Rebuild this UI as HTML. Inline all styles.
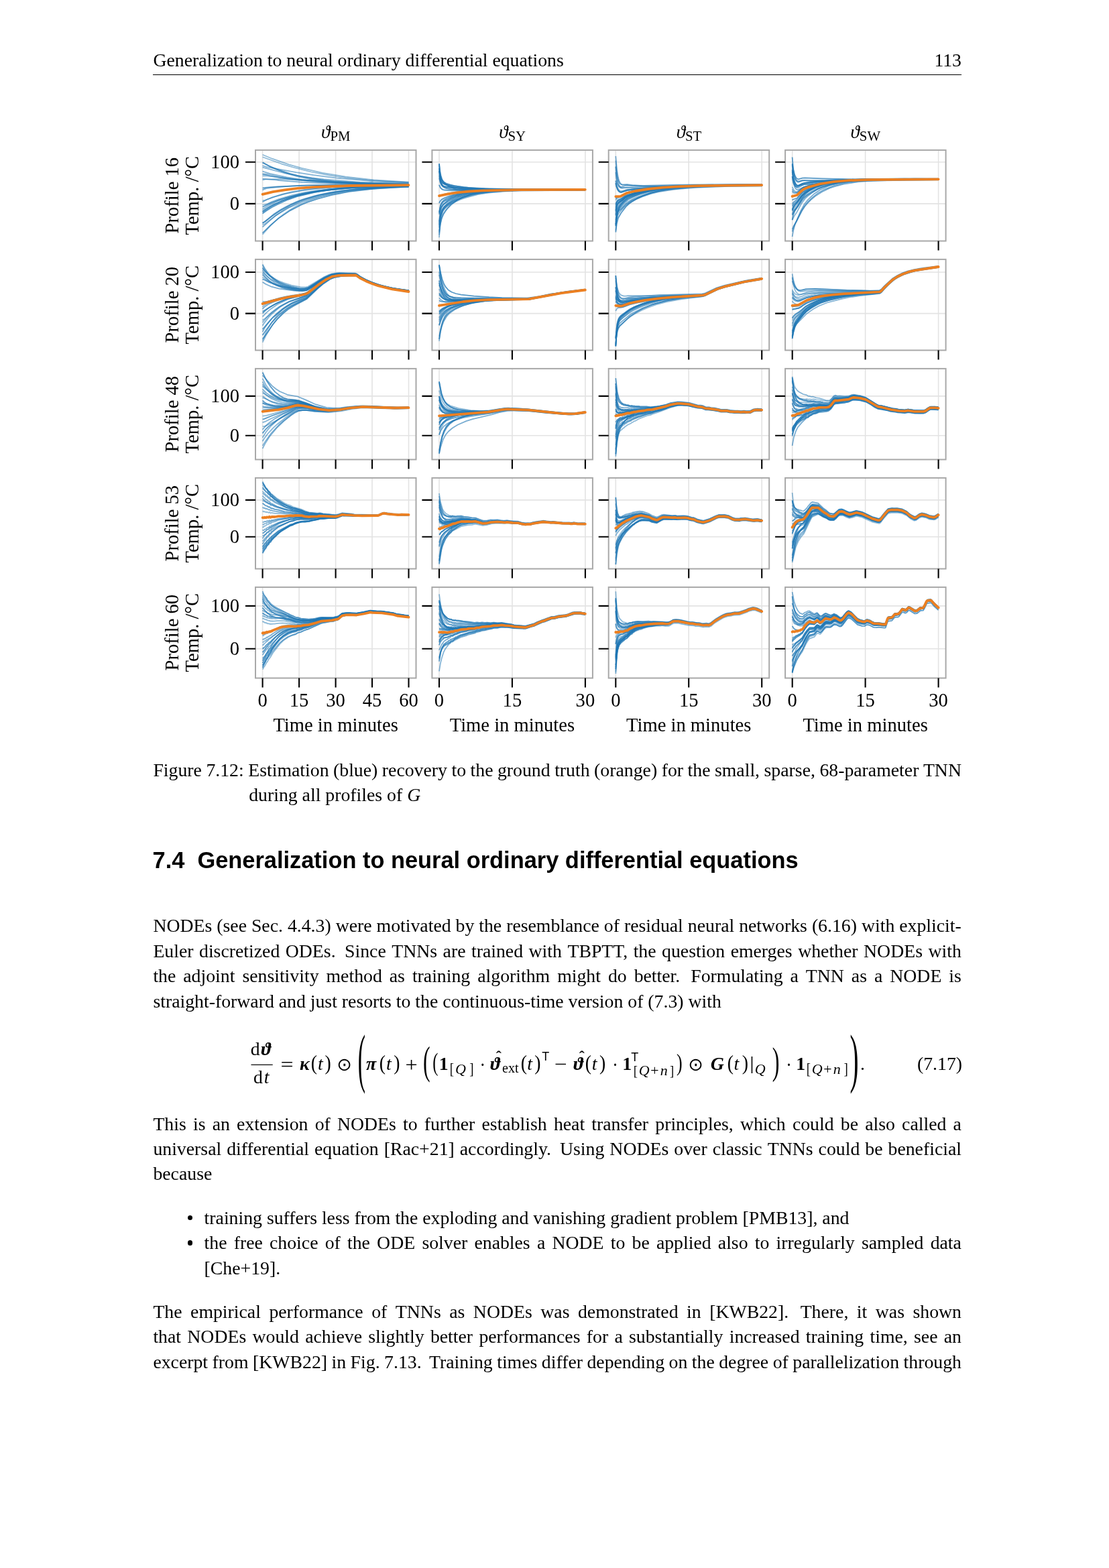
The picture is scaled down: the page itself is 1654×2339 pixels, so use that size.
<!DOCTYPE html>
<html><head><meta charset="utf-8"><title>Generalization to neural ordinary differential equations</title>
<style>
html,body{margin:0;padding:0;background:#fff;}
body{width:1654px;height:2339px;position:relative;overflow:hidden;font-family:"Liberation Serif", "DejaVu Serif", serif;font-size:27.78px;color:#000;}
.ln{position:absolute;white-space:nowrap;line-height:37.4px;height:37.4px;}
.j{display:flex;justify-content:space-between;}
.fig{position:absolute;left:0;top:0;}
.fig text{font-family:"Liberation Serif", "DejaVu Serif", serif;font-size:28.6px;fill:#000;}
.fig .ttl{font-size:28.8px;}
.fig .th{font-style:italic;font-size:27.2px;}
.fig .sub{font-size:20.8px;}
.grid{stroke:#e3e3e3;stroke-width:1.6;fill:none;}
.sp{fill:none;stroke:#a8a8a8;stroke-width:2.0;}
.tk{stroke:#000;stroke-width:2.1;fill:none;}
.bl{fill:none;stroke:#1f77b4;stroke-width:1.75;stroke-linejoin:round;}
.or{fill:none;stroke:#ec8022;stroke-width:3.8;stroke-linejoin:round;stroke-linecap:round;}
.hd{position:absolute;font-family:"Liberation Sans", "DejaVu Sans", sans-serif;font-weight:bold;font-size:34.4px;white-space:pre;line-height:40px;}
.rule{position:absolute;left:228px;width:1206px;top:111px;height:1px;background:#000;}
.m{position:absolute;white-space:nowrap;line-height:1;}
.it{font-style:italic;}
.bf{font-weight:bold;}
.bi{font-weight:bold;font-style:italic;}
.dot{position:absolute;width:7.4px;height:7.4px;border-radius:50%;background:#000;}
</style></head>
<body>
<div class="ln" style="top:70.72px;left:228.4px;">Generalization to neural ordinary differential equations</div>
<div class="ln" style="top:70.72px;left:1300px;width:1134px;left:300px;text-align:right;">113</div>
<div class="rule"></div>
<svg class="fig" width="1654" height="1110" viewBox="0 0 1654 1110">
<text x="500.8" y="205.5" text-anchor="middle" class="ttl"><tspan class="th">ϑ</tspan><tspan class="sub" dy="4.4">PM</tspan></text>
<text x="764.1" y="205.5" text-anchor="middle" class="ttl"><tspan class="th">ϑ</tspan><tspan class="sub" dy="4.4">SY</tspan></text>
<text x="1027.5" y="205.5" text-anchor="middle" class="ttl"><tspan class="th">ϑ</tspan><tspan class="sub" dy="4.4">ST</tspan></text>
<text x="1290.8" y="205.5" text-anchor="middle" class="ttl"><tspan class="th">ϑ</tspan><tspan class="sub" dy="4.4">SW</tspan></text>
<text transform="translate(266.4,291.7) rotate(-90)" text-anchor="middle" class="lab">Profile 16</text>
<text transform="translate(295.5,291.7) rotate(-90)" text-anchor="middle" class="lab">Temp. /°C</text>
<text x="357" y="251.1" text-anchor="end" class="lab">100</text>
<text x="357" y="313.2" text-anchor="end" class="lab">0</text>
<path d="M391.6 223.9V359.5M446.1 223.9V359.5M500.6 223.9V359.5M555.0 223.9V359.5M609.5 223.9V359.5M381.0 241.8H620.5M381.0 303.9H620.5" class="grid"/>
<clipPath id="cp00"><rect x="381.0" y="223.9" width="239.5" height="135.6"/></clipPath>
<g clip-path="url(#cp00)">
<path d="M391.6 230.7l14.3 6 24.8 8.6 19.4 5.5 30.6 7 34.8 5.8 41.9 4.8 52.1 3.2" class="bl" stroke-opacity="0.5"/>
<path d="M391.6 241.9l12.5 7.4 20.4 8.5 19.4 5.7 21.5 4.2 26.6 3.4 35.7 2.4 54.2 1.7 27.6 0.3" class="bl" stroke-opacity="0.55"/>
<path d="M391.6 242.8l9 4.4 12.7 5.4 19.4 6.6 12.3 3.1 14.3 2.9 19.4 3 20.4 2.3 45 3 30.7 0.9 34.7 0.5" class="bl" stroke-opacity="0.75"/>
<path d="M391.6 249.7l32.9 8.5 24.5 4.6 16.4 2.5 17.4 2.1 54.1 4.5 72.6 2.5" class="bl" stroke-opacity="0.55"/>
<path d="M391.6 255.7l11.4 3.4 24.6 5.2 22.5 3.6 26.5 2.7 22.5 1.4 4.1 0.6 36.8 1.5 69.5 1.1" class="bl" stroke-opacity="0.55"/>
<path d="M391.6 260.1l2.1-0.6 3.6 0 18 4 22.5 3.5 18.4 2.1 24.5 2.1 61.3 2.5 67.5 0.9" class="bl" stroke-opacity="0.5"/>
<path d="M391.6 262.4l3.1-0.3 4.6 0.4 30.3 3.9 20.5 2 44.9 3.2 38.9 1.7 75.6 1.5" class="bl" stroke-opacity="0.55"/>
<path d="M391.6 268.4l4.4-0.9 22.4-0.3 38.8 1.6 4.1-0.1 47 2.4 40.9 1.4 4.1-0.3 4.1 0.5 52.1 1.1" class="bl" stroke-opacity="0.55"/>
<path d="M391.6 280.6l2.2-0.5 0.9 0.3 0.9-0.5 18.7-1.6 45-1.8 76.6-0.7 73.6 0" class="bl" stroke-opacity="0.75"/>
<path d="M391.6 283.6l2.1-1.3 4.1-1.3 5.7-0.9 26.1-2.3 21.5-1.1 72.6-1.4 85.8 0" class="bl" stroke-opacity="0.6"/>
<path d="M391.6 299.3l3.8-0.8 14.8-5 15.3-4.3 24.6-4.7 18.4-2.3 25.5-2.3 34.8-1.6 34.7-0.9 46-0.5" class="bl" stroke-opacity="0.5"/>
<path d="M391.6 301.2l6.4-3.5 7.9-3.3 15.6-4.8 13.2-3.2 24.6-4.2 24.5-2.4 29.6-1.8 49.1-1.5 47-0.4" class="bl" stroke-opacity="0.6"/>
<path d="M391.6 305.5l2.9-0.1 4.4-1.4 6.7-3.2 10.7-3.9 19.5-5.9 18.4-4 16.3-2.5 21.5-2.5 40.9-2.8 11.2-0.1 20.4-1 45-0.6" class="bl" stroke-opacity="0.5"/>
<path d="M391.6 312.3l3-2.3 6.9-4.1 11.8-5.5 12.2-4.6 16.4-4.9 13.3-3.1 19.4-3.4 19.4-2.4 26.6-2.3 56.2-2.5 32.7-0.5" class="bl" stroke-opacity="0.55"/>
<path d="M391.6 315.1l4-3.1 7.2-4.2 6.4-3.2 10.2-4.4 16.4-5.7 8.1-2.3 22.5-5 27.6-4.1 32.7-3.1 27.6-1.5 55.2-1.6" class="bl" stroke-opacity="0.75"/>
<path d="M391.6 318.6l4.4-3.4 9.4-5.9 12-6.1 12.2-5.4 13.3-4.6 26.6-6.3 9.2-1.7 23.5-3.1 28.6-2.4 39.9-2 38.8-0.8" class="bl" stroke-opacity="0.75"/>
<path d="M391.6 332.3l3.1-1.3 10.1-7.9 12.6-8.5 17.3-9.5 12.3-5.3 8.2-2.9 22.5-6.2 26.5-4.9 30.7-3.7 30.7-2.2 43.9-1.5" class="bl" stroke-opacity="0.75"/>
<path d="M391.6 335.6l4-2.2 10-7.8 7.7-5.4 17.4-10.2 20.4-9 10.2-3.5 18.4-5.2 28.6-5.3 30.7-3.9 29.6-2.4 40.9-1.8" class="bl" stroke-opacity="0.5"/>
<path d="M391.6 338.7l18.6-16.4 10.2-7.1 8.2-5.1 17.4-8.6 14.3-5.2 11.2-3.5 6.2-1.7 21.4-4.4 10.2-1.7 20.5-2.5 28.6-2.4 51.1-2.3" class="bl" stroke-opacity="0.6"/>
<path d="M391.6 349.7l12.3-13.6 10.4-9.8 9.2-7.1 9.2-6.1 10.2-6 14.3-6.6 15.4-5.6 17.3-4.8 11.3-2.4 25.5-4.1 27.6-2.8 21.5-1.5 33.7-1.3" class="bl" stroke-opacity="0.5"/>
<path d="M391.6 234.2l27.8 10.1 17.4 5.2 27.6 7 27.6 5.1 23.5 3.5 32.7 3.4 29.6 2.1 31.7 1.6" class="bl" stroke-opacity="0.5"/>
<path d="M391.6 247.1l6.4 2 5.5 1.1 38.4 7 25.5 4 34.8 4.4 56.2 4.7 51.1 2.4" class="bl" stroke-opacity="0.55"/>
<path d="M391.6 259.4l11.8 3.1 22.1 3.6 16.4 2.2 25.5 2.5 32.7 2.1 29.7 1.2 48 1.2 31.7 0.2" class="bl" stroke-opacity="0.6"/>
<path d="M391.6 266.7l20.7 1.8 4 0.7 34.8 2.6 46 2 49 1.1 63.4 0.7" class="bl" stroke-opacity="0.6"/>
<path d="M391.6 308.7l13-6.3 12.8-4.5 13.3-4 20.4-4.7 22.5-3.7 17.4-2.1 32.7-2.8 45.9-2.3 39.9-0.9" class="bl" stroke-opacity="0.75"/>
<path d="M391.6 316.5l12.7-8.5 17.2-8.8 14.3-5.6 9.2-2.7 19.4-4.6 24.5-3.7 20.4-2.2 41.9-2.5 58.3-1.3" class="bl" stroke-opacity="0.75"/>
<path d="M391.6 333.2l16.6-13.6 11.2-7.4 9.2-5 13.3-6.2 9.2-3.5 18.4-5.5 23.5-5.2 30.7-4.3 14.3-1.4 34.7-2.2 36.8-1.2" class="bl" stroke-opacity="0.6"/>
<path d="M391.6 347.5l11.4-11.2 12.3-10.4 17.4-11.8 16.3-8.4 8.2-3.5 16.4-5.6 21.4-5.8 25.6-4.8 34.7-4.2 46-2.9 8.2-0.1" class="bl" stroke-opacity="0.75"/>
<path d="M391.6 289.9l15.5-3.7 17.4-2.9 19.4-2.4 22.5-1.7 56.2-2.2 86.9-0.9" class="or"/>
</g>
<rect x="381.0" y="223.9" width="239.5" height="135.6" class="sp"/>
<path d="M391.6 359.5v14M446.1 359.5v14M500.6 359.5v14M555.0 359.5v14M609.5 359.5v14M381.0 241.8h-15M381.0 303.9h-15" class="tk"/>
<path d="M655.0 223.9V359.5M763.9 223.9V359.5M872.9 223.9V359.5M644.4 241.8H883.9M644.4 303.9H883.9" class="grid"/>
<clipPath id="cp01"><rect x="644.4" y="223.9" width="239.5" height="135.6"/></clipPath>
<g clip-path="url(#cp01)">
<path d="M655 244.2l0.9 10.2 1.3 7.9 1.5 5 2.2 4.1 3.5 3.5 5.9 3.6 6.7 2.8 5.2 1.5 18.9 2.2 17.1 0.3 56.9-1 97.7-0.5" class="bl" stroke-opacity="0.75"/>
<path d="M655 354.2l1.3-17.2 1.4-11.1 1.3-6.1 1.7-4.8 1.5-2.7 5.6-5.9 6.2-4.4 8.2-4.3 9.4-3.8 14.2-4.1 7.6-1.5 24.7-3 19.9-1.3 58.9-1.1 55.9-0.1" class="bl" stroke-opacity="0.5"/>
<path d="M655 350.3l1.4-13.6 1.9-9.7 2.4-7 3.7-6.1 7.8-8.5 9.6-6.9 9.8-4.9 10.4-3.7 8.6-2 8.5-1.5 26.6-2.6 41.7-1.2 85.4-0.1" class="bl" stroke-opacity="0.55"/>
<path d="M655 346.9l1.8-13.4 2.1-8.1 2.9-6.5 5.6-7.8 5.9-6 8.9-6.8 8.4-4.3 12.4-4.4 19-3.6 10.4-1.1 23.7-1.3 39.9-0.8 76.8-0.1" class="bl" stroke-opacity="0.6"/>
<path d="M655 344.6l1.3-13.2 1.3-7.9 2.4-8 2.6-4 3.3-3 7.4-4.8 13.6-6.3 9.4-3.1 17.1-4.3 15.2-2.4 24.7-2.3 34.1-1.7 85.4-0.5" class="bl" stroke-opacity="0.55"/>
<path d="M655 339.5l1.3-12.2 1.4-7.8 2.1-5.7 3.2-4.2 2.5-2.4 4.8-3.1 8.2-4.5 12.1-5 12.4-3.5 11.4-2.4 14.2-2.1 37-2.5 46.5-1.1 60.7-0.1" class="bl" stroke-opacity="0.6"/>
<path d="M655 336.7l1.3-10.6 1.4-7.6 2.1-5.9 3.2-4.6 6.2-4.9 8.5-4.3 9.2-3.6 15.1-4.2 15.2-2.8 13.3-1.7 39.9-2.7 43.6-0.8 23.7 0.4 9.5-0.5 3.8 0.3 21.8-0.3" class="bl" stroke-opacity="0.55"/>
<path d="M655 334.8l0.9-9.2 1.3-7.5 1.5-4.4 3-4.8 6.4-5.9 7.8-5 7.4-3.8 14-4.7 14.2-2.9 13.3-1.7 25.6-1.7 41.8-0.8 80.6-0.1" class="bl" stroke-opacity="0.6"/>
<path d="M655 332.3l1.8-9.9 2.6-7.9 2.6-4.4 5-5.2 8.1-5.4 8.2-4.1 10.2-3.6 11.4-2.8 8.5-1.7 13.3-1.5 16.1-1.4 18.1-0.8 54.1-0.8 57.8 0" class="bl" stroke-opacity="0.55"/>
<path d="M655 330.4l2-16.2 1.7-4.9 2.2-3.3 2.1-2 5.5-3.7 9.6-5 5.2-2.1 12.1-3.4 12.3-2.5 9.5-1 9.5-0.9 27.5-1.3 34.2-0.7 84.4-0.3" class="bl" stroke-opacity="0.75"/>
<path d="M655 319.8l2-8.5 2.2-4.3 1.3-1.8 7.6-6.3 4.8-2.8 8.5-3.8 7.3-2.3 10.5-2.3 23.7-2.8 20.9-1 64.5-0.9 64.5 0" class="bl" stroke-opacity="0.75"/>
<path d="M655 317.7l2-11.7 2-4.4 2.7-2.6 4.2-2.7 9.6-4.2 3.7-0.9 2.2-1 11.1-2.6 17.1-2.5 30.4-2.1 37-0.7 95.8 0" class="bl" stroke-opacity="0.75"/>
<path d="M655 316.7l1.3-6.7 1.8-5.1 3-3.6 3.3-2.2 9.6-4.7 7.8-2.8 9.8-2.6 10.4-1.9 16.2-1.9 27.5-1.7 37.9-0.7 89.2-0.1" class="bl" stroke-opacity="0.75"/>
<path d="M655 303.4l1.4-3.2 2.3-2.8 4.6-2.7 5.6-2 7.3-2.2 12.5-2.4 19-2.7 28.5-1.8 41.8-1.1 94.8-0.2" class="bl" stroke-opacity="0.5"/>
<path d="M655 302.6l1.4-2.5 2.6-2.5 9.5-4.3 9.2-2.6 8.2-1.7 11.4-1.9 13.3-1.3 30.3-1.8 35.2-0.6 96.7-0.4" class="bl" stroke-opacity="0.5"/>
<path d="M655 293.1l5.4-2.7 4-1.3 11.8-2.3 14.4-1.8 26.6-1.7 46.5-1.1 109.1-0.1" class="bl" stroke-opacity="0.55"/>
<path d="M655 276l1.6 3.8 2.1 2.3 2.4 0.9 8.1 0.7 36.6-0.2 7.6-0.5 159.4-0.1" class="bl" stroke-opacity="0.55"/>
<path d="M655 275.7l2.4 4.7 3.1 2.6 2.8 0.9 6.7 0.6 18.7 0.2 76-1.6 108.1-0.3" class="bl" stroke-opacity="0.5"/>
<path d="M655 265.7l2.2 8.3 1.1 2.2 2.2 2.5 3.6 1.6 2.9 0.8 13.3 1.7 29.3 0.8 119.6-0.9 3.8 0.4 39.8-0.2" class="bl" stroke-opacity="0.55"/>
<path d="M655 262.9l1.4 8.7 2.1 4.5 1.3 1.2 2.2 1 7.2 0.9 40.4 2 51.3 0.8 3.8 0.4 10.4-0.3 42.7 0.6 55-0.2" class="bl" stroke-opacity="0.5"/>
<path d="M655 260.6l2.2 10.7 3 6.3 2.8 2.3 2.2 0.9 7.4 1.8 20.9 1.5 24.7 0.6 154.6-0.8" class="bl" stroke-opacity="0.6"/>
<path d="M655 255.1l1.8 14.3 0.9 3.2 1.3 2.5 1.7 1.9 2.6 1.1 7.4 1.2 28.5 2 34.2 1.2 139.4 0.4" class="bl" stroke-opacity="0.75"/>
<path d="M655 254.7l1.4 13.2 1.2 4.8 1.4 3.1 3 2.3 4.3 1.2 7.7 1.1 15.7 1.4 33.2 1.1 149.9 0.1" class="bl" stroke-opacity="0.6"/>
<path d="M655 254.6l2 11.7 1.5 3.8 2 2.7 3.6 2.4 6.6 2.6 12.6 2.6 9.2 1.2 27.6 1.5 152.7-0.2" class="bl" stroke-opacity="0.75"/>
<path d="M655 251.2l1.3 8.8 1.3 5.1 1.8 3.9 2.8 2.9 3.3 1.7 5.6 1.8 6.6 1.7 13.9 2.3 21.8 1.8 21.8 0.9 137.6 0.5" class="bl" stroke-opacity="0.75"/>
<path d="M655 251l1.4 13.7 1 4 1.3 3 2.2 2.1 2.4 0.9 8.9 1.8 26 3.2 24.7 1.4 19 0.6 58.8 0.7 72.1 0" class="bl" stroke-opacity="0.55"/>
<path d="M655 245.7l1.8 19.8 0.9 3.8 1.9 3.6 2.4 1.7 2.4 0.7 14.8 3.2 19 2.1 38 1.6 136.6 0.2" class="bl" stroke-opacity="0.6"/>
<path d="M655 244.2l1.3 11.1 1.3 6.6 1.6 5.2 2.6 4.4 2.6 2.5 4.1 2.4 8.9 3.4 6.6 1.4 11.4 1.6 9.5 0.7 21.8 0.5 146.1-0.8" class="bl" stroke-opacity="0.6"/>
<path d="M655 292.1l13.1-2.8 14.8-2.2 17.2-1.6 20-1.2 53.1-1.2 99.6-0.3" class="or"/>
</g>
<rect x="644.4" y="223.9" width="239.5" height="135.6" class="sp"/>
<path d="M655.0 359.5v14M763.9 359.5v14M872.9 359.5v14M644.4 241.8h-15M644.4 303.9h-15" class="tk"/>
<path d="M918.3 223.9V359.5M1027.2 223.9V359.5M1136.2 223.9V359.5M907.7 241.8H1147.2M907.7 303.9H1147.2" class="grid"/>
<clipPath id="cp02"><rect x="907.7" y="223.9" width="239.5" height="135.6"/></clipPath>
<g clip-path="url(#cp02)">
<path d="M918.3 232.9l1.7 19.7 1.8 11.7 1.3 4.9 1.9 4 1.7 1.9 1.4 0.5 7.1 0.2 7.4 1.1 14.2 1 27.6 0.4 96.8-1.3 55-0.3" class="bl" stroke-opacity="0.6"/>
<path d="M918.3 346.4l1.5-12.3 2.2-8.8 4.3-7.6 7.4-9.6 4.4-4.1 4.5-3.3 6.7-4 9.4-4.6 10.5-3.9 10.4-2.9 13.3-2.6 16.1-2.3 15.2-1.3 21.8-1.3 28.5-0.8 61.7-0.5" class="bl" stroke-opacity="0.75"/>
<path d="M918.3 343.7l1.9-22.1 1.3-5.5 1.5-2.9 9.2-9.3 3.7-3 11.5-6.1 15.1-5.7 13.3-3.7 10.5-1.9 19.9-2.8 15.2-1.3 40.8-2 32.2-0.8 41.8-0.1" class="bl" stroke-opacity="0.5"/>
<path d="M918.3 336.9l1.3-12 1.7-9.1 1.8-5.5 3.9-6 3.7-4.1 4.8-3.9 7.8-3.5 14.5-5 20.9-4.9 19.9-2.7 24.7-2.2 38.9-1.5 74-0.8" class="bl" stroke-opacity="0.75"/>
<path d="M918.3 337.4l1.5-10.2 2.2-7.3 2.1-3.4 7-7.9 7.4-5.8 9.8-5.3 9.5-4.1 13.3-4.5 11.4-2.7 20.8-3.4 33.3-3 50.3-1.9 49.3-0.4" class="bl" stroke-opacity="0.6"/>
<path d="M918.3 335.1l1.1-10.9 1.7-6.8 2.2-3.1 2.6-2 7.8-7.8 7.7-5.1 8.8-4.2 20.9-7.3 13.3-3 12.3-2.1 29.4-3 23.7-1.2 41.8-1.2 44.6-0.4" class="bl" stroke-opacity="0.75"/>
<path d="M918.3 334.4l1.5-11.8 2-8.1 2.8-4.9 6.1-7.1 5.9-4.7 9.6-4.9 7.8-2.9 12.3-3.8 19-3.9 17.1-2.1 18-1.5 54.1-2.1 61.7-0.5" class="bl" stroke-opacity="0.75"/>
<path d="M918.3 331.2l1.5-11.5 2-8.3 2.6-5 5.6-6.8 5.2-4.4 3.7-2.1 10.4-4.2 8.5-2.6 12.3-2.8 18.1-2.7 27.5-2.2 43.6-1.5 76.9-0.7" class="bl" stroke-opacity="0.55"/>
<path d="M918.3 328.5l1.7-14.1 1.3-4.2 1.7-2.3 9.9-9.6 6-3.9 8.1-3.6 14.6-4.9 10.4-2.4 12.4-2 30.3-3.1 20.9-0.9 10.4 0 5.7-0.6 84.5-0.8" class="bl" stroke-opacity="0.6"/>
<path d="M918.3 321.8l1.7-8.9 1.8-5.1 2.8-4 6.5-6.6 4.8-3.4 6.3-2.7 19.4-5.7 14.2-2.7 11.4-1.4 37-2.8 63.6-1.6 48.4-0.2" class="bl" stroke-opacity="0.55"/>
<path d="M918.3 320.4l1.3-11.5 1.1-4 1.5-2.6 5.6-3.3 4.8-4.2 6.3-3 12.2-4.2 11.4-2.8 19-3.2 12.4-1.4 31.3-2.3 39.8-1.3 71.2-0.6" class="bl" stroke-opacity="0.75"/>
<path d="M918.3 315.9l2-8.3 1.9-3.5 10.4-9 8.1-3.7 8.6-2.7 23.7-5.1 23.7-2.7 27.5-1.8 58.9-1.6 53.1-0.4" class="bl" stroke-opacity="0.55"/>
<path d="M918.3 314.3l0.9-5.9 1.3-3.6 1.3-1.6 6-4.3 4.8-4.6 8.8-4.7 8.8-3.2 18-4.1 19-2.8 14.2-1.3 33.3-1.6 47.4-0.8 54.1-0.2" class="bl" stroke-opacity="0.75"/>
<path d="M918.3 313.6l1.9-7.4 2.8-5 10.7-8.7 4.4-2 7.4-2.4 22.7-4.9 27.6-3.3 14.2-1.2 28.5-1.2 45.5-1 52.2-0.3" class="bl" stroke-opacity="0.6"/>
<path d="M918.3 310.8l1.3-8.7 1.5-3.3 1.5-1.2 4.4-2.2 7.4-5.5 7-2.6 7.9-2.2 20.8-4 24.7-2.5 33.2-1.8 55.1-1 53.1-0.2" class="bl" stroke-opacity="0.5"/>
<path d="M918.3 307.9l1.3-4.8 1.7-3 5.7-3.2 5.6-4.1 4-1.9 14.5-4.2 22.8-4.3 26.6-3 26.6-1.5 56.9-1.5 52.2-0.2" class="bl" stroke-opacity="0.5"/>
<path d="M918.3 305.5l2.4-4.4 2.4-1.5 1.3-0.2 8.5-5.7 5.6-2.5 19.3-5 12.3-2.4 13.3-1.8 20.9-2 26.6-1.7 47.4-1.4 57.9-0.3" class="bl" stroke-opacity="0.55"/>
<path d="M918.3 304.7l1.3-3.7 1.9-2.3 4.8-1.9 5.9-4.1 3-1.4 15-4.1 23.7-4.3 26.6-2.7 36.1-1.9 44.6-1.1 55-0.4" class="bl" stroke-opacity="0.75"/>
<path d="M918.3 298.8l1.1-1.8 1.7-1.4 5.2-2.7 5.2-3.7 5.5-2.6 7.8-2 14.9-2.9 18-2.3 26.6-2.2 38-1.3 62.6-0.8 27.5 0.4 3.8-0.4" class="bl" stroke-opacity="0.5"/>
<path d="M918.3 296.3l2.2-2.1 4.9-1.3 8.3-4.9 5.5-2 17.6-3.4 20-2.6 27.5-2.2 27.5-1 33.2-0.9 71.2-0.2" class="bl" stroke-opacity="0.75"/>
<path d="M918.3 273.1l0.9 4.8 1.7 5 1.7 2.7 2.8 1.5 2-0.2 7.4-3.2 5.5-0.9 20.3-2.3 25.7-1.9 23.7-1.2 50.3-1.1 75.9-0.3" class="bl" stroke-opacity="0.5"/>
<path d="M918.3 273.3l1.3 5.3 1.9 4.3 2.4 3 2.4 0.7 10.3-2.8 7.8-0.6 1.5-0.5 1.5 0.3 37.9-3.2 27.5-1.2 4.8 0.2 39.8-1.4 78.8-0.7" class="bl" stroke-opacity="0.75"/>
<path d="M918.3 269.4l1.3 8.3 1.9 5.7 2.4 2.9 2.4 0.6 10.7-3.8 1.5 0.2 5.2-1.1 9.3-1 29.5-2.5 21.8-1.1 3.8 0.2 9.5-0.8 35.1-0.8 83.5-0.5" class="bl" stroke-opacity="0.5"/>
<path d="M918.3 269.6l1.5 6.5 2 5.2 1.7 2.4 1.9 1.2 1.3 0.2 8.5-2.4 11.8-1.1 26-1.9 28.4-1.3 63.6-1.3 71.2-0.3" class="bl" stroke-opacity="0.5"/>
<path d="M918.3 256.8l1.1 10.3 1.3 6.2 1.9 3.8 1.5 1.2 2.2 0.6 6.6-1.9 10.4-0.5 17.3 0.3 49.4-1.1 68.3-0.7 57.9 0.1" class="bl" stroke-opacity="0.6"/>
<path d="M918.3 248.9l0.9 14.3 1.5 10.2 1 2.7 1.4 2.5 1.2 1 2 0.8 7.8-0.7 18 0.9 97.7-3.3 86.4-0.8" class="bl" stroke-opacity="0.55"/>
<path d="M918.3 248.1l1.7 13.9 1.8 7.3 2.3 4.1 1.5 1.3 2.2 0.6 7.4-0.4 8.1 1.1 14.5 1 35.1 0.7 78.8-1.1 64.5-0.1" class="bl" stroke-opacity="0.5"/>
<path d="M918.3 239.6l1.7 19.2 2.2 13.1 1.1 3.7 1.5 2.9 1.5 1.6 1.8 0.5 7.8-1.1 76-2.8 51.2-1 3.8 0.3 21.9-0.5 47.4 0" class="bl" stroke-opacity="0.55"/>
<path d="M918.3 293.2l7.1-0.3 9.4-4.9 12.6-3 18.9-3 22.8-2.3 25.6-1.6 30.4-1 91.1-1" class="or"/>
</g>
<rect x="907.7" y="223.9" width="239.5" height="135.6" class="sp"/>
<path d="M918.3 359.5v14M1027.2 359.5v14M1136.2 359.5v14M907.7 241.8h-15M907.7 303.9h-15" class="tk"/>
<path d="M1181.7 223.9V359.5M1290.6 223.9V359.5M1399.6 223.9V359.5M1171.1 241.8H1410.6M1171.1 303.9H1410.6" class="grid"/>
<clipPath id="cp03"><rect x="1171.1" y="223.9" width="239.5" height="135.6"/></clipPath>
<g clip-path="url(#cp03)">
<path d="M1181.6 234.5l1.4 16.4 1.6 10.5 1.1 3.8 1.5 3 1.7 1.7 1.5 0.5 1.8 0 4.1-1.2 3.3-0.2 9.3 0.8 22.7 0.1 8.5-0.7 53.2-1.3 20.8-0.3 3.8 0.3 20.9-0.6 5.7 0.4 55.1-0.4" class="bl" stroke-opacity="0.75"/>
<path d="M1181.6 353.1l1.7-9.7 2.6-8.9 8.2-19.7 5.5-10.1 5.2-6.6 9.7-9.2 8.5-5.7 11.4-5.3 7.6-2.5 12.4-2.9 23.7-3 31.3-1.5 90.2-0.6" class="bl" stroke-opacity="0.6"/>
<path d="M1181.6 345.4l2.5-8.3 11.5-22.9 4-6.5 5.6-6.8 6.5-6.3 7.5-6 10.5-6 13.3-5.4 18-4.5 7.6-1.2 19.9-2.2 41.8-1.7 69.3-0.3" class="bl" stroke-opacity="0.6"/>
<path d="M1181.6 342.1l1.9-4.6 5.4-8.8 7.8-15.3 4-5.9 4.5-5.2 4.4-4.4 6.8-5.6 9.5-6 11.4-5.7 7.6-2.5 13.3-3.4 20.8-3.2 15.2-1.4 57.9-1.9 43.7-0.4 3.8 0.4" class="bl" stroke-opacity="0.6"/>
<path d="M1181.6 328.4l3.2-6.7 3.7-5.3 7.4-13.7 4.8-6.3 3.7-3.6 7.3-5.7 8.5-5.4 8.5-3.7 10.5-3.4 10.4-2.3 11.4-1.8 21.8-2 43.7-1.2 73.1-0.2" class="bl" stroke-opacity="0.55"/>
<path d="M1181.6 328l1.5-7.6 2.3-5.6 3.3-5.4 7.2-13.5 5.2-6.3 6.3-5.3 10.9-6.2 5.7-2.3 9.5-2.8 11.4-2.2 16.1-1.8 24.7-1.4 41.7-0.7 72.2-0.1" class="bl" stroke-opacity="0.75"/>
<path d="M1181.6 320.6l2.5-5 5.9-6.8 6.3-9.8 4.1-4.3 4-3.4 13.9-8.4 7.6-3.2 13.3-4.3 9.5-2.1 12.3-2.1 20.9-2 18-0.9 38.9-1 40.8-0.4 20 0.3" class="bl" stroke-opacity="0.5"/>
<path d="M1181.6 320.8l2.5-6.2 5.6-7.2 7.3-11.4 4.8-4.7 7.4-5.2 11-5.8 16.1-5.3 18.1-3.5 13.2-1.4 22.8-1.5 46.5-1 62.7-0.1" class="bl" stroke-opacity="0.5"/>
<path d="M1181.6 318.8l2.3-5.1 5.8-6.3 8.1-11.5 5.1-4.3 7.1-4.7 9.2-4.8 7.6-3.1 12.4-3.4 11.4-2.4 12.3-1.9 28.5-2.3 48.4-1.3 59.8-0.1" class="bl" stroke-opacity="0.55"/>
<path d="M1181.6 315.2l2.5-4.7 4.3-5 7.5-11.6 6.3-6.3 7-4.5 8.1-4.1 6.7-2.6 12.3-3.5 9.5-1.8 20.9-2.2 28.5-1.5 56-0.6 48.4 0.1" class="bl" stroke-opacity="0.55"/>
<path d="M1181.6 313.7l1.5-3.9 2.1-3.5 5.2-6 5.2-7.7 5.1-4.9 8.2-5 8.4-3.9 12.4-3.8 22.8-3.8 28.4-2.1 53.2-1.3 65.5 0" class="bl" stroke-opacity="0.75"/>
<path d="M1181.6 313.1l1.9-4.4 1.7-2.5 4.8-5.6 5.2-7.8 4.8-5 5.5-3.9 9.9-5 10.5-3.6 9.5-2.3 22.8-3.3 31.3-1.7 51.2-0.8 58.9-0.1" class="bl" stroke-opacity="0.75"/>
<path d="M1181.6 312.1l1.5-4.9 1.2-1.8 5.7-5.8 5.6-7.9 5.1-5 6.3-3.9 8.4-4 11.4-4.1 12.4-2.8 12.3-1.9 17.1-1.7 22.8-1.1 57.9-0.8 7.5 0.3 6.7-0.4 36.1 0.2" class="bl" stroke-opacity="0.5"/>
<path d="M1181.6 307.6l3-4 4.7-3.4 8.1-9.8 5.2-3.8 14.7-6.9 12.4-3.7 8.5-1.9 20-3 9.4-0.9 29.5-1.5 21.8-0.6 80.7-0.4" class="bl" stroke-opacity="0.6"/>
<path d="M1181.6 305.8l2.1-3.5 6-4.3 7.3-8.9 3.7-3 5.2-2.9 12.4-5.1 11.4-3.3 13.3-2.5 18-2.2 20.9-1.4 58.8-1.2 58.9-0.1" class="bl" stroke-opacity="0.5"/>
<path d="M1181.6 304.1l1.9-2.8 5.2-4.3 8-9.8 3.7-3 6.6-3.7 9.4-3.7 11.4-3.3 9.5-2 27.5-3.1 30.4-1.2 55-0.7 49.4 0.2" class="bl" stroke-opacity="0.5"/>
<path d="M1181.6 298.6l1.4-1.1 5.7-2 5.8-6.4 2.9-2.7 8.5-4.6 20-6.4 22.8-3.8 23.7-1.8 48.4-1.6 78.8-0.3" class="bl" stroke-opacity="0.75"/>
<path d="M1181.6 285.3l1 1.6 1.5 1.3 3.9-0.2 1.3-0.4 8.8-7.8 10.4-3.8 13.6-3.2 26.6-3.3 28.4-1.6 18.1-0.1 3.8-0.4 100.6-0.3" class="bl" stroke-opacity="0.6"/>
<path d="M1181.6 282.4l2.3 3.6 2.4 1 1.9 0.1 2.2-1.2 4.8-4.3 3.7-2.4 10-3.1 13.2-2.8 9.5-1.4 26.6-2.5 60.7-1.7 80.7-0.2" class="bl" stroke-opacity="0.6"/>
<path d="M1181.6 278.9l2.7 5 2.4 2 1.5 0.3 2.6-1 5.5-4.6 3.3-1.8 7-2.3 23.1-4.6 19.9-2.5 19.9-1.2 38-1 56.9-0.5 35.2 0.3" class="bl" stroke-opacity="0.5"/>
<path d="M1181.6 262.8l1 6.5 1.3 4.8 2 3.5 2.5 1.3 2-0.6 5.5-3.8 4.1-1.4 8.5-1.4 3.2 0 8.5-1.2 24.7-1.8 26.5-1 43.7-0.6 84.5-0.1" class="bl" stroke-opacity="0.75"/>
<path d="M1181.6 263.5l1.5 8.9 2.3 7 2.2 3.1 2.4 0.9 8.9-4.3 10.3-2.1 30-4.1 14.2-1.2 27.5-1.5 30.4-0.8 88.3-0.9" class="bl" stroke-opacity="0.6"/>
<path d="M1181.6 255.8l1 7.1 1.7 7.3 2.4 4.8 2.2 1.5 2.2-0.1 4.8-2.2 5.6-1.2 7-0.2 6.9-0.9 41.8-3.2 61.7-1.7 80.7 0" class="bl" stroke-opacity="0.75"/>
<path d="M1181.6 254.2l1.7 10.2 2.1 6.9 2.4 4.5 2.6 1.6 9.2-2.2 10.7-0.4 42.2-3.9 4.7 0 15.2-1.1 59.8-1.5 67.4-0.2" class="bl" stroke-opacity="0.75"/>
<path d="M1181.6 252.6l1.2 11.3 1.6 9.3 2.1 5.1 2.4 2.1 1.9-0.3 7-4.4 6.3-1.6 22.7-3.2 25.7-2.1 29.4-1.1 37.9-0.6 79.8-0.1" class="bl" stroke-opacity="0.55"/>
<path d="M1181.6 246.1l1.2 16.3 1.3 8.5 1.1 3.5 1.3 2.1 0.6 0.6 1.8 0.4 1.9-0.4 6.6-3.8 7.4-1.4 15.4-1.5 27.5-1.5 13.3-0.6 59.8-0.7 78.8 0" class="bl" stroke-opacity="0.6"/>
<path d="M1181.6 244.9l1.7 12.7 1.7 6.9 1.1 3.3 1.7 2.7 2.6 1.4 6.3-2.3 10.3-0.5 107.1-1.2 85.5-0.1" class="bl" stroke-opacity="0.6"/>
<path d="M1181.6 243.9l1.5 9.3 2.3 8.2 2.4 4.4 1.5 1.1 1.5 0.4 5.9-1.7 3.7-0.2 25.5 1 48.4 0.9 125.3 0" class="bl" stroke-opacity="0.75"/>
<path d="M1181.6 292.9l7.1-1.9 8.7-8 3.7-2 5.5-2.2 16.4-4.5 20-3.2 22.7-1.9 28.5-1.1 105.4-0.8" class="or"/>
</g>
<rect x="1171.1" y="223.9" width="239.5" height="135.6" class="sp"/>
<path d="M1181.7 359.5v14M1290.6 359.5v14M1399.6 359.5v14M1171.1 241.8h-15M1171.1 303.9h-15" class="tk"/>
<text transform="translate(266.4,454.7) rotate(-90)" text-anchor="middle" class="lab">Profile 20</text>
<text transform="translate(295.5,454.7) rotate(-90)" text-anchor="middle" class="lab">Temp. /°C</text>
<text x="357" y="415.3" text-anchor="end" class="lab">100</text>
<text x="357" y="476.9" text-anchor="end" class="lab">0</text>
<path d="M391.6 386.9V522.5M446.1 386.9V522.5M500.6 386.9V522.5M555.0 386.9V522.5M609.5 386.9V522.5M381.0 406.0H620.5M381.0 467.6H620.5" class="grid"/>
<clipPath id="cp10"><rect x="381.0" y="386.9" width="239.5" height="135.6"/></clipPath>
<g clip-path="url(#cp10)">
<path d="M391.6 394.1l3.4 6.4 5.2 7.2 4.1 4.3 9 7.4 8.2 4.6 6.1 2.7 7.1 2.3 9.2 2.3 8.2 0.9 3.1 0 3-0.9 7.2-3.9 17.4-11.3 9.2-4.2 4.1-1.3 10.2-1.3 22.5 0.2 3 0.8 6.2 4.3 10.2 5.3 10.2 4.2 10.2 3.3 24.5 5.2 16.4 2.1" class="bl" stroke-opacity="0.5"/>
<path d="M391.6 395.7l3 5.5 4.7 6.8 6.8 7.5 5.1 4.3 8.2 5 7.2 3.2 17.3 4.6 6.2 0.7 7.1-0.4 7.2-4 17.4-11.6 12.2-5.9 9.2-1.7 17.4-0.3 10.2 0.5 5.1 3.7 11.3 5.9 9.2 3.8 12.2 3.8 18.4 4.4 22.5 3" class="bl" stroke-opacity="0.55"/>
<path d="M391.6 399.2l3.3 4.9 6.2 6.6 11.2 7.8 5.1 2.7 9.2 3.6 8.1 2.5 11.3 2.5 8.2 0.4 5.1-1 23.5-14.4 12.2-5.3 6.2-1.1 3-0.1 25.6 0.2 3.1 1.5 9.1 6 9.2 4.5 15.4 5.5 18.4 4.3 10.2 1.9 14.3 1.7" class="bl" stroke-opacity="0.75"/>
<path d="M391.6 401.2l5.7 5.8 5.3 4.2 6.6 4.2 7.1 3.8 7.2 2.8 11.2 3.6 13.3 2.6 8.2 0.2 3.1-0.8 23.5-14.2 8.2-3.8 4-1.3 8.2-1.2 25.6 0.4 3 0.8 5.1 3.9 9.2 5 9.2 4 8.2 2.9 13.3 3.8 11.2 2.3 21.5 2.9" class="bl" stroke-opacity="0.5"/>
<path d="M391.6 403.3l3.3 4.7 5.1 5.7 5.2 4.6 5 3.7 6.1 3.3 7.2 2.9 9.2 2.5 10.2 2 11.3 0.3 3-0.4 10.2-6.4 14.4-9.7 11.2-5.6 6.1-1.6 6.2-0.9 10.2 0 15.3 0.4 9.2 6 6.1 3.1 5.1 2.3 11.3 4.1 13.3 3.7 9.2 1.9 24.5 3.6" class="bl" stroke-opacity="0.55"/>
<path d="M391.6 405.9l6 5.7 5.9 4.6 12.8 6.9 11.3 3.8 11.2 2.8 7.2 1.2 8.2 0.3 4-0.8 24.6-15.2 11.2-5.3 10.2-1.5 10.3 0 16.3 0.6 8.2 5.4 12.2 6.1 16.4 5.8 14.3 3.5 14.3 2.6 13.3 1.5" class="bl" stroke-opacity="0.5"/>
<path d="M391.6 407.8l3.6 4.5 5.6 5.6 4.8 3.7 7.7 4.4 7.1 2.9 7.2 1.9 14.3 2.7 8.2 0.4 6.1-0.6 2-0.7 8.2-5.1 16.4-11.2 7.1-3.8 6.2-2.2 9.2-1.6 18.4 0 7.1 0.3 9.2 6 7.2 3.5 9.2 4 10.2 3.3 11.2 2.9 7.2 1.4 24.5 3.7" class="bl" stroke-opacity="0.55"/>
<path d="M391.6 410l4.4 4.6 5 4.3 4.2 3 7.1 3.9 10.2 3.7 19.4 3.7 10.2 0.4 5.1-0.8 7.2-4.3 14.3-10.1 12.3-6.6 5.1-1.9 9.2-1.3 15.3 0.1 7.1-0.4 3.1 0.4 7.2 4.9 9.2 4.9 15.3 5.8 10.2 3 16.4 3.5 20.4 2.9" class="bl" stroke-opacity="0.6"/>
<path d="M391.6 413.6l5.5 4 4.4 2.5 12.8 5.1 8.2 2 13.3 2.5 10.2 1.3 6.1 0.2 6.1-1 10.3-6.2 8.1-5.8 8.2-4.6 10.2-4.4 11.3-1.5 23.5 0.6 2 0.8 6.2 4.3 7.1 3.9 7.2 3.3 13.3 4.6 18.4 4.7 25.5 3.8" class="bl" stroke-opacity="0.5"/>
<path d="M391.6 416.7l2.8 0.8 7.1 3.6 5.6 2.2 9.2 2.9 8.2 2 11.3 1.9 9.2 1.1 5.1 0.2 6.1-0.5 3.1-1.2 23.5-15.2 8.2-4 4-1.5 10.3-1.5 24.5 0.5 2 0.8 5.1 3.7 10.3 5.4 7.1 3.1 12.3 4.3 19.4 4.5 14.3 2.5 9.2 1.1" class="bl" stroke-opacity="0.75"/>
<path d="M391.6 420.8l4.6 3 7.7 3.5 12.4 3.3 22.5 3 12.3 0.6 6.1-1 2.1-0.9 22.5-15.2 7.1-3.9 6.1-2.6 6.2-1.1 5.1-0.3 23.5 0.2 2 0.8 5.1 3.6 10.3 5.4 14.3 5.7 12.2 3.5 12.3 2.6 23.5 3.4" class="bl" stroke-opacity="0.6"/>
<path d="M391.6 449.7l3.2 0.5 1.2-0.5 0.7 0.3 29.9-7 21.4-3 8.2-2 4.1-2.4 13.3-10.6 11.2-7.7 9.2-4.8 12.3-2.3 19.4-0.5 5.1 0.4 6.1 4.1 11.3 5.8 14.3 5.3 12.3 3.4 12.2 2.7 22.5 3.1" class="bl" stroke-opacity="0.5"/>
<path d="M391.6 451.8l35-9.2 23.5-3.5 6.1-1.8 4.1-2.3 16.3-12.9 8.2-5.6 9.2-4.6 9.2-2.2 26.6-0.7 2 0.8 5.1 3.6 8.2 4.4 10.2 4.3 10.3 3.5 22.4 5.2 21.5 2.9" class="bl" stroke-opacity="0.6"/>
<path d="M391.6 453.9l2.7-1.7 5.9-2.5 18.2-5.5 16.3-3.4 11.3-1.5 10.2-2.3 3.1-1.8 14.3-11.3 11.2-7.9 10.2-4.9 10.3-2 25.5-0.3 7.2 4.9 8.1 4.2 9.2 3.8 12.3 4.2 8.2 2.1 14.3 2.8 19.4 2.5" class="bl" stroke-opacity="0.55"/>
<path d="M391.6 457.8l1.7-1.7 5.3-3.2 14.7-5.6 15.3-4.2 18.4-3.2 8.2-1.8 5.1-2.9 13.3-10.7 11.2-8 9.2-4.7 9.2-2 13.3-0.7 13.3 0 3.1 1.3 4 3.1 11.3 5.5 8.2 3.6 9.2 3 20.4 4.8 23.5 3.5" class="bl" stroke-opacity="0.5"/>
<path d="M391.6 460.8l3.4-3.4 4.8-3.1 5.8-2.9 12.8-5 11.2-3.5 17.4-3.1 9.2-2.6 3.1-1.7 17.3-13.9 8.2-5.5 9.2-4.7 9.2-2.1 26.6-0.8 2 0.8 4.1 3.2 11.3 5.7 6.1 2.7 13.3 4.5 16.3 4.1 15.4 2.5 11.2 1.2" class="bl" stroke-opacity="0.6"/>
<path d="M391.6 464.8l18.6-11.2 14.3-6.4 4.1-1.4 27.6-7 3.1-1.8 15.3-12.7 10.2-7.1 9.2-5.1 9.2-2.2 14.3-0.7 13.3 0.2 6.1 4.1 9.2 4.8 7.2 3.1 15.3 5.1 16.4 3.7 24.5 3.7" class="bl" stroke-opacity="0.75"/>
<path d="M391.6 467.4l3.8-3.8 6.1-4.8 11.8-6.9 16.3-6.6 18.4-4.1 9.2-2.8 18.4-14.7 8.2-5.7 11.2-6 7.2-1.5 7.1-0.6 20.5-0.4 2 0.8 5.1 3.7 10.3 5.1 7.1 3.2 12.3 4 21.4 5 21.5 2.9" class="bl" stroke-opacity="0.75"/>
<path d="M391.6 472.4l6-6.2 5.8-5 10.9-7.4 15.3-7.4 19.4-5.2 8.2-2.8 18.4-14.9 8.2-6 9.2-5.1 3.1-1.2 6.1-1.2 12.3-0.9 16.3 0 6.1 4.2 7.2 3.8 11.2 4.9 10.3 3.5 19.4 4.6 24.5 3.6" class="bl" stroke-opacity="0.55"/>
<path d="M391.6 477.8l4-2.9 10.2-9.4 6.5-5 7.1-4.7 12.3-6.3 24.5-8.3 9.2-7 7.2-6.5 12.2-9.2 8.2-4.7 9.2-2.4 7.1-0.9 21.5-0.4 7.2 4.8 9.2 4.7 19.4 7 11.2 2.8 11.3 2.1 20.4 2.8" class="bl" stroke-opacity="0.55"/>
<path d="M391.6 481l5.8-6.9 7.8-7.6 12.2-9.1 14.3-7.6 24.5-8.5 19.4-16.3 10.2-7.5 8.2-4.5 8.2-2.1 3.1-0.5 15.3-0.7 10.2 0.2 6.1 4.2 5.1 2.6 10.3 4.7 6.1 2.3 16.4 4.8 15.3 3 19.4 2.5" class="bl" stroke-opacity="0.5"/>
<path d="M391.6 485.8l2.2-3.7 7-8.9 5-5.2 10.5-8.9 6.2-4.1 10.2-5.4 15.3-5.5 9.2-3.8 17.4-14.9 8.2-6.4 8.2-4.9 6.1-2.6 7.1-1.5 25.6-1.1 2 0.8 4.1 3 8.2 4.4 18.4 7.4 22.5 5.4 24.5 3.5" class="bl" stroke-opacity="0.55"/>
<path d="M391.6 491.3l9-10.8 6.5-7 14.4-12.1 13.2-7.9 21.5-9.1 4.1-3.1 14.3-13.3 10.2-8.1 9.2-5.2 7.2-2.3 14.3-1.7 15.3 0 7.2 4.4 10.2 5 15.3 5.5 10.2 2.8 10.3 2.1 12.2 2.1 13.3 1.6" class="bl" stroke-opacity="0.75"/>
<path d="M391.6 494.9l3.8-6.8 9.6-12.6 8.3-8.3 7.1-5.9 7.2-4.9 6.1-3.4 22.5-9.8 4.1-3.2 18.4-16.6 8.2-5.8 9.2-4.9 11.2-2.2 23.5-0.8 6.1 4 10.3 5.3 21.4 7.7 24.5 4.8 16.4 2" class="bl" stroke-opacity="0.6"/>
<path d="M391.6 499.9l5.3-7.7 9.2-11.9 9.2-9.8 8.2-7 5.1-3.8 6.1-3.6 22.5-10.9 16.4-15.2 9.2-7.6 10.2-6.6 7.1-2.5 8.2-1.2 11.3-0.8 11.2-0.1 5.1 3.4 11.3 5.7 18.4 6.5 9.2 2.4 14.3 2.8 20.4 2.7" class="bl" stroke-opacity="0.75"/>
<path d="M391.6 505.4l1.9-1.9 13.6-19.7 7.2-8.5 8.2-8 7.1-5.7 8.2-5.1 19.4-10.2 15.4-14.7 10.2-8.7 9.2-6.2 5.1-2.2 11.2-2.3 17.4-1.1 5.1 0.2 2.1 1 4 3 7.2 3.6 6.1 2.7 11.3 4 12.2 3.4 14.3 2.9 21.5 2.9" class="bl" stroke-opacity="0.75"/>
<path d="M391.6 508l5.5-12.9 7.2-12.8 9-12.1 9.2-9.4 6.1-4.9 7.2-4.4 21.4-10.1 24.6-21.4 7.1-4.7 7.2-3.7 12.2-2.1 21.5-0.6 2 0.6 5.1 3.8 8.2 4.3 15.3 5.9 11.3 3.4 13.3 2.8 24.5 3.6" class="bl" stroke-opacity="0.5"/>
<path d="M391.6 510.7l5.3-10.6 8.9-14.5 6.5-8.5 9.2-9.9 7.1-6.2 8.2-5.4 19.4-10 3.1-2.3 20.4-19.5 8.2-5.7 8.2-4.5 10.2-2.3 23.5-1.2 2 0.7 5.1 3.5 10.3 5 15.3 5.8 15.3 4.1 17.4 3.1 14.3 1.7" class="bl" stroke-opacity="0.5"/>
<path d="M391.6 453.1l16.6-4.8 14.3-3.5 9.2-1.9 16.3-2.4 8.2-2 3.1-1.6 15.3-12 11.2-7.7 9.2-4.5 10.3-1.9 25.5-0.3 6.1 4.2 9.2 4.7 9.2 3.9 9.2 3.1 20.5 5 24.5 3.6" class="or"/>
</g>
<rect x="381.0" y="386.9" width="239.5" height="135.6" class="sp"/>
<path d="M391.6 522.5v14M446.1 522.5v14M500.6 522.5v14M555.0 522.5v14M609.5 522.5v14M381.0 406.0h-15M381.0 467.6h-15" class="tk"/>
<path d="M655.0 386.9V522.5M763.9 386.9V522.5M872.9 386.9V522.5M644.4 406.0H883.9M644.4 467.6H883.9" class="grid"/>
<clipPath id="cp11"><rect x="644.4" y="386.9" width="239.5" height="135.6"/></clipPath>
<g clip-path="url(#cp11)">
<path d="M655 394.9l1.8 10.7 2.6 10.6 2.8 7.5 2.6 4.5 3.7 4.2 5.2 3.4 6.2 2.2 7.9 1.6 19 2 22.8 1.6 18.9 0.9 38 0.5 18-2.5 19-4 3.8-0.2 19.9-3.4 25.6-3" class="bl" stroke-opacity="0.75"/>
<path d="M655 508.9l1.6-12.8 2.1-10.7 2.2-7.9 2.8-6.4 3.7-5.1 3.3-3 4.8-2.9 7.4-3.1 7.7-2.6 10.5-2.3 23.7-3.3 16.1-0.9 48.4-1.4 46.5-9 37-4.9" class="bl" stroke-opacity="0.5"/>
<path d="M655 506.2l1.6-12.2 1.9-9 2-6.4 2.8-5.5 3-3.7 5.5-4.6 8.5-4.8 8.4-3.4 13.3-3.9 21.9-3.6 24.6-1.5 41.8-1.2 27.5-5.7 19.9-3.5 35.1-4.7" class="bl" stroke-opacity="0.5"/>
<path d="M655 505.8l2-11.2 1.9-7.3 2.9-8 4.5-7.4 4-4.4 8.2-5.9 7.4-3.7 7.6-3.1 17.1-4.3 21.8-2.7 21.8-1.2 33.2-0.6 6.7-1 43.6-8.4 20-2.9 15.1-1.6" class="bl" stroke-opacity="0.55"/>
<path d="M655 501.7l2.2-10.6 2.8-9.4 4.1-8.4 2.9-4 4.4-4.3 4.8-3.2 6.3-3 9.1-3.4 13.3-3.4 19.9-3 22.8-1.5 40.8-1.2 46.5-9.1 37.9-5" class="bl" stroke-opacity="0.5"/>
<path d="M655 485.4l2.6-7.6 2.4-5.2 3-4.4 4.4-4.6 5.9-4 3.7-1.6 14.6-5 13.3-2.6 21.8-2.3 63.6-1.8 46.5-9.1 36-4.6" class="bl" stroke-opacity="0.75"/>
<path d="M655 485.1l1.6-6.7 2.4-6.5 2.1-3.7 3.7-4.2 7.8-4.5 19.9-5.9 22.8-3.6 11.4-1 19-1.1 43.6-1.2 50.3-9.7 33.2-4.3" class="bl" stroke-opacity="0.55"/>
<path d="M655 479.7l4.2-9.6 4.1-5.1 3-2.6 3.7-2.5 10.7-4.5 12.8-3.4 10.4-1.9 14.3-1.8 22.7-1.4 38-0.7 14.2-1 42.7-8.2 12.4-2 24.6-3" class="bl" stroke-opacity="0.55"/>
<path d="M655 477l3.9-8.2 3.1-4 3.2-2.6 7-3.6 7-2.8 15.2-3.7 20.9-2.8 11.4-0.8 62.6-1.7 45.6-8.7 37.9-5.2" class="bl" stroke-opacity="0.6"/>
<path d="M655 474.1l2.6-6 2-3.1 3-3.4 2.9-2.3 8.9-4 20-4.7 27.6-2.8 28.4-1 37-0.5 43.7-8.2 41.7-5.8" class="bl" stroke-opacity="0.6"/>
<path d="M655 468.8l2.7-3.9 2.8-2.9 8-5 6.3-2.3 19.6-4.4 10.5-1.5 23.7-1.6 61.7-1.2 50.3-9.5 32.2-4.1" class="bl" stroke-opacity="0.75"/>
<path d="M655 466.7l2.6-3.4 3.3-3 5.7-3.4 13.7-4.2 14.1-2.9 14.3-1.7 18-1.1 53.2-0.7 9.4-0.5 48.4-9 35.1-4.6" class="bl" stroke-opacity="0.55"/>
<path d="M655 465.2l2.7-2.9 3.2-2.2 8.3-3.7 14.1-3.5 10.2-1.9 19-2.4 13.3-0.8 28.4-0.9 33.2-0.5 47.5-8.9 14.2-2.3 23.7-2.7" class="bl" stroke-opacity="0.75"/>
<path d="M655 464.4l2-2.3 3.5-2.6 8.4-3.5 11-2.9 14.5-2.6 20-2.1 24.6-1.3 47.5-0.6 17.1-2.7 30.3-6 20-3 18.9-2.2" class="bl" stroke-opacity="0.5"/>
<path d="M655 454.8l9.1-1 23.7-3.9 23.7-2.3 23.7-0.9 49.4-0.5 6.6-0.6 43.7-8.3 16.1-2.5 21.8-2.5" class="bl" stroke-opacity="0.6"/>
<path d="M655 448.2l2.2 1.3 2 0.5 4.9 0.4 32.2-3.3 16.2-1.1 74-0.7 14.2-2 20.9-4.3 17.1-3 34.1-4.1" class="bl" stroke-opacity="0.75"/>
<path d="M655 444.3l2.6 2.9 3.7 2.4 4.2 1 4.5 0.4 23.5-2.5 21.8-1.5 72.1-1 53.2-9.8 32.2-3.9" class="bl" stroke-opacity="0.55"/>
<path d="M655 439.4l2.4 3.1 3.3 2.7 5.2 1.8 5.5 0.4 48.7-2 62.6 0.1 11.4-1.1 29.4-5.7 26.6-4.2 22.7-2.6" class="bl" stroke-opacity="0.75"/>
<path d="M655 437.2l4.2 6.4 4.9 3.7 6.2 1.7 9.6 0.3 18.3-1.6 15.2-0.5 3.8-0.5 60.8-0.4 12.3-0.5 13.3-2.3 28.4-5.8 40.8-5.4" class="bl" stroke-opacity="0.75"/>
<path d="M655 431.1l3.7 9.5 3.9 4.7 4 2.3 5.2 1.1 6.3 0.5 40.1-1.8 60.7-0.3 10.4-0.5 50.3-9.5 33.2-4.3" class="bl" stroke-opacity="0.55"/>
<path d="M655 425.1l3.1 9.6 2.4 4.6 2.5 3.1 3.6 2.9 2.6 1.3 4.5 1.1 5.9 0.7 44.3-1.6 63.5-0.5 17.1-2.8 11.4-2.5 19-3.5 37.9-5" class="bl" stroke-opacity="0.6"/>
<path d="M655 422.6l2.9 8.9 1.9 4 3.2 4.8 4 3.5 3 1.5 3.7 1.3 5.5 0.7 7.7 0.2 32.2-1.1 68.3-0.1 54.1-9.8 31.3-3.9" class="bl" stroke-opacity="0.55"/>
<path d="M655 422l4 11.7 2.7 4.5 2 2.5 4.1 3.1 3.3 1.4 8.8 1.6 41.1-0.9 61.7 0.2 7.6-0.5 16.1-2.8 12.4-2.8 24.6-4.2 29.4-3.5" class="bl" stroke-opacity="0.55"/>
<path d="M655 418.4l1.4 9 1.9 7.4 1.3 3.6 2.2 4 3.4 3.4 2.6 1.2 7.7 1 20.8-1.2 20.9-0.6 62.7 0 9.4-0.6 14.3-2.3 17.1-3.6 16.1-2.8 36-4.7" class="bl" stroke-opacity="0.75"/>
<path d="M655 409.7l3.7 17.3 2.2 6.4 2.1 4.3 3.3 4.6 2.9 2.4 5.2 2.6 4.1 0.7 9.3 0.3 38.9-1.3 58.8-0.4 20.9-3.3 34.2-6.6 32.2-4.1" class="bl" stroke-opacity="0.6"/>
<path d="M655 405.4l2.7 17 2.3 8 2 4.5 2.1 2.9 2.9 2.7 3 1.5 5.9 1.3 11.9 0.7 33.2 0.4 30.4 1 36 0.1 17.1-2.7 8.6-2 23.7-4.2 36-4.5" class="bl" stroke-opacity="0.6"/>
<path d="M655 396.3l3.9 21.9 2.2 7.9 3 7.2 2.9 4.8 3 3.1 5.5 3.1 4.8 1.5 7.5 0.7 19.9 0.3 78.8-0.8 13.3-1.9 37-7.2 36-4.6" class="bl" stroke-opacity="0.5"/>
<path d="M655 395.3l3.1 23.4 2.1 8.5 2 5.6 3 5 2.6 2.6 2.9 1.9 8.9 2.2 27.2 0.9 75.9 0.4 7.6-0.6 14.2-2.3 30.4-6 37.9-4.8" class="bl" stroke-opacity="0.75"/>
<path d="M655 455.9l35.6-5.9 19-1.8 19-1 59.8-1 49.3-9.1 35.1-4.6" class="or"/>
</g>
<rect x="644.4" y="386.9" width="239.5" height="135.6" class="sp"/>
<path d="M655.0 522.5v14M763.9 522.5v14M872.9 522.5v14M644.4 406.0h-15M644.4 467.6h-15" class="tk"/>
<path d="M918.3 386.9V522.5M1027.2 386.9V522.5M1136.2 386.9V522.5M907.7 406.0H1147.2M907.7 467.6H1147.2" class="grid"/>
<clipPath id="cp12"><rect x="907.7" y="386.9" width="239.5" height="135.6"/></clipPath>
<g clip-path="url(#cp12)">
<path d="M918.3 411l1.5 20 2 11.6 1.5 3.6 1.5 1.9 1.5 1.2 3 0.7 3.3-0.1 5.5-1.1 32-2.3 4.8-0.7 73-4 4.8-1.4 18-8.7 9.5-3 29.4-7.3 26.6-4.6" class="bl" stroke-opacity="0.75"/>
<path d="M918.3 516.4l1.7-26.3 1.1-8.4 1.7-6.2 1.3-2.4 1.8-2 8.5-6 6.3-3.7 11.4-5 8.5-2.9 9.5-2.7 17.1-3.6 19.9-3 41.8-3.5 20.9-9.9 13.3-4.3 26.5-6.5 26.6-4.7" class="bl" stroke-opacity="0.55"/>
<path d="M918.3 516.9l1.7-26.3 1.1-7.7 1.5-5.2 1.3-2.3 2-2.1 13.3-9.8 7.4-3.8 9.3-4 8.5-2.9 11.4-3.1 12.4-2.7 10.4-1.7 18-1.9 32.3-2.7 3.8-1.2 17.1-8.3 15.2-4.9 29.4-6.8 21.8-3.7" class="bl" stroke-opacity="0.6"/>
<path d="M918.3 516.2l0.9-11.9 1.3-9 1.5-5.1 2.1-3.5 15.5-14.8 9.7-6.4 9.4-5.2 12.4-5.1 8.5-2.9 15.2-4 22.8-3.8 32.2-3.5 21.9-10.6 4.7-1.7 29.4-7.7 30.4-5.5" class="bl" stroke-opacity="0.75"/>
<path d="M918.3 515.5l2-24.7 1.5-8.7 1.7-5.2 2.4-3.8 3.4-3.4 7.7-6.3 7.4-4.5 12.4-5.2 8.6-2.8 21.8-5.1 12.3-1.8 20-1.9 29.4-2.1 3.8-1.3 7.6-4 11.4-5 13.3-3.9 19.9-4.9 31.3-5.6" class="bl" stroke-opacity="0.75"/>
<path d="M918.3 514.4l0.9-10.9 1.3-8.9 1.3-4.8 1.9-3.4 12.2-10.8 5.2-3.9 5.1-3.2 10.6-5.6 8.6-3.6 15.2-5.5 13.3-3.5 18.9-3.5 18.1-2.5 14.2-1.4 4.7-1 20-10 10.4-3.7 28.5-7.4 27.5-5.1" class="bl" stroke-opacity="0.5"/>
<path d="M918.3 512.5l1.1-15.4 1.1-8.7 1.7-6.8 2.1-3.9 15.7-13.3 3.7-2.3 9.3-4.4 16.2-6.2 19-4.5 27.5-3.5 33.2-2.6 2.8-0.8 8.6-4.6 10.4-4.7 11.4-3.6 28.5-6.9 25.6-4.3" class="bl" stroke-opacity="0.5"/>
<path d="M918.3 505.7l2.4-18 2.4-8 2.8-4.6 7.4-7.4 6.3-5.1 8.7-4.8 10.4-4.5 15.2-4.5 19-3.8 12.3-1.7 42.7-3.1 5.7-1.7 6.7-3.7 7.6-3.5 11.4-4 28.4-7.1 28.5-4.9" class="bl" stroke-opacity="0.6"/>
<path d="M918.3 504.8l2.2-14.2 1.5-4.5 2.6-4.1 15-12.5 4.4-2.8 14.7-7.2 14.3-5.3 23.7-6 21.8-3.4 23.8-2.2 6.6-1 3.8-1.3 17.1-8.9 7.6-2.5 13.2-3.7 19-4.6 26.6-5" class="bl" stroke-opacity="0.6"/>
<path d="M918.3 504.6l1.1-13.6 1.3-9.3 1.3-5 1.9-3.7 2.4-2.5 11.1-8 4-2.5 6.9-3.1 10.4-3.9 12.4-3.4 22.8-4.4 25.6-2.6 28.4-1.8 5.7-1.9 15.2-7.5 7.6-2.7 16.1-4.3 18.1-4.2 25.6-4.4" class="bl" stroke-opacity="0.55"/>
<path d="M918.3 504.3l1.9-20 1.3-5.7 1.5-3.6 2.9-3.2 13.7-10.5 6.6-3.6 7.8-3.2 14.2-4.4 21.9-4.1 19.9-2.2 38.9-2.8 3.8-1.2 15.2-7.5 14.2-4.8 33.2-7.8 20.9-3.4" class="bl" stroke-opacity="0.6"/>
<path d="M918.3 502.8l2.4-15.7 1.5-4.7 1.9-3.5 4.4-4.3 9.3-7.4 6.6-3.9 8.6-4.2 8.6-3.3 11.4-3.7 9.5-2.7 9.5-1.8 25.6-3.9 27.5-2.4 4.7-0.9 19-9.1 12.4-4.2 32.2-8 22.8-3.9" class="bl" stroke-opacity="0.55"/>
<path d="M918.3 463.9l1.3-2.8 1.9-1.7 6.6-1 10.8-4.2 18.9-4.6 19-3.2 15.2-1.8 57.8-4 19-8.9 9.5-3.4 24.7-6.3 14.2-3 19-3" class="bl" stroke-opacity="0.55"/>
<path d="M918.3 457.2l7.1 1.2 3.1-0.3 2.6-0.6 8.1-3.1 10.1-2.4 32.2-5.3 17.1-1.8 51.2-3.5 20.9-9.8 10.5-3.3 29.4-7.2 25.6-4.5" class="bl" stroke-opacity="0.6"/>
<path d="M918.3 455l5.8 0.4 4.4-0.4 10-3.8 6.6-1.6 33.6-5.3 16.1-1.6 54.1-3 2.8-0.7 18.1-8.9 11.4-3.4 26.5-6.5 10.5-2.1 18-2.9" class="bl" stroke-opacity="0.6"/>
<path d="M918.3 454.9l3.7 0.9 5 0.2 6.3-1.6 2.6-1.4 7-2 22.5-4.1 11.4-1.5 26.5-2.6 46.5-2.7 20-9.2 10.4-3.5 30.4-7.4 25.6-4.2" class="bl" stroke-opacity="0.5"/>
<path d="M918.3 449.6l1.7 2.6 1.8 1.3 4.5 0.7 4.8-1.1 9.6-3.2 9.5-1.9 19.9-2.9 31.3-2.9 33.3-1.7 4.7 0.2 10.4-1.1 2.9-0.9 16.1-7.9 9.5-3.2 34.2-8.3 23.7-3.8" class="bl" stroke-opacity="0.75"/>
<path d="M918.3 444.8l1.1 4.2 1.9 2.9 1.5 1.2 2.8 0.9 2.2 0.1 2.9-0.3 6.3-2 15.1-2.6 31.3-4 16.1-1.3 49.4-2.7 2.8-0.9 16.2-7.9 11.4-4 33.2-8 23.7-4.2" class="bl" stroke-opacity="0.75"/>
<path d="M918.3 442.7l1.5 3.5 3 3.4 2.6 1.3 3.1 0.5 16.3-3.6 34.8-3.7 21.8-1.6 39-1.4 8.5-0.8 5.7-2 14.2-6.9 10.5-3.3 30.3-7.6 26.6-4.5" class="bl" stroke-opacity="0.75"/>
<path d="M918.3 442l1.5 6.4 1.7 3.2 3.1 2.5 3.2 0.2 2.6-0.3 7.7-2.4 5.6-1.3 15-2.5 20-2.5 22.7-2 46.5-2.7 4.8-1.2 17.1-8.3 10.4-3.2 29.4-7.3 26.6-4.7" class="bl" stroke-opacity="0.55"/>
<path d="M918.3 439.8l1.5 5.7 1.3 2.3 2.6 1.9 3.7 0.7 3-0.2 11.4-2.8 27.4-2.9 27.5-2 37-1.4 15.2-1 2.8-0.8 18.1-8.6 4.7-1.6 18-4.9 19-4.2 24.7-4.3" class="bl" stroke-opacity="0.55"/>
<path d="M918.3 433.6l1.9 8.8 2.2 5 2.2 2.5 2.4 1 2.3 0.2 10.3-2.6 41-4.7 68.3-3.4 3.8-1.3 16.1-7.7 10.5-3.5 32.2-7.8 24.7-4.1" class="bl" stroke-opacity="0.75"/>
<path d="M918.3 432.9l1.7 8.1 2.2 5.1 1.1 1.7 2.1 1.3 4.2 0.6 11.5-2.7 29-3.5 33.2-2.4 40.8-1.6 4.8-0.5 2.8-0.8 17.1-8.1 10.5-3.4 28.4-6.9 28.5-4.9" class="bl" stroke-opacity="0.5"/>
<path d="M918.3 429l1.5 10.9 2 7.5 1.7 3 2.1 1.8 3.7 0.7 14.7-3.5 32.8-4.2 15.2-1.4 56.9-3 2.8-0.8 16.2-7.8 15.2-5 25.6-6.2 27.5-4.7" class="bl" stroke-opacity="0.55"/>
<path d="M918.3 427.9l1.3 9.6 1.1 4.4 1.3 2.9 1 1.3 1.8 1.4 3.3 0.5 3 0 7-1.8 15.9-1.8 36.1-2.4 50.3-1.7 9.4-0.8 3.8-1.3 16.2-7.6 15.2-4.7 26.5-6.2 24.7-4" class="bl" stroke-opacity="0.75"/>
<path d="M918.3 418.2l1.7 14.4 2 7.6 1.9 3.2 1.7 1.5 4 1.1 10.4-1.4 8.3-0.1 57.9-3.4 41.7-1.4 5.7-1.8 13.3-6.7 14.3-4.8 13.2-2.9 10.5-2.9 31.3-5.5" class="bl" stroke-opacity="0.6"/>
<path d="M918.3 414.4l2.2 14.9 2.6 7.4 2.5 3 1.8 1 3 0.9 3.3 0.1 2.6-0.6 33.8 0.2 16.2-0.6 40.8-0.5 21.8-1.1 3.8-1 17.1-8.1 5.7-1.9 28.4-7 32.3-5.8" class="bl" stroke-opacity="0.55"/>
<path d="M918.3 411.1l1.7 16 2.2 10.6 1.5 3.7 1.7 2.2 1.6 1.2 2.3 0.4 2.9-0.1 5.9-1.5 7.4-1 37-2.5 64.5-1.7 4.7-1.1 17.1-7.9 13.3-4.1 33.2-7.5 20.9-3.2" class="bl" stroke-opacity="0.6"/>
<path d="M918.3 455.9l6.1 0.6 3.4-0.2 11.4-3.9 9.1-2 13.3-2.5 19-2.6 20.8-1.9 47.5-3 3.8-1.2 17.1-8.2 10.4-3.3 29.4-7.2 26.6-4.6" class="or"/>
</g>
<rect x="907.7" y="386.9" width="239.5" height="135.6" class="sp"/>
<path d="M918.3 522.5v14M1027.2 522.5v14M1136.2 522.5v14M907.7 406.0h-15M907.7 467.6h-15" class="tk"/>
<path d="M1181.7 386.9V522.5M1290.6 386.9V522.5M1399.6 386.9V522.5M1171.1 406.0H1410.6M1171.1 467.6H1410.6" class="grid"/>
<clipPath id="cp13"><rect x="1171.1" y="386.9" width="239.5" height="135.6"/></clipPath>
<g clip-path="url(#cp13)">
<path d="M1181.6 408.5l1.5 8.7 2.3 8.3 3.3 6.4 1.7 1.7 2.9 1.2 3.4-0.1 5.9-1 19.5-0.5 42.7 1.5 45.5 0.1 1.9-0.4 1.9-1.2 5.7-6 13.3-11.9 9.5-5.3 12.3-4.7 6.7-1.6 15.2-2.6 22.8-3.1" class="bl" stroke-opacity="0.55"/>
<path d="M1181.6 505.3l1.5-8.9 2.1-7.4 2-4.4 3.6-5.1 7.7-10.4 5.2-5.6 8.9-7 8.5-5.2 12.4-4.8 21.8-5.3 25.6-3.5 25.7-1.6 5.6-0.7 2.9-2.1 3.8-4.4 13.3-12.5 5.7-3.8 11.4-5.4 11.3-3.4 8.6-1.8 30.4-4.5" class="bl" stroke-opacity="0.55"/>
<path d="M1181.6 504.8l1.9-9.9 2.2-7.7 2.5-5.1 4-5.9 5.9-7.1 4.5-4.5 7.4-5.3 9.2-5.4 5.7-2.5 13.3-4.2 8.6-2.2 12.3-2.4 19.9-2.9 33.2-2.9 1.9-1.4 6.7-7.4 11.4-10.7 7.6-4.8 6.6-3.3 6.7-2.5 11.3-3.2 35.2-5.5" class="bl" stroke-opacity="0.75"/>
<path d="M1181.6 503.5l2.8-15.1 2.3-6.2 2.6-4.5 8.8-12.4 5.2-5.6 7.4-5.8 9.5-5.4 10.4-3.6 8.6-2.1 10.4-1.8 25.6-2.7 16.2-1.1 6.6 0 14.2-1.2 1.9-1.1 4.8-5.5 14.2-12.9 10.5-6 10.4-4.1 11.4-2.9 34.2-5.1" class="bl" stroke-opacity="0.75"/>
<path d="M1181.6 502.2l1.4-7.5 1.6-5.7 1-2.2 2.8-4 14.5-14.7 9.7-6.8 8.5-4.8 12.4-5 21.8-5.7 11.4-2.3 16.1-2.4 29.4-3.2 2.9-2.2 3.8-4.5 8.5-8.5 6.7-5.7 6.6-4.2 6.7-3.2 16.1-5.2 21.8-3.9 14.3-2" class="bl" stroke-opacity="0.55"/>
<path d="M1181.6 501.7l2.5-13.1 1.6-4.6 2.1-3.4 14-15 7.1-5.3 10.3-6.1 4.8-2.2 12.3-4.1 22.8-4.9 19-2.7 26.6-1.9 7.5-1 1.9-1.2 10.5-11.2 8.5-7.6 4.8-3 9.5-4.8 17-5.3 35.2-5.3" class="bl" stroke-opacity="0.55"/>
<path d="M1181.6 500.7l1.7-9.3 1.7-6.3 2.2-5.2 2.1-3.2 11.4-12.5 10-6.4 6.6-3.4 9.5-3.8 5.7-1.7 25.7-5.7 28.4-3.8 9.5-0.6 16.1-1.7 2.9-2.1 3.8-4.6 12.3-11.9 4.8-3.5 10.4-5.6 12.3-4.4 6.7-1.6 10.4-2 23.8-3.4" class="bl" stroke-opacity="0.5"/>
<path d="M1181.6 496.7l2.8-13.7 2.5-5.3 3.5-4.3 9.6-10.1 3.3-2.9 10.3-6.7 8.5-4.2 11.4-3.7 20.9-4.4 25.6-3.2 30.3-1.8 1.9-0.4 2.9-2.3 3.8-4.4 12.3-11.7 8.6-5.5 4.7-2.4 12.3-4.4 10.5-2.6 32.3-4.8" class="bl" stroke-opacity="0.75"/>
<path d="M1181.6 494.3l1.7-6.4 2.8-6 11.7-13.8 4.8-5 4-3.3 7.9-5.2 6.6-3.5 10.5-3.9 9.5-2.6 19.9-3.7 21.8-2.6 25.6-1.5 3.8-0.6 2.9-2.2 4.7-5.4 12.4-11.6 4.7-3.1 9.5-4.7 10.4-3.8 4.8-1.2 20.9-3.6 17.1-2.3" class="bl" stroke-opacity="0.75"/>
<path d="M1181.6 486.4l2.5-8.9 3.5-5 5-3.6 9.2-8.4 15.5-8.6 7.6-2.9 11.4-3.1 18.1-3.5 26.5-3.7 31.3-2.5 1.9-1.2 5.7-6.6 12.4-11.6 6.6-4.4 6.7-3.2 10.4-3.8 9.5-2.6 34.2-5.3" class="bl" stroke-opacity="0.5"/>
<path d="M1181.6 482.6l1.7-3.8 2.4-3.9 16.5-15.8 6.7-4.5 7.5-4 6.6-2.8 18.1-4.9 22.7-3.3 9.5-1.2 30.4-1.7 8.5-0.9 1.9-1.2 4.8-5.4 13.3-12.3 5.7-3.7 8.5-4.3 7.6-2.9 10.4-2.5 20-3.4 15.2-2.1" class="bl" stroke-opacity="0.5"/>
<path d="M1181.6 478l4.3-5.8 4.9-4.1 10.7-10.4 5.9-3.9 7.1-3.7 9.5-3.9 14.2-3.5 27.5-4.1 20-1.7 19.9-0.8 6.6-0.7 2.9-2.2 5.7-6.3 10.4-9.9 6.7-4.3 8.5-4.2 7.6-2.9 10.4-2.7 26.6-4.2 8.6-0.9" class="bl" stroke-opacity="0.5"/>
<path d="M1181.6 475l2.3-3.7 2.4-2.3 5.9-3.7 8.9-7.7 8.5-4.9 11.5-5 17.1-4.4 18.1-2.8 26.5-2.9 28.5-1.7 2.8-1.5 4.8-5.3 12.3-11.8 6.7-4.5 9.5-4.7 7.5-2.7 10.5-2.6 34.2-5.3" class="bl" stroke-opacity="0.6"/>
<path d="M1181.6 474.1l2.7-3.5 2.4-2.2 4.4-2.8 11.1-9.1 5.2-2.8 10.9-4.7 11.4-3.3 27.5-4.7 25.6-2.7 28.5-1.7 2.8-1.6 4.8-5.3 11.4-11 6.6-4.8 6.7-3.6 9.5-3.7 13.2-3.5 33.3-5" class="bl" stroke-opacity="0.5"/>
<path d="M1181.6 462.4l2.1-1.1 7.1-1.9 5.5-3.2 5.2-3.8 5.5-2.5 5.6-2.1 12.3-3.5 7.6-1.3 20.9-2.7 18-1.6 40.8-2.3 1.9-1.2 4.8-5.6 12.3-11.6 5.7-3.8 8.6-4.5 11.3-4 12.4-2.9 30.4-4.4" class="bl" stroke-opacity="0.6"/>
<path d="M1181.6 461l5.3-0.3 4.2-0.8 4.1-2.2 1.5-1.4 6.6-4.1 10.3-4.1 8.5-2.6 6.6-1.3 10.5-1.7 24.6-2.7 21.9-1.7 16.1-0.5 10.4-1.1 1.9-1.2 12.4-12.8 5.7-4.9 6.6-4.2 8.6-4.2 4.7-1.8 12.3-3.3 35.2-5.2" class="bl" stroke-opacity="0.75"/>
<path d="M1181.6 457.3l10.3-2.6 9.6-6 5.5-2.3 16-4.8 28.5-3.4 26.6-1.8 23.7-0.4 10.4-0.9 1.9-1.2 5.7-6.3 12.4-11.4 4.7-3.2 8.6-4.4 14.2-4.7 8.5-1.8 31.4-4.4" class="bl" stroke-opacity="0.6"/>
<path d="M1181.6 457.4l1 0.3 0.7-0.6 3.4 0.2 3.7-0.6 2.9-1 10-6.1 4.4-1.8 13.4-4.1 9.5-1.6 35.1-3.5 39-1.8 7.5-0.8 1.9-1.1 4.8-5.4 12.3-11.6 5.7-3.9 7.6-4 7.6-3 15.2-3.9 32.3-4.8" class="bl" stroke-opacity="0.55"/>
<path d="M1181.6 449.1l1.5 2.2 2.1 1.6 2.2 0.9 3 0.4 3.7-1.2 6.3-3.5 4-1.6 18.6-4.8 32.3-3.4 56-3 2.8-1.5 10.5-10.8 8.5-7.5 4.8-3.1 8.5-4 7.6-3 8.5-2.2 19-3.4 18.1-2.4" class="bl" stroke-opacity="0.5"/>
<path d="M1181.6 444.4l2.7 3.4 2 1.2 3 0.8 3.3-0.4 10-4.9 13.8-3.4 8.5-1.3 13.3-1.4 43.7-1.9 17.1-0.1 13.2-0.8 1.9-1.1 4.8-5.4 12.3-11.3 4.8-3.5 9.5-4.8 7.6-2.9 13.2-3.3 33.3-4.9" class="bl" stroke-opacity="0.55"/>
<path d="M1181.6 443.1l2.3 2.6 3.2 1.9 2.6 0.7 4.4-0.6 9.2-3.9 10.3-2.2 11.3-1.7 38.9-2.3 5.7 0.1 17.1-1.1 16.2-0.1 9.4-0.8 1.9-1.3 13.3-13.4 5.7-4.8 6.7-4.1 8.5-3.9 7.6-2.6 10.4-2.5 33.3-4.9" class="bl" stroke-opacity="0.6"/>
<path d="M1181.6 438.3l1.9 5.5 1.9 2.6 1.5 1.2 4.2 1 12.6-4.9 18.4-3.5 39.8-2.4 49.4-1.6 2.8-1.4 4.8-5.3 13.3-12.4 10.4-6.2 15.2-5.6 10.4-2.3 21.9-3.3 9.5-1" class="bl" stroke-opacity="0.55"/>
<path d="M1181.6 436.7l2.1 4 2.4 3 2.3 1.5 2.7 0.7 2.6-0.2 8.9-3.8 12.8-3 9.5-1.1 22.8-1.2 64.5-1.7 1.9-1.1 4.8-5.4 12.3-11.5 6.7-4.3 9.5-4.5 9.4-3.3 8.6-1.9 34.2-4.9" class="bl" stroke-opacity="0.5"/>
<path d="M1181.6 434.3l1.2 3.5 2.4 3.8 1.5 1.2 4.1 0.8 4.8-1.4 5.9-2.7 6.6-1.6 14-2 22.8-0.8 59.8-0.5 7.5-0.4 1.9-1.1 4.8-5.3 11.4-10.6 5.7-3.9 8.5-4.5 9.5-3.4 8.5-2.3 14.3-2.3 22.8-3" class="bl" stroke-opacity="0.5"/>
<path d="M1181.6 432l0.8 1.9 2.6 3.7 1.9 1.5 3.5 1 2.6-0.3 9.6-3.6 2.6-0.5 16.9-2.1 46.5 0.3 3.8-0.4 30.4 0.5 9.4-0.6 2.9-2 3.8-4.3 13.3-11.9 8.5-5.2 6.7-3 15.1-4.5 19-2.9 18.1-2.3" class="bl" stroke-opacity="0.5"/>
<path d="M1181.6 419.3l2.5 6.6 2.6 4 3.3 2.6 3 0.7 9.2-1.9 13.2-0.4 54.1 2.1 28.5 0.5 14.2-0.5 2.9-2.1 3.8-4.2 12.3-11.3 6.7-4.2 8.5-4.2 6.7-2.3 10.4-2.7 10.4-1.8 25.7-3.4" class="bl" stroke-opacity="0.6"/>
<path d="M1181.6 414.6l1.4 8.5 2.2 8.4 2.2 4.3 3.7 3.2 4.1 0.1 7.4-1.4 22.3-0.9 20.9 0.2 61.7-1.3 5.7-1 6.6-6.9 12.4-11.3 10.4-6.2 10.5-4.3 9.4-2.4 11.4-2.1 25.7-3.6" class="bl" stroke-opacity="0.5"/>
<path d="M1181.6 413.2l1.9 8.3 2.4 6 3 3.9 3.3 1.6 3.7-0.2 5.2-1.4 3.3-0.4 12-0.4 47.4 2.3 20.9 0.2 12.4 0.7 14.2-0.2 2.8-1.3 8.6-8.7 9.5-8.4 6.6-3.9 7.6-3.5 7.6-2.8 12.3-3 33.3-4.4" class="bl" stroke-opacity="0.5"/>
<path d="M1181.6 455.9l9.2-1.1 12.5-6.9 12.1-4 10.5-2.3 14.2-1.7 20-1.7 52.1-2.8 1.9-1.2 4.8-5.3 12.3-11.5 6.7-4.4 7.6-3.8 9.4-3.5 9.5-2.4 35.2-5.3" class="or"/>
</g>
<rect x="1171.1" y="386.9" width="239.5" height="135.6" class="sp"/>
<path d="M1181.7 522.5v14M1290.6 522.5v14M1399.6 522.5v14M1171.1 406.0h-15M1171.1 467.6h-15" class="tk"/>
<text transform="translate(266.4,617.7) rotate(-90)" text-anchor="middle" class="lab">Profile 48</text>
<text transform="translate(295.5,617.7) rotate(-90)" text-anchor="middle" class="lab">Temp. /°C</text>
<text x="357" y="600.2" text-anchor="end" class="lab">100</text>
<text x="357" y="659.1" text-anchor="end" class="lab">0</text>
<path d="M391.6 549.9V685.5M446.1 549.9V685.5M500.6 549.9V685.5M555.0 549.9V685.5M609.5 549.9V685.5M381.0 590.9H620.5M381.0 649.8H620.5" class="grid"/>
<clipPath id="cp20"><rect x="381.0" y="549.9" width="239.5" height="135.6"/></clipPath>
<g clip-path="url(#cp20)">
<path d="M391.6 555.5l5.8 11.9 6 9.2 6.8 8 7.2 5.6 5.1 3 6.1 2.2 11.3 1.3 5.1 1.1 28.6 10.3 14.3 2.8 8.2 0.3 13.2-0.8 12.3-2.1 18.4-1.7 51.1 2 18.4-0.4" class="bl" stroke-opacity="0.75"/>
<path d="M391.6 559.8l14 15.5 5.6 4.7 6.2 4 11.2 4.8 15.3 2.7 12.3 5.1 13.3 6.2 17.4 5 10.2 0.7 11.2-0.2 10.2-1.5 22.5-1.4 35.8 2 22.5 0.6 10.2-0.3" class="bl" stroke-opacity="0.6"/>
<path d="M391.6 564.7l5.1 9.7 5.9 8.3 6.6 6.6 8.2 5.5 6.1 2.5 5.1 1.3 13.3 0.5 3.1 0.6 14.3 4.5 8.1 3.3 9.2 2.2 10.3 1.9 5.1 0.3 15.3-0.8 14.3-2.4 18.4-1.6 9.2 0 39.9 2 20.4-0.6" class="bl" stroke-opacity="0.55"/>
<path d="M391.6 569.3l4.7 8.5 5.4 6.5 3.5 3.5 5 3.8 5.1 3 12.3 4 12.3 0.6 6.1 0.8 13.3 4.3 9.2 3.6 18.4 4 8.1 0.5 7.2-0.4 19.4-2.7 18.4-1.7 10.2 0 14.3 1 26.6 0.9 18.4-0.4" class="bl" stroke-opacity="0.55"/>
<path d="M391.6 573.4l2.7 3.5 4.4 4.4 5.9 4.9 7.7 4.8 6.1 2.6 10.2 2.4 12.3 0.5 4.1 0.6 11.2 3.7 13.3 5.2 16.3 4 10.3 0.7 14.3-0.8 15.3-2.3 14.3-1 42.9 2 26.6-0.3" class="bl" stroke-opacity="0.55"/>
<path d="M391.6 576.1l12.9 11.3 6.7 4.4 6.2 2.9 10.2 2.7 13.3 0.1 4.1 0.5 15.3 4.8 7.1 2.9 7.2 1.9 12.3 2.4 6.1 0.4 12.3-0.5 16.3-2.4 18.4-1.7 44 1.9 25.5-0.2" class="bl" stroke-opacity="0.6"/>
<path d="M391.6 580.7l4.9 4.9 5.9 4.3 6.8 3.5 6.1 2.2 13.3 2.3 9.2-0.5 8.2 1 15.3 5 8.2 3.2 16.3 3.7 13.3 0.6 10.2-0.8 21.5-2.7 11.2-0.7 37.9 1.9 12.2 0.3 17.4-0.5" class="bl" stroke-opacity="0.6"/>
<path d="M391.6 583.9l3.3 3.4 6.8 5.4 4.2 2.5 7.4 3.1 7.1 1.7 7.2 0.9 14.3-0.7 5.1 0.5 13.3 4 7.1 2.7 17.4 3.7 9.2 0.5 14.3-0.8 18.4-2.9 15.3-1.1 44 1.9 23.5-0.4" class="bl" stroke-opacity="0.5"/>
<path d="M391.6 586.6l2.6 0.8 7.1 4 7.9 3.7 7.1 2 11.3 1.6 5.1 0 7.2-0.8 5.1 0.2 11.2 3.1 13.3 4.8 18.4 3.6 7.1 0.3 12.3-0.6 16.4-2.4 14.3-1.2 12.2-0.1 42.9 2.1 16.4-0.4" class="bl" stroke-opacity="0.5"/>
<path d="M391.6 590.8l5.1 3.9 6.3 3.8 2.9 1.4 8.4 2.7 8.2 0.9 6.1 0.1 12.3-1.7 6.1 0.3 11.2 2.7 12.3 3.7 15.3 2.7 12.3 0.2 8.2-0.7 20.4-3.1 14.3-1 15.4 0.2 27.6 1.5 25.5-0.4" class="bl" stroke-opacity="0.5"/>
<path d="M391.6 593.2l3.8 1.2 5.6 2.8 6.1 2.4 7.2 1.7 6.1 0.6 7.2 0.1 14.3-1.8 3.1 0.1 7.1 1.6 18.4 5.4 17.4 3.2 15.3-0.5 25.6-3.4 10.2-0.8 12.2 0.1 43 2 15.3-0.4" class="bl" stroke-opacity="0.55"/>
<path d="M391.6 597.5l3.1 2.8 3.7 2.1 5.9 2.2 5.9 1.2 11.3 0.5 8.1-0.4 11.3-2.1 6.1 0 12.3 3 9.2 2.8 18.4 3.2 7.1 0.3 10.2-0.7 16.4-2.8 20.4-1.9 47 1.8 21.5-0.4" class="bl" stroke-opacity="0.75"/>
<path d="M391.6 600.5l3.4 2.6 3.6 1.4 4.9 1.1 8.8 1 12.2-0.4 8.2-1.1 6.1-1.6 8.2-0.1 12.3 2.9 13.3 3.8 12.2 2 6.2 0.5 11.2-0.4 10.2-1.2 8.2-1.6 16.3-1.7 16.4 0 34.7 1.7 21.5-0.4" class="bl" stroke-opacity="0.6"/>
<path d="M391.6 602.1l5.7 0.3 9.8 1.9 9.2 0.5 13.3-0.9 11.3-2.4 5.1 0.1 11.2 2.3 14.3 4.2 10.3 2 10.2 0.9 15.3-0.9 21.5-3.1 11.2-0.9 13.3 0.1 5.1 0.6 25.6 1.2 12.2 0.2 13.3-0.7" class="bl" stroke-opacity="0.6"/>
<path d="M391.6 605.8l2.1 0.7 6.5 0.9 13.1 0.4 14.3-1.5 12.3-3 3-0.3 7.2 0.7 21.4 5.7 12.3 1.9 9.2 0.7 11.2-0.7 17.4-2.7 19.4-1.6 8.2-0.1 38.8 1.8 21.5-0.4" class="bl" stroke-opacity="0.6"/>
<path d="M391.6 608.3l2.6-0.4 14 0.7 8.1-0.5 12.3-1.7 8.2-2.2 7.1-1 5.1 0.3 9.2 1.8 13.3 3.8 16.4 2.4 10.2-0.1 11.2-1 17.4-2.8 16.4-1.2 41.9 1.8 24.5-0.2" class="bl" stroke-opacity="0.55"/>
<path d="M391.6 611.7l3.5-0.9 17.2-1.2 8.1-1.2 9.2-1.8 8.2-2.6 7.2-0.8 13.2 2.2 17.4 4.3 16.4 1.8 15.3-1.1 12.3-2.1 20.4-2.1 10.2 0 17.4 1.3 20.4 0.7 21.5-0.5" class="bl" stroke-opacity="0.6"/>
<path d="M391.6 614.8l2.7-1.8 4.3-1.3 19.8-2.8 24.5-6.3 10.2 1.2 20.5 4.9 8.2 1.4 10.2 0.7 17.3-1.3 21.5-3.1 12.3-0.6 48 1.9 18.4-0.5" class="bl" stroke-opacity="0.6"/>
<path d="M391.6 620.7l5.7-0.8 10.9-3 16.3-4.8 15.4-5.4 4-0.6 3.1-0.1 8.2 1 19.4 4.1 11.2 1.4 7.2 0.2 16.3-1.5 21.5-3.3 12.3-0.9 47 1.9 19.4-0.4" class="bl" stroke-opacity="0.5"/>
<path d="M391.6 625.4l1.9-0.3 11.9-4.8 24.2-8.6 8.2-3.4 7.2-1.7 12.2 1.1 12.3 2.9 7.1 1 14.4 1.2 14.3-1 23.5-3.6 14.3-0.9 50 1.7 16.4-0.4" class="bl" stroke-opacity="0.75"/>
<path d="M391.6 630.2l3.3-1 8.8-4.5 16.7-7.5 8.2-3 12.3-5.5 3-0.7 7.2 0.1 5.1 0.6 15.3 2.9 18.4 1.7 17.4-1.4 20.4-3.4 13.3-1 14.3 0 31.7 1.7 22.5-0.5" class="bl" stroke-opacity="0.55"/>
<path d="M391.6 636l2.2 0.1 3.8-1.3 41.2-21.4 5.1-1.6 6.2-0.3 7.1 0.3 12.3 2.1 20.4 1.3 18.4-1.9 16.4-3.2 15.3-1.7 53.1 1.5 16.4-0.6" class="bl" stroke-opacity="0.5"/>
<path d="M391.6 640.8l5.3-6.1 5.5-4.8 7.8-5.5 11.3-6.5 16.3-8.4 6.1-2 7.2-0.2 12.3 1.6 9.2 2 4 0.2 7.2 1.1 8.2 0.3 16.3-1.5 10.2-2 21.5-2.3 6.1-0.1 38.9 1.8 24.5-0.4" class="bl" stroke-opacity="0.6"/>
<path d="M391.6 646.4l4.7-6.1 4.1-3.9 12.9-9.4 6.1-4.1 18.4-10.7 3.1-1.4 4.1-1.2 3-0.4 10.2 0.3 10.3 1.8 18.4 1.5 10.2-0.4 12.2-1.5 14.4-2.9 17.3-1.6 16.4 0.2 29.6 1.4 15.3 0.1 7.2-0.5" class="bl" stroke-opacity="0.75"/>
<path d="M391.6 652.7l5.3-8.5 4.1-5.1 3.6-4.1 9.7-8.7 10.2-7.2 10.2-6.2 7.2-3.6 2-0.5 6.2-0.4 5.1 0.1 6.1 0.7 7.2 1.5 13.3 1.7 6.1 0.2 12.2-0.5 9.2-1 16.4-3 16.3-1.4 18.4 0.4 25.6 1.3 23.5-0.2" class="bl" stroke-opacity="0.55"/>
<path d="M391.6 658.3l2.4-4.1 5.7-7.6 8.5-9 6.1-5.4 10.2-8.1 12.3-8.3 5.1-2.7 3.1-1 3-0.6 8.2-0.4 14.3 1.7 12.3 0.8 12.2-0.1 14.3-2 14.4-2.8 17.3-1.8 12.3 0 34.7 1.5 21.5-0.4" class="bl" stroke-opacity="0.55"/>
<path d="M391.6 664.9l4.4-7 7.9-11 11.4-12.4 7.2-6.5 10.2-7.8 7.2-4.9 5.1-2.1 6.1-1 5.1-0.1 5.1 0.2 8.2 1.3 9.2 0.4 9.2 0.3 8.2-0.3 15.3-2.2 11.2-2.3 17.4-2 14.3 0.1 37.8 1.4 17.4-0.3" class="bl" stroke-opacity="0.55"/>
<path d="M391.6 669.1l3.6-7 6.7-10.6 11.4-13.7 10.2-9.8 11.2-9 4.1-2.8 6.2-3 6.1-1 6.1-0.1 25.6 1.8 11.2-0.2 36.8-5.8 11.2-0.9 47.1 1.6 20.4-0.5" class="bl" stroke-opacity="0.55"/>
<path d="M391.6 613.9l23.7-2.7 13.3-2.8 11.3-3.3 4-0.6 8.2 0.8 23.5 5.1 15.4 1.7 16.3-1.1 14.3-2.3 19.4-1.9 47 1.7 21.5-0.3" class="or"/>
</g>
<rect x="381.0" y="549.9" width="239.5" height="135.6" class="sp"/>
<path d="M391.6 685.5v14M446.1 685.5v14M500.6 685.5v14M555.0 685.5v14M609.5 685.5v14M381.0 590.9h-15M381.0 649.8h-15" class="tk"/>
<path d="M655.0 549.9V685.5M763.9 549.9V685.5M872.9 549.9V685.5M644.4 590.9H883.9M644.4 649.8H883.9" class="grid"/>
<clipPath id="cp21"><rect x="644.4" y="549.9" width="239.5" height="135.6"/></clipPath>
<g clip-path="url(#cp21)">
<path d="M655 569.6l3.7 17.7 2.4 6.9 3 5.5 2.9 3.6 4.8 3.6 7 2.9 5.2 1.2 11.4 1.8 24.7 1.2 10.4-0.2 15.2-2.4 9.5-0.9 12.3 0.3 29.4 2.2 34.2 3.8 20.9 1.3 8.5-0.5 12.3-2" class="bl" stroke-opacity="0.6"/>
<path d="M655 677.1l2.2-10.4 3.5-10.8 4.1-7.5 4.1-4.9 5.9-5 7.7-4.7 12.9-5.7 9.5-3 28.5-6.6 11.3-3.4 12.4-2.2 9.5-0.3 21.8 0.5 49.3 4.5 11.4 0.5 8.6-0.1 15.1-2.4" class="bl" stroke-opacity="0.6"/>
<path d="M655 676.1l2.4-16.1 2-9.1 2.4-7.4 3.7-7.1 4.8-5.3 5.2-3.5 9.5-4.1 8.5-2.5 12.3-2.5 23.8-2.9 18-3.8 8.5-1 13.3 0.2 19.9 1.1 35.2 3.7 25.6 1.9 5.7-0.1 17-2.3" class="bl" stroke-opacity="0.75"/>
<path d="M655 674l2-13 2.4-10.2 3.2-8.2 3.3-5.5 5.2-5.4 6.6-4.3 8.2-3.8 8.5-2.7 7.6-1.6 21.9-3.2 20.8-4.1 10.5-1.4 14.2 0.1 20.9 1.2 52.2 5.3 14.2 0.1 16.1-2.3" class="bl" stroke-opacity="0.5"/>
<path d="M655 671.9l2.6-12.4 2.4-8.4 3-7.2 4-7 3.7-4.4 5.5-4.6 5.6-3.1 11.7-4.2 11.4-2.5 23.7-3 17.1-3.5 8.5-1.1 12.4-0.1 24.6 1.5 27.6 3 30.3 2.5 9.5-0.3 14.2-2" class="bl" stroke-opacity="0.55"/>
<path d="M655 648.8l2-7.2 2-5.2 1.9-3.6 4.3-5.2 4.4-3.1 6.3-2.8 5.9-1.7 9.8-1.8 33.2-3.5 25.6-4.5 6.7-0.5 31.3 1.2 20.9 2.6 39.8 3.4 10.5-0.4 13.2-1.9" class="bl" stroke-opacity="0.5"/>
<path d="M655 648.6l2.7-6.8 3.8-5.4 5.9-4.7 7.7-3.8 15.5-4.7 9.5-1.9 31.4-4.6 19.9-4.1 4.7-0.5 10.5 0 23.7 1.1 24.7 2.7 37 2.7 9.5-0.7 11.3-1.8" class="bl" stroke-opacity="0.6"/>
<path d="M655 641.4l2.6-6.4 3.7-5.4 3.9-3.5 2.2-1.4 7.4-3.1 9.2-2.2 11.4-1.6 35.1-3.3 22.8-4 7.6-0.2 25.6 1.2 48.4 5.1 12.3 0.7 10.5 0 15.1-2.1" class="bl" stroke-opacity="0.75"/>
<path d="M655 638.6l2.7-4.9 4-3.8 3.8-2.4 10-3.7 12.3-2.8 16.1-2.6 26.6-3 20.9-4.1 9.5-0.5 27.5 1.2 35.1 3.7 25.6 1.9 10.5-0.3 13.2-2" class="bl" stroke-opacity="0.75"/>
<path d="M655 633.7l2-4.7 2.6-3.2 3-1.9 8.5-2.6 7.7-1.5 16.6-2.1 36.1-3.1 11.3-2.5 10.5-1.5 15.2 0 21.8 1.2 34.2 3.8 23.7 1.9 8.5-0.1 16.1-2.3" class="bl" stroke-opacity="0.75"/>
<path d="M655 631.1l2.2-4.1 4.5-4.5 3.5-1.7 3.7-1.2 6.6-1.4 8.5-1.1 46.5-4 12.3-2.5 10.5-1.5 15.2 0.1 18.9 1.1 51.3 5.6 10.4 0.5 9.5-0.3 14.2-2.1" class="bl" stroke-opacity="0.75"/>
<path d="M655 629.9l3.3-4 3.7-2.2 9.4-2.6 24-3.2 30.4-2.7 29.4-4.9 13.3 0.1 18 1.1 38 4.1 18 1.4 14.2 0.3 16.1-2.2" class="bl" stroke-opacity="0.75"/>
<path d="M655 626l2.2-1.9 2-1.1 12.2-2.6 27.8-3.2 26.6-2 7.6-1.1 14.2-3 7.6-0.8 10.4 0.1 22.8 1.2 41.7 4.5 19 1.3 11.4-0.5 12.3-2" class="bl" stroke-opacity="0.55"/>
<path d="M655 623.7l5.9-1.8 11.7-1.7 57-5.1 18-3.6 9.5-1 33.2 1.6 25.6 2.8 28.5 2.5 10.4 0.1 18-2.3" class="bl" stroke-opacity="0.6"/>
<path d="M655 621.4l6.3-2.2 4.2-0.8 22.3-2.1 29.4-1.5 13.3-1.2 19-3.5 6.6-0.6 33.2 1.5 45.6 5.1 13.3 0.8 11.4-0.3 13.2-2.1" class="bl" stroke-opacity="0.5"/>
<path d="M655 608.6l2 3.7 2.6 2.4 4.8 1.4 5.9 0.4 27.9-0.5 28.5-1.7 7.6-1.1 10.4-2.1 13.3-1.4 28.5 1.3 33.2 3.8 22.8 2 12.3 0.2 18-2.2" class="bl" stroke-opacity="0.5"/>
<path d="M655 607.4l2.6 4.8 2.4 2.3 3.3 1.5 8.1 1.2 29.7-0.3 23.7-1.2 9.5-1.3 15.2-2.8 7.6-0.5 19 0.4 15.1 1.1 42.7 4.5 17.1 1 9.5-0.6 12.3-1.9" class="bl" stroke-opacity="0.75"/>
<path d="M655 606.7l4 5 4.3 2.4 7.4 1.6 8.9 0.4 26.2-0.6 19-0.9 10.4-1.1 7.6-1.8 9.5-1.3 7.6-0.3 25.6 1.2 20 2.4 42.7 3.8 9.5-0.2 15.1-2.3" class="bl" stroke-opacity="0.5"/>
<path d="M655 603.6l2.4 6.8 3 4.3 3.7 2.3 3.7 1.1 4.4 0.5 15.6 0.1 34.2-1.7 9.5-1 18-3.4 8.5-0.8 34.2 1.5 19 2.3 37.9 3 9.5-0.4 14.2-2.1" class="bl" stroke-opacity="0.55"/>
<path d="M655 597l1.6 4.9 2.3 4.5 3.7 4 3.3 2 3 1 9.9 1.6 22.3 0.6 24.7-0.6 7.6-0.7 14.2-2.7 9.5-0.7 30.3 1.5 29.5 3.2 29.4 2.5 9.5 0.1 17-2.4" class="bl" stroke-opacity="0.6"/>
<path d="M655 596.1l1.8 4.8 2.6 5 4.3 4.5 4.4 2.7 3 1 11.1 1.6 15.1 0.2 28.5-1.4 11.3-1.5 10.5-2.2 11.4-0.7 28.4 1.2 57.9 5.9 9.5 0.2 18-2.6" class="bl" stroke-opacity="0.75"/>
<path d="M655 594l1.3 6.1 1.8 5.8 3.6 5.6 4.2 2.7 9.2 2 18.4 0.7 26.6-0.9 9.5-0.9 20.8-3.6 10.5-0.6 27.5 1.3 29.4 3.3 25.6 2.2 14.3 0.1 15.1-2.3" class="bl" stroke-opacity="0.55"/>
<path d="M655 591.3l3.1 9.3 2.3 3.8 3.3 3.4 3.7 2.2 5.2 1.8 10.7 1.7 17.8 1 21.8-0.5 11.4-1 17.1-2.9 6.6-0.2 31.3 1.5 26.6 3.1 31.3 2.7 8.6 0.1 17-2.4" class="bl" stroke-opacity="0.6"/>
<path d="M655 591.3l1.8 7.4 1.5 3.9 3.2 5.4 2.6 2.4 2.5 1.4 7.8 1.9 8.9 0.7 16.8 0.3 4.8-0.4 17.1-0.1 16.1-1.7 5.7-1.3 10.4-1.4 33.2 1.4 42.7 4.8 16.2 1.3 13.3-0.3 13.2-2" class="bl" stroke-opacity="0.6"/>
<path d="M655 591l2.4 9.7 1.8 4.2 2.6 3.5 2.6 1.9 4.5 1.9 5.1 0.9 16.6 1 25.7 0.1 13.3-0.8 17-3 5.7-0.7 6.7-0.1 28.4 1.5 47.5 5 15.2 1 9.5-0.5 13.2-1.9" class="bl" stroke-opacity="0.75"/>
<path d="M655 582.5l3.5 12.7 2.2 4.8 3 4.3 5.2 4.2 4 1.8 5.6 1.4 7.4 1 12.3 0.8 18.1 0.2 14.2-0.6 21.8-3.4 11.4 0 23.7 1.6 49.4 5.2 15.2 0.8 8.5-0.5 12.3-1.9" class="bl" stroke-opacity="0.5"/>
<path d="M655 571.2l2 12.1 1.5 5.6 2.4 6.3 2.4 3.9 3.7 3.5 4.8 2.7 12.2 3.9 18 2.8 20 1.3 8.5-0.1 23.7-3 22.8 0.9 14.2 1.3 27.6 3.2 27.5 2.4 12.3-0.3 14.2-2" class="bl" stroke-opacity="0.5"/>
<path d="M655 569.1l3.1 17.3 2.8 8.5 2.8 5.2 2.9 3.5 5.2 3.7 4.4 1.8 7.1 1.9 14.9 1.7 17.1 0.4 14.3-0.7 23.7-3.6 4.7-0.1 27.5 1.4 42.7 4.7 19 1.5 10.5 0 15.1-2.1" class="bl" stroke-opacity="0.75"/>
<path d="M655 620.3l72.7-5.6 20.8-3.6 7.6-0.7 32.3 1.3 44.6 4.6 14.2 1 10.5-0.1 15.1-2.2" class="or"/>
</g>
<rect x="644.4" y="549.9" width="239.5" height="135.6" class="sp"/>
<path d="M655.0 685.5v14M763.9 685.5v14M872.9 685.5v14M644.4 590.9h-15M644.4 649.8h-15" class="tk"/>
<path d="M918.3 549.9V685.5M1027.2 549.9V685.5M1136.2 549.9V685.5M907.7 590.9H1147.2M907.7 649.8H1147.2" class="grid"/>
<clipPath id="cp22"><rect x="907.7" y="549.9" width="239.5" height="135.6"/></clipPath>
<g clip-path="url(#cp22)">
<path d="M918.3 564.1l2.4 21.4 2.4 9.3 2.3 4.1 2.4 2.9 0.7-0.2 1.5 1.3 1.8 0.1 2.3 1 2.5 0.1 1.9 0.8 2.6 0.4 1.5-0.4 1.4 0.8 1.5-0.4 1.9 0.5 5.6 0.1 1.9 0.6 10.5 0 4.7 0.6 13.3-1.3 10.5-1.8 2.8-1.1 13.3-2 4.7 0.1 13.3 1.9 12.4 3.4 7.5 1 4.8 2.1 4.7 0.2 12.4 1.9 5.7 1.6 8.5-0.1 4.8 1.4 2.8-0.3 4.7 0.8 3.8-0.4 4.8 0.7 4.7-0.5 2.9 0.5 5.7-0.2 7.6-2.9 10.4-0.2" class="bl" stroke-opacity="0.75"/>
<path d="M918.3 680.9l2.2-29.2 2.1-9.5 2.4-4.7 2.8-1.8 1.1-1.3 1.5-0.4 1.8-1.8 1.9-0.8 2.5-1.9 4.5-1.6 1.1-1.1 9.9-4.4 2.8-0.6 10.5-3.9 4.7-0.7 7.6-2.8 9.5-2.6 9.5-3.8 13.3-3.4 6.6-0.4 11.4 1 12.4 3 5.6 0.3 6.7 2.4 13.3 1.1 5.7 0.9 3.8 1.3 8.5-0.3 4.8 1.2 12.3 0.2 3.8 0.5 4.7-0.4 2.9 0.5 6.6-0.4 4.8-2.4 2.8-0.6 2.9-0.4 6.6 0.3" class="bl" stroke-opacity="0.55"/>
<path d="M918.3 676.8l1.7-15.2 1.8-11 3-10.5 3.7-7.4 3.3-4.7 4.8-5.2 1.9-1 3.7-3.2 1.5-0.4 1.8-1.8 8.5-3.6 11.4-3.2 4.7-0.5 6.7-1.9 3.8-0.5 13.3-3.4 5.6-2.1 11.4-1.9 5.7 0.2 11.4 1.3 12.4 3.5 4.7 0.2 2.8 0.6 4.8 2.2 4.7 0.1 2.9 0.7 5.7 0.6 9.5 2.2 8.5-0.1 4.8 1.1 7.5 0.8 3.8-0.2 4.8 0.6 4.7-0.4 3.8 0.4 5.7-0.2 4.8-2.5 1.9-0.4 3.8-0.3 6.6 0.5" class="bl" stroke-opacity="0.75"/>
<path d="M918.3 678l1.5-18.2 1.7-9.7 1.1-3.6 2.2-3.9 3-2.1 1.1-1.5 1.5-0.6 1.4-1.6 4.8-3.3 4.5-2 1.1-1.2 1.5-0.4 1.8-1.4 1.9-0.6 5.6-3.1 12.4-4.8 4.7-0.9 3.8-1.8 7.6-2.3 18-6.9 10.5-2.9 6.6-0.5 11.4 0.7 4.8 1.5 8.5 1.6 6.6 0.5 4.8 2.1 8.5 0.3 9.5 1.3 4.8 1.4 8.5-0.4 4.8 1.2 2.8-0.1 4.7 0.7 3.8-0.5 4.8 0.8 4.7-0.6 2.9 0.6 6.6-0.4 4.8-2.5 1.9-0.5 3.8-0.4 6.6 0.3" class="bl" stroke-opacity="0.5"/>
<path d="M918.3 673.3l1.1-18 1.1-9.2 2.1-8 2.4-3.4 2-1.3 0.8 0.1 0.7-1.1 1.9-0.6 6.2-4.2 1.9-0.2 3.7-2.2 1.5-0.3 2.9-1.6 15.9-5.4 10.5-2.3 3.8-1.7 3.8-0.8 13.3-4.5 5.6-2.4 10.5-2.4 6.6-0.4 7.6 0.4 4.8 0.7 3.8 1.3 7.6 1.4 7.5 0.8 4.8 2 4.7-0.1 13.3 1.8 4.8 1.4 8.5-0.2 4.8 1.3 4.7 0 2.8 0.5 3.8-0.5 4.8 0.8 4.7-0.7 1.9 0.5 7.6-0.2 4.8-2.5 1.9-0.5 3.8-0.3 6.6 0.3" class="bl" stroke-opacity="0.5"/>
<path d="M918.3 670.7l2-18.1 2.3-10.7 2.4-6.4 2.8-3.2 0.7-1.6 1.5-0.9 1.8-2 4.8-3.3 1.9-0.5 3.7-2.3 2.2-0.8 1.1-1 1.9-0.4 4.7-2.2 2.8-0.4 10.5-3.4 4.7-0.5 7.6-2.7 2.9-0.4 11.4-3.4 6.6-2.4 11.4-2.4 6.6-0.3 2.9 0.6 4.7 0 3.8 0.6 12.4 3.2 5.6 0.4 6.7 2.5 4.7-0.1 14.3 2.3 3.8 1.4 8.5-0.2 4.8 1.1 7.5 0.6 3.8-0.3 4.8 0.7 12.3-0.4 1 0.3 0.9-0.1 4.8-2.7 2.8-0.5 9.5 0.3" class="bl" stroke-opacity="0.75"/>
<path d="M918.3 664.1l1.1-12.1 2.1-10.6 1.1-3.2 2.2-3.4 3-1.4 0.7-1.1 1.9-0.5 5.1-3.4 4.8-1.4 1.9-1.5 1.5-0.3 1.8-1.3 1.9-0.1 4.7-2.2 2.8-0.5 10.5-3.5 3.8-0.5 6.6-2.4 5.7-1.4 12.4-4 3.7-1.9 5.7-1.5 6.7-1.5 3.8-0.4 11.4 0.5 7.6 1.8 5.7 0.7 1.9 0.8 5.6 0.2 6.7 2.3 4.7 0.2 9.5 1.5 3.8 0.2 4.8 1.5 8.5-0.3 4.8 1.1 7.5 0.5 3.8-0.3 4.8 0.7 4.7-0.4 8.6 0.2 7.6-3.1 3.8-0.4 6.6 0.4" class="bl" stroke-opacity="0.5"/>
<path d="M918.3 654.5l1.9-11.4 2.4-7.8 2.2-3.4 3-1.6 0.7-1.1 1.5-0.2 3.7-2.6 2.9-1.2 1.9-0.2 3.7-2 1.5-0.1 1.8-1.1 1.9-0.2 4.7-1.9 13.3-3.5 4.7-0.6 7.6-2.5 1.9-0.1 6.7-2.4 5.7-1.3 7.5-2.9 10.5-2.4 15.2 0.3 15.2 3.7 7.5 0.7 4.8 2 4.7 0 13.3 1.9 4.8 1.4 8.5-0.3 4.8 1.2 6.6 0.5 4.7-0.3 4.8 0.6 4.7-0.4 2.9 0.4 6.6-0.4 4.8-2.3 2.8-0.6 2.9-0.4 6.6 0.5" class="bl" stroke-opacity="0.55"/>
<path d="M918.3 652.1l1.7-14.2 1.5-5.3 1.1-2.3 2.4-3.1 2.8-1.3 0.7-1.2 1.9-0.6 6.2-4.3 1.9-0.1 7-3.5 7.5-2.2 8.6-1.8 3.8-1.4 6.6-0.6 3.8-1.3 4.8-0.7 3.8-1.4 7.6-1.7 6.6-2.3 11.4-2.4 6.6 0 8.6 0.8 15.2 3.8 5.6 0.5 6.7 2.4 4.7 0.3 13.3 2 4.8 1.3 4.7-0.2 15.2 2 4.7-0.4 4.8 0.7 13.3 0 5.7-2.6 1.9-0.4 3.8-0.3 6.6 0.2" class="bl" stroke-opacity="0.6"/>
<path d="M918.3 648.7l2-11.1 2.3-5.9 2.2-3.1 3-1.5 0.7-1 1.9-0.6 2.9-2.1 3.3-1.7 1.9 0 1.5-1.1 1.1-0.1 1.1-1 1.5 0 1.8-1.3 1.9-0.2 4.7-1.9 2.8-0.2 10.5-3.1 4.7-0.5 21.9-6.2 4.7-2 13.3-3.1 6.6-0.2 10.5 1 5.7 1.7 10.4 2.2 4.7 0.2 4.8 2.2 4.7 0 2.9 0.8 11.4 1.3 3.8 1.3 8.5-0.2 4.8 1.2 7.5 0.6 3.8-0.3 4.8 0.7 4.7-0.6 2.9 0.6 4.7-0.4 1 0.4 5.7-2.7 1.9-0.3 3.8-0.4 6.6 0.2" class="bl" stroke-opacity="0.55"/>
<path d="M918.3 640l1.1-7.5 2.1-6 3.3-3.4 3-0.6 0.7-1 1.9-0.2 1.8-1.4 1.9-0.4 2.5-1.3 1.9 0.2 7-2.9 1.9 0 6.6-2 6.6-0.8 4.8-1.4 7.6-0.6 4.7-1.5 3.8-0.5 10.5-2.8 7.5-2.5 6.7-1.3 10.4-0.8 11.4 1.3 4.8 1.6 10.4 2.1 2.8 0.1 6.7 2.6 6.6 0.3 8.6 1.6 3.8 0.2 3.8 1.4 8.5-0.4 4.8 1.3 3.7 0.4 7.6-0.2 4.8 1 4.7-0.6 2.9 0.5 4.7-0.5 1.9 0.2 6.7-2.9 10.4-0.1" class="bl" stroke-opacity="0.55"/>
<path d="M918.3 639.1l1.7-7.5 2.6-4.5 0.5 0 2.1-1.8 2.6-0.6 0.7-0.9 1.9-0.3 6.2-3.1 1.9 0.1 8.1-3.3 18.8-3.9 5.7-0.4 4.7-1.6 4.8-0.6 9.5-2.5 8.5-2.9 11.4-2.3 6.6-0.1 12.4 1.3 3.8 1.4 4.7 0.7 2.9 1.1 4.7 0.1 2.8 0.7 4.8 1.9 10.4 0.9 3.8 1 4.8 0.4 3.8 1.3 8.5-0.3 4.8 1.2 3.7 0.3 8.6 0 3.8 0.6 4.7-0.6 2.9 0.6 5.7-0.1 5.7-2.6 1.9-0.4 3.8-0.5 6.6 0.3" class="bl" stroke-opacity="0.75"/>
<path d="M918.3 636.4l1.1-4.2 1.7-3.5 1.5-1.6 0.5 0 1.9-1.6 2.8-0.2 1.1-0.9 1.5 0.2 1.4-1 4.8-1.5 1.9 0.1 3.7-1.7 2.2-0.2 1.1-0.8 1.9 0.1 5.6-1.8 7.6-1.1 4.8-1.5 1.9 0.2 5.7-1 0.9-0.6 18.1-4.6 4.7-2 14.2-3 5.7-0.1 10.5 0.8 13.3 3.3 5.6 0.4 6.7 2.4 6.6 0.3 11.4 1.6 4.8 1.3 8.5-0.2 1 0.6 3.8 0.6 7.5 0.5 3.8-0.4 4.8 0.8 4.7-0.5 2.9 0.6 4.7-0.5 1 0.3 5.7-2.8 1.9-0.4 3.8-0.3 6.6 0.3" class="bl" stroke-opacity="0.75"/>
<path d="M918.3 630.2l2-3.7 4.5-2.9 3 0.1 1.1-0.8 1.5 0 6.2-2.1 1.9 0.1 2.6-0.5 1.1-0.8 1.5 0.1 1.8-0.9 1.9 0 4.7-1.4 3.8-0.2 9.5-2.2 7.6-0.8 0.9-0.6 6.7-1.2 11.4-3 5.6-2.3 12.4-2.6 6.6 0 10.5 0.8 13.3 3.4 4.7 0.2 2.8 0.6 4.8 2 4.7 0 5.7 0.7 7.6 1.2 4.8 1.3 8.5-0.3 4.8 1.3 2.8-0.1 3.8 0.6 3.8-0.3 5.7 0.6 4.7-0.4 1.9 0.4 5.7-0.5 1 0.3 0.9-0.1 4.8-2.5 1.9-0.4 3.8-0.3 6.6 0.2" class="bl" stroke-opacity="0.75"/>
<path d="M918.3 617.8l1.3 0.9 2.8 0.4 2.4-0.8 3 0.4 0.7-0.7 1.5 0.2 6.6-2.2 1.9 0.4 0.7-0.5 1.9 0 1.8-0.8 0.8 0.2 2.9-1 18.8-2.7 6.6-0.4 3.8-1.2 3.8-0.4 7.6-1.8 12.3-3.8 11.4-1.9 5.7 0 11.4 1.2 4.8 1.6 15.1 2.8 4.8 1.9 4.7 0.1 11.4 1.6 6.7 1.8 8.5-0.2 4.8 1.3 11.3 0.2 4.8 0.5 4.7-0.2 2.9 0.5 6.6-0.5 4.8-2.5 1.9-0.4 3.8-0.4 6.6 0.4" class="bl" stroke-opacity="0.6"/>
<path d="M918.3 617l1.3 1.3 3-0.4 0.5 0.4 1.7-1 3 0.3 0.7-0.6 1.9 0 1.4-0.8 2.3-0.2 2.5-1 1.9 0.4 1.8-0.3 1.9-0.9 1.5 0.1 1.8-0.9 1.9 0.3 4.7-1.3 3.8 0 9.5-1.6 4.7-0.1 3.8-1.1 7.6-1.2 7.6-2.2 2.9-0.3 7.5-2.6 10.5-2 6.6 0.1 11.4 1.3 12.4 3.3 4.7 0.2 2.8 0.7 4.8 2.1 10.4 0.7 8.6 1.6 3.8 1.2 8.5-0.2 4.8 1.2 7.5 0.6 3.8-0.2 4.8 0.5 4.7-0.4 4.8 0.4 4.7-0.2 4.8-2.5 1.9-0.5 10.4 0.2" class="bl" stroke-opacity="0.5"/>
<path d="M918.3 612.9l1.3 2.2 1.7 0.8 1.3-0.1 0.5 0.5 1.7-0.8 0.6 0.5 2.4 0.1 0.7-0.8 1.5 0.1 6.6-1.7 0.8 0.4 3.7-0.3 1.1-0.8 2.2 0 1.8-0.8 1.2 0.3 6.6-1.1 6.6-0.4 4.8-0.9 7.6-0.4 20.9-4.5 3.7-1.7 13.3-2.4 17.1 1.5 4.8 1.7 4.7 0.8 2.9 1 8.5 1.1 3.8 1.7 8.5 0.8 6.7 1.3 2.8 0 4.8 1.6 4.7-0.4 3.8 0.2 4.8 1.2 2.8-0.2 13.3 1 4.7-0.2 2.9 0.4 4.7-0.6 1.9 0.3 4.8-2.5 1.9-0.4 3.8-0.3 6.6 0.3" class="bl" stroke-opacity="0.75"/>
<path d="M918.3 611.1l2.4 4 2.4 1.2 1.7-0.4 3 0.8 0.7-0.7 1.5 0.4 1.8-0.8 4.8-0.9 3.7 0.2 1.9-1 1.5 0.3 1.8-0.7 7.5-1.1 2.9 0.1 9.5-1.6 3.8 0 3.8-0.6 19-4.1 7.5-2.6 10.5-2 6.6 0.1 10.5 1.1 5.7 1.7 4.7 0.7 2.9 1.1 4.7 0.2 2.8 0.6 4.8 2.1 10.4 0.9 8.6 1.3 3.8 1.4 8.5-0.2 4.8 1.2 7.5 0.4 3.8-0.3 4.8 0.8 4.7-0.5 2.9 0.5 4.7-0.4 1 0.2 7.6-3 10.4-0.1" class="bl" stroke-opacity="0.75"/>
<path d="M918.3 609.8l1.3 3.8 1.1 1.4 2.4 0.8 1.7-0.7 3 0.7 0.7-0.8 1.9 0.3 1.4-0.8 4.8-0.8 4.5 0.1 1.1-0.9 1.5 0.2 2.5-0.8 26.8-2.6 4.7-1.3 1.9 0.2 11.4-2.6 8.5-2.7 10.5-1.8 3.8-0.1 12.3 1.2 14.3 3.8 7.5 0.9 4.8 1.9 4.7 0.2 10.5 1.8 2.8 0 4.8 1.6 8.5-0.2 4.8 1.3 16.1 0.9 4.7-0.4 3.8 0.4 3.8-0.4 1.9 0.2 3.8-2.1 3.8-0.9 9.5 0.1" class="bl" stroke-opacity="0.75"/>
<path d="M918.3 603.1l1.3 5.4 1.3 3 2.2 2.5 1.7-0.1 3 1.2 0.7-0.7 1.5 0.5 5.5-1.2 5.6-0.1 1.1-0.8 1.5 0.3 1.8-0.6 8.5-0.9 6.6-0.2 12.4-1.4 0.9-0.5 18.1-3.6 7.5-2.5 14.3-2.1 13.3 1.4 13.3 3.4 5.6 0.5 6.7 2.4 19 2.3 3.8 1.4 8.5-0.2 4.8 1.2 16.1 0.8 4.7-0.3 2.9 0.5 6.6-0.3 4.8-2.6 1.9-0.4 10.4 0.1" class="bl" stroke-opacity="0.5"/>
<path d="M918.3 599.8l1.3 6.6 1.7 3.7 1.8 1.9 1.7 0 3 1.4 0.7-0.5 1.9 0.5 6.2-0.6 3.7 0.5 1.9-0.7 1.5 0.2 1.8-0.6 1.9 0.4 6.6-0.8 1.9 0.5 9.5-1.3 7.6-0.1 4.7-1.3 2.9-0.1 11.4-2.4 5.6-2 9.5-1.7 6.7-0.6 5.7 0.8 7.6 0.3 13.3 3.6 7.5 0.9 4.8 2.2 4.7-0.1 10.5 2.1 3.8 0.2 3.8 1.2 4.7-0.3 15.2 1.8 4.7-0.2 4.8 0.5 4.7-0.3 2.9 0.4 6.6-0.3 5.7-2.8 4.8-0.6 6.6 0.4" class="bl" stroke-opacity="0.5"/>
<path d="M918.3 595.7l1.3 8.3 1.3 3.8 2.2 2.5 1.7 0.3 3 1.6 0.7-0.5 1.5 0.6 6.6-0.4 3.7 0.8 1.9-0.7 1.5 0.4 10.3-0.8 1.9 0.4 9.5-1.1 7.6-0.2 20.9-4.4 4.7-1.9 15.2-2.2 14.2 1.5 4.8 1.7 2.8 0.2 4.8 1.4 7.5 1 4.8 1.9 4.7 0.2 14.3 2 3.8 1.4 8.5-0.2 1 0.5 7.5 0.9 7.6 0 4.8 0.6 4.7-0.5 2.9 0.6 6.6-0.3 4.8-2.5 1.9-0.4 3.8-0.4 6.6 0.3" class="bl" stroke-opacity="0.75"/>
<path d="M918.3 587.9l1.3 13.2 1.3 5.5 2.2 3.5 1.7 0 3 1.3 0.7-0.6 1.9 0.5 6.2-0.7 3.7 0.6 1.9-0.8 1.5 0.4 1.8-0.6 9.4 0 10.5-1.1 7.6-0.1 15.2-2.8 5.7-1.4 3.7-1.4 12.4-2.2 3.8 0 14.2 1.6 4.8 1.6 7.6 1.9 4.7 0.2 2.8 0.7 4.8 1.9 8.5 0.9 6.7 1.4 2.8-0.1 4.8 1.5 8.5-0.2 4.8 1.3 7.5 0.5 3.8-0.3 4.8 0.6 4.7-0.4 2.9 0.5 6.6-0.2 3.8-2.1 2.9-0.8 3.8-0.4 6.6 0.4" class="bl" stroke-opacity="0.55"/>
<path d="M918.3 585.9l1.3 11.6 1.7 7.3 1.8 3.9 2.3 1.8 2.4 1.1 0.7-0.4 1.9 0.6 1.8-0.6 1.9 0.3 2.5-0.5 1.9 0.5 0.7-0.4 1.9 0.3 1.1-0.6 1.5 0.4 1.8-0.7 1.9 0.4 4.7-0.7 12.3-0.5 1-0.4 7.6-0.1 0.9-0.5 6.7-0.9 3.8-1.1 7.6-1.3 7.5-2.5 10.5-1.8 3.8-0.1 14.2 1.6 12.4 3.3 5.6 0.4 6.7 2.6 4.7 0.2 14.3 2.1 3.8 1.4 8.5-0.2 4.8 1.1 11.3 0.3 4.8 0.6 4.7-0.3 6.7 0.2 2.8-0.1 3.8-2 3.8-1 5.7-0.2 3.8 0.4" class="bl" stroke-opacity="0.6"/>
<path d="M918.3 578.3l1.3 17.8 1.7 9 1.8 3.8 4.7 2.3 0.7-0.5 1.9 1 1.8-0.5 4.4 0.1 3.7 0.7 1.9-0.7 1.5 0.5 1.8-0.7 1.9 0.3 6.6-0.7 6.6 0 4.8-1 4.7 0.2 17.1-3.4 12.3-3.4 10.5-2 3.8-0.2 13.3 1.5 13.3 3.5 5.6 0.4 6.7 2.5 10.4 0.9 4.8 1.1 2.8 0.1 4.8 1.5 8.5-0.1 4.8 1.2 4.7-0.1 2.8 0.6 3.8-0.4 4.8 0.6 4.7-0.3 2.9 0.5 6.6-0.4 4.8-2.4 2.8-0.6 9.5 0.2" class="bl" stroke-opacity="0.5"/>
<path d="M918.3 576.1l2.4 15.5 2.4 6.9 4.7 4.9 0.7-0.2 1.9 1.4 6.2 0.8 1.9 0.8 16.4 1.3 10.5 0 4.7 0.4 12.4-1.2 11.4-2.2 5.6-1.7 10.5-1.7 3.8 0 13.3 1.6 13.3 3.7 5.6 0.6 6.7 2.3 17.1 2.2 5.7 1.5 4.7-0.3 16.1 1.9 3.8-0.2 4.8 0.6 4.7-0.4 2.9 0.4 6.6-0.2 4.8-2.6 4.7-0.8 5.7 0.6 1.9-0.2" class="bl" stroke-opacity="0.6"/>
<path d="M918.3 571.9l1.1 18.6 1.5 10.5 2.2 5.2 4.7 2.2 0.7-0.6 1.5 0.5 6.6-0.3 1.9 0.9 1.5-0.4 1.1 0.3 1.1-0.6 1.5 0.5 1.8-0.5 1.9 0.5 6.6-0.4 0.9 0.4 6.7-0.2 3.8-0.6 6.6 0.2 20-3.4 11.3-2.8 10.5-1.2 12.3 1.3 14.3 3.8 7.5 0.9 4.8 2.3 4.7-0.1 6.7 1.4 5.7 0.6 5.7 1.6 8.5-0.1 4.8 1.1 7.5 0.6 3.8-0.3 4.8 0.7 4.7-0.4 2.9 0.5 4.7-0.4 1 0.3 7.6-3.1 3.8-0.4 6.6 0.3" class="bl" stroke-opacity="0.6"/>
<path d="M918.3 571.8l1.9 18.7 1.1 4.9 1.8 4.3 4.7 3.6 0.7-0.4 1.5 1.1 1.8-0.1 9.3 2.5 1.1-0.6 1.5 0.7 10.3 0.6 0.9 0.4 18.1 0.4 19-2.8 6.6-2 3.8-0.3 7.6-1.5 4.7 0.1 12.4 1.4 13.3 3.8 5.6 0.4 6.7 2.5 8.5 0.6 6.7 1.5 3.8 0.2 3.8 1.3 8.5-0.2 4.8 1.2 7.5 0.6 3.8-0.3 4.8 0.7 4.7-0.5 2.9 0.4 5.7 0 1.9-0.5 3.8-2.2 1.9-0.4 3.8-0.4 6.6 0.4" class="bl" stroke-opacity="0.55"/>
<path d="M918.3 620.3l2.4-0.3 1.9-0.8 0.5 0.4 1.7-1 3 0.2 0.7-0.7 1.9 0.1 1.4-0.8 4.8-1.3 1.9 0.3 2.6-0.5 1.1-0.8 1.5 0.2 1.8-0.9 1.9 0.1 4.7-1.2 8.5-0.8 4.8-1.1 7.6-0.6 19-4.4 7.5-2.5 10.5-2 3.8-0.1 14.2 1.4 12.4 3.3 7.5 0.9 4.8 2 4.7 0.1 13.3 1.9 4.8 1.5 8.5-0.2 4.8 1.2 7.5 0.5 3.8-0.2 4.8 0.6 4.7-0.4 2.9 0.4 6.6-0.2 4.8-2.5 2.8-0.6 9.5 0.1" class="or"/>
</g>
<rect x="907.7" y="549.9" width="239.5" height="135.6" class="sp"/>
<path d="M918.3 685.5v14M1027.2 685.5v14M1136.2 685.5v14M907.7 590.9h-15M907.7 649.8h-15" class="tk"/>
<path d="M1181.7 549.9V685.5M1290.6 549.9V685.5M1399.6 549.9V685.5M1171.1 590.9H1410.6M1171.1 649.8H1410.6" class="grid"/>
<clipPath id="cp23"><rect x="1171.1" y="549.9" width="239.5" height="135.6"/></clipPath>
<g clip-path="url(#cp23)">
<path d="M1181.6 563.6l2.8 22.7 1.9 6.8 2.2 3.9 4.8 4.5 4.5 2 4 0.8 1.1-0.2 2.3 1.3 4-0.2 0.8 0.4 2.6-0.5 4.7 1.1 4.8-0.1 5.7 1.1 5.7 0.4 2.8-0.3 1-0.2 1.9-1.7 4.7-5.7 1.9-1 2.9 0.4 14.2-1 2.8-0.4 4.8-1.9 2.8-0.6 12.4 1.6 5.7 1.7 18 10.6 5.7 0.7 16.1 3.6 9.5 1.5 8.6 0.6 4.7-1.1 10.4 1.4 13.3 0.1 2.9-1.1 5.7-3.9 1.9-0.6 1.9-0.3 9.5 0.8" class="bl" stroke-opacity="0.6"/>
<path d="M1181.6 664.9l2.3-12.7 3.2-9.4 2.9-5.6 6.3-7.3 6.6-6.2 2.3-0.8 0.7-1 6.7-5 4.7-1.5 4.8-2.3 11.4-1.9 3.8-1.7 1.9-1.9 4.7-6.5 1.9-1.2 2.9 0 17-2.8 4.8-2.3 2.8-0.7 9.5 0.8 9.5 2.6 17.1 10.1 5.7 0.8 13.3 3.2 12.3 1.8 8.6 0.7 4.7-1 9.5 1.4 3.8-0.3 4.7 0.5 5.7-0.2 2.9-1.1 5.7-4 1.9-0.6 11.4 0.6" class="bl" stroke-opacity="0.6"/>
<path d="M1181.6 650.4l2.3-8.6 4.3-9.5 7-8.8 7.7-7.1 2.3-0.6 0.7-1 3.3-2.3 5.3-2.9 2.8-0.5 4.8-2 11.4-1.1 3.8-1.5 1.9-1.8 4.7-6.4 1.9-1.2 8.6-0.3 11.3-1.5 4.8-2.3 2.8-0.5 6.7 1 2.8-0.1 9.5 2.9 15.2 9.4 2.8 1.3 4.8 0.3 16.1 4.2 4.8 0.2 4.7 1.2 5.7 0.5 2.9 0.2 5.6-0.9 9.5 1.4 13.3 0.3 2.9-1.2 5.7-3.9 1.9-0.5 5.7-0.1 5.7 0.7" class="bl" stroke-opacity="0.75"/>
<path d="M1181.6 647.9l1.9-6.5 4.9-9.8 6.4-7.1 5.6-3.6 2.5-2.4 2.3-0.5 1.8-1.7 7.5-3.7 2.8-0.3 5.7-2 10.5-0.9 2.8-0.9 2.9-2.3 4.7-6.5 1.9-1 8.6-0.5 11.3-1.7 4.8-2.4 2.8-0.5 9.5 0.9 8.6 2.2 7.6 4.3 7.6 5 2.8 1.2 5.7 0.9 0.9 0.6 4.8 0.5 9.5 2.5 5.7 0.6 4.7 1 2.9-0.2 5.7 0.7 4.7-1.1 10.4 1.6 13.3-0.1 2.9-0.9 5.7-3.9 1.9-0.7 6.6 0.1 4.8 0.6" class="bl" stroke-opacity="0.75"/>
<path d="M1181.6 643.9l2.3-6.5 4.3-8.3 7.4-8.6 7.3-5.8 2.3-0.6 0.7-0.8 7.7-4.4 3.7-0.6 4.8-1.9 11.4-0.7 2.8-0.9 2.9-2.3 4.7-6.3 1.9-1.2 2.9 0.2 17-2.1 4.8-2.1 2.8-0.6 9.5 1 8.6 2.5 18 10.7 5.7 0.8 16.1 4 9.5 1.6 2.9-0.1 5.7 0.8 4.7-1.2 10.4 1.6 13.3 0.1 2.9-1 2.8-2.2 4.8-2.4 6.6 0.1 4.8 0.8" class="bl" stroke-opacity="0.6"/>
<path d="M1181.6 642.9l1.9-3.4 0.9-0.6 3.8-5.4 0.3 0.1 6.7-5.9 5.9-3.5 1.8-1.7 2.3-0.5 7.4-4.7 4.7-1.1 4.8-2.2 11.4-1.5 3.8-1.7 6.6-8.5 1.9-1.3 2.9 0 17-3.3 7.6-3.2 4.8 0.7 4.7 0 8.6 2.1 7.6 3.9 7.6 5 3.7 1.5 4.8 0.3 0.9 0.6 15.2 3.1 10.5 1.5 7.6 0.4 4.7-1.1 9.5 1.4 14.2 0.2 2.9-1.1 5.7-4.2 1.9-0.5 2.8-0.2 8.6 0.9" class="bl" stroke-opacity="0.55"/>
<path d="M1181.6 641.3l1.9-5.4 4.7-7.6 5.9-5.4 7.7-4.9 3.4-1 3.7-2.5 1.1-0.1 3.6-2 3.7-0.7 4.8-1.5 11.4-0.6 2.8-1 2.9-2.3 4.7-6.3 1.9-1.1 2.9 0.2 17-2.2 4.8-2.6 2.8-0.5 6.7 1 2.8-0.1 8.6 2.4 18 10.5 5.7 0.7 0.9 0.6 4.8 0.7 7.6 2 8.5 1.1 3.8 1 3.8-0.1 4.8 0.7 4.7-1 10.4 1.3 13.3-0.1 2.9-1.1 5.7-3.9 1.9-0.6 6.6 0.1 4.8 0.6" class="bl" stroke-opacity="0.75"/>
<path d="M1181.6 641.6l2.1-5.1 2.6-2.9 1.7-2.7 0.9-0.2 5.9-3.9 5.9-2.8 2.2-1.7 2.3-0.2 0.7-0.8 3.3-1.9 0.8 0.1 2.6-1.9 4.7-0.8 4.8-2 5.7-0.3 5.7-0.9 2.8-1 2.9-2.4 4.7-6.6 1.9-1.2 13.3-1.4 6.6-1.5 4.8-2.3 2.8-0.9 9.5 0.7 8.6 2.1 7.6 4 4.7 3.2 6.6 3.3 4.8 0.2 0.9 0.6 12.4 2.5 12.3 1.8 2.9-0.1 5.7 0.8 5.6-1.2 9.5 1.5 13.3-0.2 2.9-0.9 2.8-2.3 4.8-2.5 6.6 0 4.8 0.6" class="bl" stroke-opacity="0.75"/>
<path d="M1181.6 639.2l1.9-3.9 2.8-2.9 1.9-2.7 7.4-5.2 5.1-2.5 2.2-1.7 2.3-0.3 4-2.7 4.4-2 3.7-0.6 4.8-1.9 9.5-1 4.7-1.3 2.9-2.4 4.7-6.6 1.9-1.1 2.9 0 10.4-1.5 6.6-1.4 4.8-2.4 2.8-0.8 6.7 0.8 2.8-0.1 8.6 2.2 7.6 4.1 7.6 4.8 3.7 1.7 4.8 0.2 13.3 3.2 12.3 2 3.8-0.1 4.8 0.6 4.7-1.1 10.4 1.5 13.3-0.2 2.9-1 2.8-2.3 4.8-2.3 6.6 0 4.8 0.6" class="bl" stroke-opacity="0.75"/>
<path d="M1181.6 626.4l1.7-2.3 0.8-0.5 0.3 0.2 1-1.2 0.5 0.1 2.3-2.7 4.4-1.8 2.2-1.6 5.9-2.1 2.2-1.5 2.3-0.1 0.7-0.8 4.1-1.2 2.6-1.5 4.7-0.4 4.8-1.6 11.4-0.4 2.8-0.8 2.9-2.4 4.7-6.2 1.9-0.9 14.3-1 5.6-1 4.8-2.2 2.8-0.6 9.5 0.8 8.6 2.4 7.6 4.3 4.7 3.4 5.7 2.8 5.7 0.9 13.3 3.4 7.6 0.8 4.7 1.2 8.6 0.5 4.7-1.1 9.5 1.7 3.8-0.4 3.8 0.6 6.6-0.2 2.9-1 5.7-4 1.9-0.6 6.6 0.1 4.8 0.6" class="bl" stroke-opacity="0.55"/>
<path d="M1181.6 624.4l1.9-1.8 0.9 0.1 1-1 0.9-0.1 1.7-1.9 0.7 0.1 6.9-3.3 4.8-1.6 2.9-1.8 1.9 0.2 1.8-1.2 6.6-2.7 3.7 0.1 4.8-1.4 11.4-0.5 2.8-0.7 2.9-2.3 4.7-6.3 1.9-1 2.9 0.1 17-1.9 4.8-2.2 2.8-0.6 9.5 1 8.6 2.2 7.6 4.1 7.6 5.1 3.7 1.7 4.8 0.5 0.9 0.6 7.6 1.2 7.6 2.1 4.8 0.4 4.7 1.1 4.8 0 3.8 0.6 5.6-1.1 9.5 1.5 2.9-0.3 4.7 0.7 5.7-0.4 2.9-1 5.7-4 1.9-0.6 11.4 0.7" class="bl" stroke-opacity="0.6"/>
<path d="M1181.6 618.4l2.3 1.2 0.5 0.8 1-0.3 0.9 0.8 1.9-1 0.3 0.4 3.4-0.2 2.2-0.9 3.3-0.5 5.9-2.3 1.9 0.3 0.7-0.6 3.3-1.3 0.8 0.2 3.6-1.6 3.7 0 4.8-1.2 11.4-0.3 3.8-1.4 1.9-1.7 4.7-6.4 1.9-1 2.9 0.2 11.4-1.2 5.6-1.1 4.8-2.3 2.8-0.5 9.5 1 8.6 2.1 7.6 4.2 4.7 3.3 5.7 2.8 14.2 2.6 4.8 1.5 7.6 0.7 2.8 0.7 10.5 0.8 4.7-0.9 3.8 0.1 6.6 1.2 13.3-0.1 2.9-1 5.7-4 1.9-0.7 11.4 0.6" class="bl" stroke-opacity="0.75"/>
<path d="M1181.6 615.2l2.1-0.2 0.7 0.6 1-0.7 0.5 0.4 2.1-1.6 1.3 0 4.8-2 7-1.7 1.8-1.2 2.3 0.2 4-1.8 0.8 0.3 2.6-1.5 4.7 0.1 5.7-1.1 10.5 0.2 2.8-0.5 2.9-2.2 3.8-5.4 1.9-1.5 18-1.3 2.8-0.6 4.8-2.1 2.8-0.5 9.5 1.1 8.6 2.3 17 10.5 1.9 0.6 1-0.1 17.1 3.9 12.3 2.1 8.6 0.5 4.7-0.8 9.5 1.6 3.8-0.4 4.7 0.7 5.7-0.2 2.9-1 5.7-4.2 1.9-0.5 11.4 0.6" class="bl" stroke-opacity="0.5"/>
<path d="M1181.6 612l0.6 0.5 1.7 0.3 0.5 0.8 1-0.5 0.7 0.6 2.1-1.6 0.3 0.3 3.4-0.9 2.6-1 6.2-1.5 2.2-1.1 2.3 0.2 2.9-1.2 1.9-0.1 2.6-1.4 4.7 0.2 4.8-1.2 5.7 0.6 8.5-0.7 2.9-2.1 4.7-6.2 1.9-1 4.8 0.3 15.1-1.4 4.8-2.1 2.8-0.6 4.8 0.9 4.7 0.1 8.6 2.6 7.6 4.3 7.6 5.2 2.8 1.3 5.7 0.9 16.1 4 4.8 0.3 4.7 1.2 2.9-0.3 5.7 0.7 4.7-0.9 10.4 1.4 13.3 0.2 2.9-0.9 5.7-4.2 1.9-0.6 11.4 0.8" class="bl" stroke-opacity="0.75"/>
<path d="M1181.6 609.1l2.8 4.4 1 0.2 0.9 1.1 1.7-0.5 0.7 0.5 3.2 0.2 8.5-1.5 2.9-1.2 1.9 0.4 0.7-0.6 1.8-0.2 5.9-2 3.7 0 5.7-1.1 4.8 0.4 5.7-0.1 3.8-1.2 1.9-1.8 4.7-6.2 1.9-1 2.9 0.4 17-1.9 4.8-2.3 3.8-0.6 8.5 1.1 8.6 2.4 7.6 3.9 7.6 5.2 3.7 1.6 4.8 0.4 0.9 0.7 4.8 0.6 7.6 2 12.3 1.9 8.6 0.7 5.6-1.2 9.5 1.6 2.9-0.4 4.7 0.6 5.7-0.4 2.9-1.1 5.7-4 1.9-0.7 11.4 0.8" class="bl" stroke-opacity="0.75"/>
<path d="M1181.6 602.7l2.8 5.3 1.5 1.3 2.1 0.1 0.7 0.7 3.2 0.6 8.8-0.4 2.2-0.8 2.3 0.4 4-1.1 0.8 0.3 2.6-1.2 4.7 0.3 4.8-1 11.4 0.7 3.8-1.3 1.9-1.6 4.7-6.1 1.9-0.9 2.9 0.2 10.4-0.8 6.6-1 4.8-2.2 3.8-0.7 8.5 1 8.6 2.5 18 10.4 11.4 2.1 7.6 2 12.3 2 2.9-0.1 5.7 0.7 5.6-1.1 8.6 1.4 14.2 0.1 2.9-1 5.7-4.1 1.9-0.6 11.4 0.6" class="bl" stroke-opacity="0.5"/>
<path d="M1181.6 600.8l2.8 7.7 1.7 2.1 1.9 0.5 0.5 0.7 4.8 0.8 2.3-0.4 2.2 0.3 5.5-1.2 1.9 0.2 8.4-2.2 3.7 0.1 5.7-1 3.8 0.4 6.7-0.1 1.9-0.4 1.9-0.7 6.6-7.8 1.9-1.1 2.9 0.4 9.5-1.3 0.9 0.2 6.6-1.1 4.8-2.1 2.8-0.5 6.7 0.8 2.8-0.1 8.6 2.4 18 10.5 31.3 6.1 2.9-0.2 5.7 0.7 4.7-1.1 9.5 1.4 14.2 0.1 2.9-1.1 5.7-4 1.9-0.6 6.6 0 4.8 0.6" class="bl" stroke-opacity="0.75"/>
<path d="M1181.6 596.7l2.8 6.3 1.5 1.9 6 2.1 2.2-0.3 3.7 0.4 1.1-0.5 1.8 0.1 2.2-0.9 2.3 0.8 0.7-0.6 7.7-1.2 3.7 0.3 5.7-0.7 8.6 1 4.7-0.5 2.9-2.1 4.7-5.8 1.9-0.9 4.8 0.3 8.5-0.4 6.6-0.8 4.8-2 2.8-0.5 9.5 1.1 8.6 2.5 7.6 4.2 7.6 5.1 3.7 1.7 10.5 1.8 9.5 2.6 10.4 1.4 8.6 0.8 4.7-1.1 10.4 1.6 2.9-0.3 4.7 0.6 5.7-0.3 2.9-1.1 5.7-4 1.9-0.7 6.6 0.1 4.8 0.6" class="bl" stroke-opacity="0.6"/>
<path d="M1181.6 595l2.8 6.9 1.7 2.2 5.8 1.6 8.8-0.1 2.2-0.7 2.3 0.6 8.4-1.8 3.7 0.7 4.8-0.7 3.8 0.7 7.6 0.3 3.8-0.8 1.9-1.5 4.7-5.9 1.9-1 13.3 0 6.6-0.9 4.8-2 3.8-0.7 5.7 1.2 2.8 0.1 8.6 2.4 18 10.9 5.7 0.7 16.1 3.9 9.5 1.7 3.8-0.2 4.8 0.7 5.6-0.9 9.5 1.4 2.9-0.2 10.4 0.4 2.9-1.2 5.7-3.9 1.9-0.6 6.6-0.1 4.8 0.7" class="bl" stroke-opacity="0.75"/>
<path d="M1181.6 587.5l2.8 10.8 1.5 2.6 3.4 2.3 2.6 0.8 9.2 0.2 1.8-0.8 2.3 0.7 1.8-0.7 3-0.1 0.7-0.5 2.9-0.4 3.7 0.5 4.8-0.7 5.7 0.9 3.8 0 4.7-0.5 2.9-2.1 4.7-5.8 1.9-0.9 8.6 0.2 5.7-0.5 5.6-0.8 4.8-1.9 2.8-0.6 9.5 1.1 8.6 2.6 7.6 4.3 7.6 5.1 3.7 1.7 1-0.2 3.8 0.7 16.1 4 9.5 1.5 8.6 0.7 4.7-1.1 9.5 1.5 14.2 0.2 2.9-1.2 2.8-2.2 4.8-2.3 11.4 0.7" class="bl" stroke-opacity="0.6"/>
<path d="M1181.6 586.3l2.8 8.4 1.5 2.5 2.1 1 0.5 0.7 3.4 1.4 2.2-0.3 7 0.5 2.2-0.7 1.9 0.7 8.4-1.2 3.7 0.7 4.8-0.5 5.7 1.2 7.6 0.3 1.9-0.5 6.6-7.2 1.9-0.8 2.9 0.4 10.4 0.1 6.6-0.7 4.8-1.8 2.8-0.4 6.7 1.3 2.8 0 8.6 2.7 7.6 4.5 7.6 5.3 2.8 1.3 11.4 2.3 7.6 2.3 7.6 0.9 4.7 1.3 2.9-0.2 5.7 0.9 5.6-1.3 9.5 1.7 13.3 0.2 2.9-1 2.8-2.3 4.8-2.4 11.4 0.8" class="bl" stroke-opacity="0.5"/>
<path d="M1181.6 586.3l2.8 11.1 1.9 3.7 2.2 2.2 3.4 2.2 4.8 0.7 4 0.3 2.6-0.8 1.9 0.7 0.7-0.4 4.1-0.3 3.6-0.9 3.7 0.4 5.7-0.7 4.8 0.9 7.6-0.2 1.9-0.6 1.9-1.5 4.7-6.1 1.9-0.9 2.9 0.4 9.5-1 1.9 0.3 5.6-0.9 4.8-2 3.8-0.7 3.8 0.9 7.6 0.9 5.7 1.7 7.6 4.4 7.6 5.1 2.8 1.3 5.7 0.8 0.9 0.6 4.8 0.7 7.6 2.1 7.6 0.9 4.7 1.1 8.6 0.5 4.7-1.1 9.5 1.7 14.2 0 2.9-1 2.8-2.3 4.8-2.5 11.4 0.7" class="bl" stroke-opacity="0.55"/>
<path d="M1181.6 581.1l2.8 12 1.9 4.2 5.6 4.6 5.9 1.1 5.5-0.4 1.9 0.8 1.8-0.6 2.2-0.2 0.8 0.3 3.6-0.9 3.7 0.9 4.8-0.3 11.4 1.6 3.8-0.8 1.9-1.5 4.7-5.7 1.9-1 8.6 0.4 11.3-0.6 4.8-2 2.8-0.4 9.5 1.1 8.6 2.6 15.2 9.6 3.7 1.7 4.8 0.4 13.3 3.5 7.6 1 4.7 1.1 2.9-0.1 5.7 0.8 4.7-1.2 9.5 1.6 1.9-0.3 6.6 0.5 5.7-0.2 2.9-1 5.7-4 1.9-0.5 11.4 0.4" class="bl" stroke-opacity="0.6"/>
<path d="M1181.6 576.9l1.4 6.3 2.6 7.2 1.8 1.7 4.1 2.3 9.2 1.1 2.6-0.4 1.9 1 0.7-0.4 3.3-0.1 0.8 0.3 3.6-0.5 3.7 1 5.7 0.1 4.8 1.4 7.6 0.7 1.9-0.3 6.6-6.9 1.9-0.8 2.9 0.6 7.6 0.4 9.4-0.3 4.8-1.9 3.8-0.4 5.7 1.4 2.8 0.1 8.6 2.9 18 11.3 5.7 0.9 0.9 0.6 14.3 3.6 10.4 1.8 8.6 0.8 4.7-1 8.5 1.4 15.2 0.5 2.9-1.1 2.8-2.3 4.8-2.4 11.4 0.7" class="bl" stroke-opacity="0.5"/>
<path d="M1181.6 568.5l2.8 14.4 1.5 4.3 2.6 3.7 4.1 3.5 5.2 2.1 3.7 0.6 1.4-0.2 2.3 1.3 4-0.3 1.1 0.5 3.3-0.4 3.7 1.2 5.7 0 4.8 1.4 5.7 0.7 2.8-0.3 2.9-1.9 4.7-5.7 1.9-0.8 2.9 0.5 5.7 0.1 11.3-0.8 4.8-1.9 2.8-0.5 9.5 1.2 8.6 2.6 15.2 9.5 3.7 1.7 10.5 1.9 7.6 2.2 12.3 2.1 8.6 0.6 5.6-1 8.6 1.4 8.5 0.5 5.7-0.2 2.9-1.1 5.7-3.8 1.9-0.7 6.6 0 4.8 0.7" class="bl" stroke-opacity="0.75"/>
<path d="M1181.6 566.4l2.8 16.5 1.7 5 2.4 3.8 3 3 2.2 1.3 6.3 2.2 3.3 0.1 1.9 1.1 7.4-0.2 4.7 1.4 4.8 0.2 5.7 1.7 5.7 1 3.8-0.6 1.9-1.5 4.7-5.5 1-0.5 9.5 0.7 11.3-0.3 4.8-1.9 2.8-0.5 6.7 1.6 2.8 0 2.9 0.7 5.7 1.9 12.3 8 6.6 3.5 10.5 1.9 7.6 2.2 12.3 2 2.9-0.1 5.7 0.7 4.7-1 8.5 1.3 9.5 0.5 5.7-0.3 2.9-1 3.8-2.9 3.8-1.6 6.6-0.2 4.8 0.8" class="bl" stroke-opacity="0.55"/>
<path d="M1181.6 563.2l2.8 22 1.9 7 2.2 4.5 3 3.7 6.3 3.2 3.3 0.5 1.8-0.2 2.3 0.9 0.7-0.4 4.1 0.3 2.6-0.7 4.7 0.8 4.8-0.4 5.7 1.1 5.7 0.2 3.8-1 6.6-7.6 1-0.5 14.2-0.8 6.6-1 7.6-2.6 9.5 1 8.6 2.4 12.3 7.6 6.6 3.3 4.8 0.6 13.3 3.3 7.6 1 4.7 1.1 8.6 0.5 4.7-0.9 9.5 1.3 12.3 0.1 2.9-0.3 1.9-0.7 5.7-4 1.9-0.5 6.6-0.1 4.8 0.8" class="bl" stroke-opacity="0.55"/>
<path d="M1181.6 561.7l2.8 13 1.5 3.7 3.4 4.3 2.6 2.1 5.9 3.2 5.5 1.4 1.9 1.4 1.8 0 3 1 2.6-0.1 4.7 1.7 4.8 0.6 9.5 3 1.9 0.4 3.8-0.2 1.9-1.4 4.7-5.4 1.9-0.7 2.9 0.9 3.8-0.2 7.6 0.6 5.6-0.3 4.8-1.7 2.8-0.5 9.5 1.6 8.6 2.8 15.2 9.8 3.7 1.8 4.8 0.6 0.9 0.6 15.2 3.5 9.5 1.7 8.6 0.7 4.7-1 9.5 1.6 14.2 0.1 2.9-1 2.8-2.2 4.8-2.3 5.7 0 5.7 0.7" class="bl" stroke-opacity="0.55"/>
<path d="M1181.6 620.1l2.1-0.6 0.7 0.4 1-0.7 0.5 0.3 2.3-1.8 3.7-0.8 3.7-1.7 5.1-1.5 2.2-1.3 2.3 0.1 0.7-0.6 3.3-1.3 0.8 0.1 2.6-1.4 4.7-0.2 4.8-1.3 11.4-0.2 2.8-0.7 2.9-2.3 4.7-6.1 1.9-1.1 2.9 0.2 17-1.9 4.8-2.2 2.8-0.6 9.5 0.9 8.6 2.4 18 10.5 5.7 0.8 13.3 3.3 12.3 2 8.6 0.6 4.7-1 9.5 1.4 14.2 0.1 2.9-1 5.7-4 1.9-0.6 6.6 0 4.8 0.6" class="or"/>
</g>
<rect x="1171.1" y="549.9" width="239.5" height="135.6" class="sp"/>
<path d="M1181.7 685.5v14M1290.6 685.5v14M1399.6 685.5v14M1171.1 590.9h-15M1171.1 649.8h-15" class="tk"/>
<text transform="translate(266.4,780.7) rotate(-90)" text-anchor="middle" class="lab">Profile 53</text>
<text transform="translate(295.5,780.7) rotate(-90)" text-anchor="middle" class="lab">Temp. /°C</text>
<text x="357" y="755.2" text-anchor="end" class="lab">100</text>
<text x="357" y="810.1" text-anchor="end" class="lab">0</text>
<path d="M391.6 712.9V848.5M446.1 712.9V848.5M500.6 712.9V848.5M555.0 712.9V848.5M609.5 712.9V848.5M381.0 745.9H620.5M381.0 800.8H620.5" class="grid"/>
<clipPath id="cp30"><rect x="381.0" y="712.9" width="239.5" height="135.6"/></clipPath>
<g clip-path="url(#cp30)">
<path d="M391.6 718.7l5.5 10.9 0.7 0.3 3.2 5.4 0.9 0.2 1.6 3.3 1.3 0.9 4.4 4.9 7.1 5.5 8.2 5.6 3.1 1.5 5.1 1.4 4.1 2 4.1 0.7 9.2 2.9 4.1 1.9 7.1 1.9 2.1-0.2 10.2 0.7 3-0.4 6.2 1.1 7.1 0.1 9.2 1.1 4.1-0.5 7.2-2.4 2 0.5 8.2 0.1 6.1 1 7.2 0.4 28.6-0.3 2-0.1 5.1-2.4 3.1-0.6 5.1 1 14.3 0.9 2.1 0.5 4.1-0.4 11.2 0.2" class="bl" stroke-opacity="0.75"/>
<path d="M391.6 720.7l3.1 3.9 1.6 3.1 1.5 1.1 3.2 4.5 0.9 0.3 2 3.5 1.3 0.6 0.9 1.3 6.2 5.4 9.2 6.2 7.1 3.9 8.2 3.1 13.3 4 4.1 2.1 7.1 2 9.2 0.8 6.1-0.2 5.2 1 17.3 1.6 6.2-0.9 5.1-1.8 23.5 2.2 28.6 0.1 2-0.2 5.1-2.5 3.1-0.8 12.3 2 5.1 0.1 4.1 0.6 5.1-0.5 10.2 0.2" class="bl" stroke-opacity="0.75"/>
<path d="M391.6 723.4l2.7 2.9 0.4-0.2 0.9 1.7 2.2 1.8 3.2 3.8 0.9 0 2.4 3.6 0.9 0 7.1 6 12.2 7.8 4.1 1.8 4.1 1.2 4.1 2.2 12.2 3.5 6.2 2.8 6.1 2 12.3 1.2 3-0.3 5.2 1 17.3 1.8 4.1-0.2 7.2-2.2 2 0.6 5.1 0 10.2 1.3 12.3 0.7 22.5-0.1 3.1-0.5 4-2.1 3.1-0.7 12.3 2 5.1 0 4.1 0.7 4.1-0.5 6.1 0.4 5.1-0.2" class="bl" stroke-opacity="0.5"/>
<path d="M391.6 726.8l4.7 6.3 1.5 0.8 3.2 3.8 0.9 0 1.6 2.7 1.7 0.6 0.9 1.1 6.2 4.1 12.2 7 8.2 2.7 4.1 1.9 4.1 0.7 8.1 2.5 6.2 2.8 6.1 1.6 2.1-0.1 10.2 1.3 3-0.4 5.2 1 17.3 1.9 4.1-0.4 7.2-2.2 20.4 2.1 31.7 0.3 2-0.2 3.1-1.5 5.1-1.5 5.1 1 2.1-0.2 6.1 1.1 4.1 0 4.1 0.7 5.1-0.5 10.2 0.2" class="bl" stroke-opacity="0.6"/>
<path d="M391.6 728.7l2.4 2.2 0.7 0.1 0.9 1.5 1.5 1.5 0.9 0.3 3 3.4 0.9 0 1.6 2.7 1.7 0.6 5 4.2 14.3 8.1 12.3 4.4 4.1 0.7 8.1 2.4 6.2 2.6 6.1 1.6 2.1-0.1 10.2 1.1 5.1-0.3 3.1 0.8 8.1 0.4 5.1 0.9 3.1-0.2 1 0.4 6.2-0.8 5.1-1.8 13.3 1 4 0.9 33.8 0.7 3-0.3 5.1-2.4 3.1-0.8 5.1 1.1 2.1-0.2 7.1 1.2 5.1 0 2.1 0.5 4.1-0.5 6.1 0.5 5.1-0.1" class="bl" stroke-opacity="0.55"/>
<path d="M391.6 732.7l1.9 2.3 1.2 0.6 1.6 2.5 1.5 0.4 3.2 3.5 0.9-0.3 2 2.9 1.3 0.2 5 3.5 14.3 7.1 8.2 2.2 4.1 1.7 4.1 0.5 4.1 1.5 5.1 1 4.1 1.9 7.1 2 2.1-0.2 11.2 1 2-0.3 5.2 1 8.1 0.2 3.1 0.7 6.1 0.5 4.1-0.3 7.2-2.5 5.1 0.9 5.1 0 8.2 1.1 11.2 0.6 24.5-0.3 5.1-2.4 3.1-0.8 12.3 1.9 5.1 0.1 4.1 0.7 5.1-0.5 5.1 0.4 5.1-0.2" class="bl" stroke-opacity="0.5"/>
<path d="M391.6 735.7l0.8 0.3 1.3 1.8 1 0 2 2.4 1.1 0.2 3.2 3.3 0.9-0.3 2 2.8 1.3 0.1 5 3.5 11.3 5.2 7.1 2.7 4.1 0.6 4.1 1.6 4.1 0.5 4.1 1.3 4 0.7 6.2 2.6 6.1 1.3 9.2 0.6 6.1-0.4 5.2 0.9 17.3 1.4 4.1-0.3 7.2-2.4 5.1 0.9 8.2 0.2 7.1 0.9 31.7 0.3 2-0.1 5.1-2.4 3.1-0.8 12.3 1.9 5.1 0 4.1 0.7 4.1-0.4 8.1 0.4 3.1-0.3" class="bl" stroke-opacity="0.55"/>
<path d="M391.6 739.4l1.2 1.8 1.9 1.2 0.9 1.7 1.5 1.3 0.7-0.2 0.8 1.2 2.4 2 0.9-0.3 1.6 2.4 1.7 0.4 8.1 4.6 11.2 4.4 8.2 1.6 4.1 1.5 4.1 0.1 8.1 1.8 6.2 2.1 6.1 1.3 2.1-0.3 4 0.6 6.2 0 5.1-0.4 20.4 2 4.1-0.7 7.2-2.2 5.1 0.6 8.2 0.1 5.1 0.8 33.7 0.3 2-0.2 5.1-2.4 3.1-0.8 13.3 1.9 7.1 0.5 16.4-0.2" class="bl" stroke-opacity="0.55"/>
<path d="M391.6 743.7l4.7 4.6 0.8 0.5 0.7-0.3 3.2 2.5 0.9-0.5 2.4 2.3 0.9-0.2 7.1 2.9 16.3 4.7 4.1 0.3 4.1 1.3 4.1 0.3 4.1 1.1 4 0.5 6.2 2.4 6.1 1.4 2.1-0.3 12.2 0.6 1-0.3 5.2 0.8 8.1 0.3 9.2 1.2 6.2-1 2-1 3.1-0.8 2 0.5 11.3 0.5 4 0.8 12.3 0.7 22.5-0.2 2-0.1 5.1-2.3 3.1-0.8 5.1 1 12.3 0.9 3 0.6 16.4-0.3" class="bl" stroke-opacity="0.6"/>
<path d="M391.6 746.5l2.6 1.4 0.5-0.2 2.4 2 0.7-0.3 0.8 0.9 2.4 1.4 0.9-0.4 1.6 2.1 0.8 0.3 0.9-0.4 5 2.6 11.3 3.5 7.1 1.7 4.1 0.3 4.1 1.4 4.1 0 8.1 1.4 5.2 1.9 7.1 1.4 12.3 0.1 3-0.5 5.2 0.9 8.1 0 9.2 1.2 4.1-0.5 7.2-2.4 23.5 1.9 28.6 0.1 2-0.3 8.2-3.1 12.3 1.8 9.2 0.8 4.1-0.5 6.1 0.4 5.1-0.2" class="bl" stroke-opacity="0.6"/>
<path d="M391.6 750.7l4.7 3.7 1.5 0.1 3.2 2.2 0.9-0.6 2.4 2.3 0.9-0.3 5 1.7 5.1 0.9 9.2 2.6 8.2 0.6 4.1 1.1 4.1-0.1 8.1 1.2 5.2 1.8 7.1 1.3 17.4-0.3 3.1 0.6 17.3 0.9 4.1-0.4 7.2-2.5 5.1 0.8 2-0.4 6.2 0.5 7.1 0.9 15.3 0.3 3.1-0.5 8.2 0.4 7.1-0.4 5.1-2.3 3.1-0.8 12.3 1.8 5.1 0.1 4.1 0.7 5.1-0.5 5.1 0.4 5.1-0.4" class="bl" stroke-opacity="0.75"/>
<path d="M391.6 756.9l2.6 1.3 0.5-0.5 2.2 1.6 1.1-0.5 3 1.9 0.9-0.7 1.6 1.6 1.7-0.4 0.9 0.7 4.1 0.8 5.1 0.6 9.2 1.8 9.2 0.4 5.1 0.8 2.1-0.3 8.1 1 12.3 2.7 12.3-0.3 3-0.6 22.5 1.5 4.1-0.5 7.2-2.6 23.5 1.8 24.5 0 6.1-0.3 6.2-2.6 3-0.5 11.3 1.8 7.1 0.3 2.1 0.4 4.1-0.5 6.1 0.5 5.1-0.3" class="bl" stroke-opacity="0.6"/>
<path d="M391.6 762.4l2.1 1 1-0.3 2.4 1.1 0.7-0.5 3.2 1.1 0.9-0.9 1.6 1.6 1.7-0.7 5 1 5.1-0.1 12.3 1.1 4.1-0.4 5.1 0.8 5.1-0.3 3.1 0.6 5.1 0.2 4.1 1.4 7.1 1 14.3-0.6 1-0.4 5.2 0.6 8.1-0.1 9.2 0.9 4.1-0.5 7.2-2.6 23.5 1.9 28.6-0.2 2-0.2 5.1-2.4 3.1-0.8 12.3 1.9 8.1 0.6 16.4-0.2" class="bl" stroke-opacity="0.5"/>
<path d="M391.6 778.9l2.1-0.3 1-0.7 1.6 0.3 1.7-1 3-0.1 0.9-0.9 1.6 0.9 1.7-1.3 0.6 0.3 9.5-2.2 12.3-1.2 4.1-1 5.1-0.1 7.1-1 6.2 0.1 4.1 1.1 7.1 0.5 2.1-0.6 10.2-0.5 4.1-0.9 4.1 0.6 8.1-0.3 9.2 0.7 4.1-0.8 7.2-2.5 13.3 0.4 7.1 1 31.7-0.2 2-0.3 5.1-2.4 3.1-0.7 9.2 1.4 10.2 0.5 2.1 0.5 5.1-0.4 10.2 0.2" class="bl" stroke-opacity="0.6"/>
<path d="M391.6 782.8l0.8-0.5 0.4 0.3 1.9-1.6 2.2-0.2 0.9-1 2.2-0.6 1 0.3 0.9-1.3 1.6 0.6 1.7-1.2 5-1 5.1-1.7 13.3-1.8 4.1-1.2 4.1 0.1 5.1-0.9 8.2-0.3 5.1 1 6.1 0.4 17.4-1.9 3.1 0.4 8.1-0.4 9.2 0.6 4.1-0.6 7.2-2.8 5.1 0.8 8.2-0.1 7.1 0.8 33.7-0.3 3.1-1.6 5.1-1.6 21.5 2.4 4.1-0.6 11.2 0.3" class="bl" stroke-opacity="0.55"/>
<path d="M391.6 786.8l0.7-0.7 0.5 0.2 1.9-1.9 0.4 0.3 1.8-0.9 0.9-1.1 3.2-0.8 0.9-1.6 1.6 0.8 1.7-1.6 4-1 6.1-2.5 13.3-2.7 3.1-1 4.1-0.1 5.1-1.1 9.2-0.4 4.1 1 7.1 0.3 14.3-1.4 1-0.5 5.2 0.3 8.1-0.2 9.2 0.5 4.1-0.6 7.2-2.5 5.1 0.4 2-0.4 11.3 1.2 11.2 0.3 21.5-0.4 3-0.2 5.1-2.3 3.1-0.8 13.3 2 4.1 0 4.1 0.6 5.1-0.6 10.2 0.2" class="bl" stroke-opacity="0.5"/>
<path d="M391.6 791.3l0.3-0.4 0.9 0.2 0.9-0.4 1-1.2 0.4 0.3 1.8-0.7 0.9-1.4 3.2-1.2 0.9-1.4 1.6 0.4 1.7-1.8 0.9 0 9.2-4.2 7.2-2.3 6.1-1.2 4.1-1.6 4.1-0.2 4.1-1.2 9.2-0.5 11.2 1 4.1-0.8 8.2-0.6 3-0.8 22.5 0.4 6.2-1.2 5.1-2.1 29.6 1.7 2-0.5 4.1 0.3 3.1-0.4 13.3 0.1 2-0.1 5.1-2.5 3.1-0.8 13.3 1.9 4.1-0.1 4.1 0.7 5.1-0.5 10.2 0.1" class="bl" stroke-opacity="0.6"/>
<path d="M391.6 795.6l2.1-1.2 1-1.4 0.9 0 2.2-2.5 3.2-1.5 0.9-1.5 0.7-0.3 0.9 0.3 1.7-1.7 10.1-5.4 17.4-5.7 4.1-0.1 5.1-1.6 8.2-0.7 5.1 0.9 6.1 0.1 2.1-0.6 15.3-1.6 3.1 0.4 8.1-0.3 9.2 0.4 6.2-1.2 5.1-2.3 5.1 0.7 2-0.2 10.2 0.9 12.3 0.4 22.5-0.5 2-0.2 5.1-2.3 3.1-0.9 5.1 1 16.4 1.5 4.1-0.5 6.1 0.5 5.1-0.4" class="bl" stroke-opacity="0.75"/>
<path d="M391.6 799.5l2.6-1.3 0.5-0.8 1.5-0.3 1.6-2.1 3.2-1.4 0.9-1.5 1.6 0.1 1.7-1.9 10.1-5.7 17.4-6.6 4.1-0.6 5.1-1.7 8.2-1.1 4.1 0.7 7.1-0.2 5.1-1.1 7.2-0.7 3-1 5.2 0.4 8.1-0.6 9.2 0.3 6.2-1.4 5.1-2.1 29.6 1.2 9.2-0.5 13.3 0 3.1-0.6 4-2 3.1-0.9 5.1 1.1 16.4 1.4 5.1-0.4 7.1 0.4 3.1-0.3" class="bl" stroke-opacity="0.6"/>
<path d="M391.6 803.2l3.1-4.7 1.6-1.3 1.7-2.7 3-2.1 0.9-1.9 1.6-0.2 1.7-2.1 10.1-6.8 17.4-6.9 4.1-0.4 4.1-1.5 8.1-0.9 5.2 0.7 7.1 0.1 2.1-0.6 10.2-0.9 5.1-0.9 3.1 0.6 8.1-0.4 5.1 0.3 3.1-0.3 1 0.4 4.1-0.6 7.2-2.6 13.3 0.5 4 0.7 6.2 0.3 28.6-0.4 3.1-0.5 4-1.9 3.1-0.9 5.1 1 2.1-0.1 14.3 1.7 4.1-0.5 8.1 0.4 3.1-0.2" class="bl" stroke-opacity="0.55"/>
<path d="M391.6 807.4l2.1-2.1 1-1.9 0.4 0.1 2-1.8 0.9-1.8 3-2.3 0.9-1.9 1.6-0.2 1.7-2.4 0.9-0.2 2.1-2 7.1-5 17.4-8.1 4.1-0.7 4.1-1.7 8.1-1.2 12.3 0.1 12.3-1.7 3-1 22.5 0 4.1-0.6 7.2-2.7 29.6 1.5 2-0.4 20.5-0.2 3.1-0.6 4-2 3.1-0.8 5.1 1.1 8.2 0.8 4.1-0.1 4.1 0.7 15.3-0.4" class="bl" stroke-opacity="0.6"/>
<path d="M391.6 811.6l3.1-5.1 2-1.9 1.1-2.2 3.2-3 0.9-2 0.7-0.6 0.9 0.1 1.7-2.5 10.1-8.3 16.4-8.2 9.2-2.9 8.1-1.4 12.3 0.3 5.1-1.1 7.2-0.8 3-0.9 5.2 0.4 8.1-0.5 9.2 0.3 4.1-0.7 7.2-2.7 29.6 1.6 3.1-0.4 19.4-0.1 3.1-0.6 4-2.1 3.1-0.8 5.1 1.1 16.4 1.5 4.1-0.4 6.1 0.4 5.1-0.4" class="bl" stroke-opacity="0.6"/>
<path d="M391.6 815.3l2.1-2.5 1-2 1.6-1.2 1.5-2.5 3.2-2.5 0.9-1.8 2-0.7 1.3-2 10.1-8.1 17.4-9.3 4.1-1.2 4.1-1.8 8.1-1.9 12.3-0.6 5.1-1.5 7.2-1.1 5.1-1.3 20.4-0.6 4.1-0.8 7.2-2.8 13.3 0.1 16.3 0.7 9.2-0.7 13.3 0.1 2-0.3 5.1-2.5 3.1-0.8 5.1 0.9 7.2 0.8 5.1 0 4.1 0.8 5.1-0.7 7.1 0.5 3.1-0.3" class="bl" stroke-opacity="0.75"/>
<path d="M391.6 819.1l3.1-4.2 1.6-1.4 1.5-2.5 3.2-3 0.9-1.8 0.7-0.6 0.9 0 1.7-2.5 10.1-8.9 7.2-4.7 10.2-5.7 11.2-4.2 6.2-1.3 5.1 0.1 6.1-0.8 17.4-3.8 3.1 0.2 10.2-1 7.1 0.1 4.1-0.8 7.2-2.9 7.1-0.1 16.4 0.8 28.6-0.6 2-0.2 5.1-2.4 3.1-0.8 12.3 1.7 7.1 0.2 2.1 0.5 4.1-0.5 6.1 0.4 5.1-0.2" class="bl" stroke-opacity="0.75"/>
<path d="M391.6 821.5l3.1-4.8 2.2-2.2 0.9-2 3.2-2.9 0.9-2.1 2-0.9 0.9-1.7 10.5-9.6 4.1-3 13.3-7.7 4.1-1.3 3.1-1.7 6.1-1.9 4.1-0.9 4.1 0 7.1-0.9 5.1-1.5 7.2-1.2 3-1.1 5.2 0 8.1-1 9.2 0 4.1-0.8 7.2-3 13.3 0.1 13.2 0.7 12.3-0.7 13.3-0.1 2-0.2 5.1-2.4 3.1-0.9 13.3 1.9 4.1-0.2 4.1 0.7 4.1-0.5 11.2 0.1" class="bl" stroke-opacity="0.55"/>
<path d="M391.6 823.8l3.1-5.3 0.4 0 2.7-4.4 3.2-3.3 0.9-2.3 1.6-0.5 1.7-2.7 10.1-9.9 7.2-5.1 10.2-6.1 4.1-1.4 7.1-3.2 6.2-1.5 4.1 0.1 7.1-0.7 2.1-0.9 10.2-1.9 3-1.1 5.2 0 8.1-0.8 9.2 0 4.1-0.9 7.2-2.9 2 0.4 11.3-0.3 5.1 0.7 33.7-0.6 2-0.2 6.2-2.9 2-0.4 12.3 1.9 5.1 0 4.1 0.6 5.1-0.4 10.2 0" class="bl" stroke-opacity="0.6"/>
<path d="M391.6 825.4l3.1-5.4 2.4-3.1 0.7-1.9 3.2-3.3 0.9-2.2 1.6-0.8 1.7-2.8 3-3.3 10.2-9.5 14.3-8.9 4.1-1.4 4.1-2.1 8.1-2.4 12.3-0.9 2.1-0.9 7.1-1.2 6.1-1.7 5.2 0 8.1-0.9 3.1 0.3 5.1-0.6 1 0.2 4.1-0.6 4.1-2.1 3.1-0.9 2 0.4 11.3-0.3 3 0.5 13.3 0.3 9.2-0.7 13.3 0 2-0.1 5.1-2.6 3.1-0.8 5.1 1.1 2.1-0.2 5.1 1 5.1-0.2 4.1 0.8 4.1-0.5 6.1 0.4 5.1-0.3" class="bl" stroke-opacity="0.75"/>
<path d="M391.6 817l3.1-4.7 2.2-2.1 0.9-1.7 3.2-2.8 0.9-1.9 1.6-0.4 1.7-2.5 10.1-8.2 17.4-9.8 4.1-1.1 3.1-1.6 9.1-2.4 12.3-0.6 2.1-0.8 12.2-2.3 1-0.6 21.5-1.1 1 0.3 4.1-0.8 6.1-2.8 2.1-0.2 12.3 0.1 4 0.6 6.2 0.2 10.2-0.1 5.1-0.6 13.3 0.1 2-0.3 5.1-2.4 3.1-0.8 5.1 0.9 16.4 1.4 4.1-0.5 6.1 0.5 5.1-0.4" class="bl" stroke-opacity="0.5"/>
<path d="M391.6 772.1l2.1 0.2 1-0.6 0.9 0.5 1.5-0.1 0.7-0.7 3.2 0.4 0.9-1 1.6 1.1 1.7-0.9 5 0 5.1-0.9 9.2 0 8.2-1 4.1 0.4 4.1-0.6 9.2 0.3 4.1 1.1 7.1 0.8 2.1-0.5 10.2-0.3 3-0.6 22.5 1 4.1-0.5 7.2-2.6 5.1 0.6 8.2 0.1 4 0.6 12.3 0.5 22.5-0.4 2-0.1 5.1-2.4 3.1-0.8 5.1 1 16.4 1.5 5.1-0.5 10.2 0.2" class="or"/>
</g>
<rect x="381.0" y="712.9" width="239.5" height="135.6" class="sp"/>
<path d="M391.6 848.5v14M446.1 848.5v14M500.6 848.5v14M555.0 848.5v14M609.5 848.5v14M381.0 745.9h-15M381.0 800.8h-15" class="tk"/>
<path d="M655.0 712.9V848.5M763.9 712.9V848.5M872.9 712.9V848.5M644.4 745.9H883.9M644.4 800.8H883.9" class="grid"/>
<clipPath id="cp31"><rect x="644.4" y="712.9" width="239.5" height="135.6"/></clipPath>
<g clip-path="url(#cp31)">
<path d="M655 735.9l1.6 11.7 3.4 11.9 2.2 3.5 3 3.2 5.1 2.8 1.5 0.1 0.8 0.6 1.1 0.2 0.7-0.5 5.5 1.5 7.9 0.1 3.8 1.4 6.6 1 5.7 1.4 4.8-0.1 11.4 4.3 5.7 0 5.7-1 10.4-0.4 9.5 1.1 4.7-0.4 8.6 1 6.6 0.2 6.7 1.8 5.6 0.6 2.9-0.5 4.7 0.4 3.8-1.2 15.2-2.3 11.4 1.3 4.8-0.3 3.7 0.8 12.4 0.8 6.6-0.1 1.9 0.4 4.8-0.7 5.7 0.9 11.3 0.2" class="bl" stroke-opacity="0.5"/>
<path d="M655 841.7l3.5-21.9 2.4-8.1 3.2-7.4 3.7-5.7 3.6-4.2 1.2-0.7 1.8-2.4 5.5-3.3 1.9-1.7 6-3.3 7.6-1.1 2.8-1 5.7-0.1 4.8-0.9 11.4 2.5 5.7-0.4 7.6-1.9 8.5-0.5 9.5 0.7 4.7-0.6 8.6 1.1 7.6 0.2 5.7 1.3 5.6 0.7 7.6-0.2 3.8-1.3 15.2-2.2 5.7 0.6 1-0.2 4.7 0.8 2.9-0.5 4.7 0.8 13.3 0.8 8.5 0.3 4.8-0.5 5.7 0.7 11.3 0.2" class="bl" stroke-opacity="0.6"/>
<path d="M655 840.3l2-16.2 1.5-8 3.2-10.1 2.4-5 4.4-6.4 5.9-6.4 5.5-3.3 2.6-2.2 5.3-2.8 10.4-1.8 5.7 0.1 3.8-0.8 1.9-0.1 11.4 2.6 5.7-0.4 4.8-1.4 5.6-0.4 4.8-0.2 11.4 0.8 2.8-0.6 8.6 1.1 7.6 0.3 4.7 1.4 2.9 0 3.7 0.8 2.9-0.4 4.7 0.1 12.4-2.7 6.6-0.7 11.4 1.1 2.9-0.2 14.2 1.6 4.7-0.2 7.6 0.8 4.8-0.8 5.7 0.9 11.3 0.2" class="bl" stroke-opacity="0.5"/>
<path d="M655 837.4l2-16.7 1.5-7.6 2.4-6.9 2.4-4.6 4.8-5.7 6.3-5.6 7.4-4.7 6-3.2 10.4-2 5.7-0.3 4.8-1 11.4 2.4 6.6-0.7 4.8-1.4 10.4-1 4.7 0.6 13.3-0.2 4.8 0.7 7.6 0.2 5.7 1.5 5.6 0.8 2.9-0.6 4.7 0.2 3.8-1.1 15.2-2.3 11.4 1.3 4.8-0.4 12.3 1.3 10.4 0 1.9 0.7 4.8-0.6 5.7 0.7 11.3 0.1" class="bl" stroke-opacity="0.55"/>
<path d="M655 836.8l2.2-13.1 2-8.2 4.9-10.9 4.4-6.2 4.1-3.9 1.8-2.5 9.6-6.8 2.9-1.6 3.7-1.3 7.6-1.8 5.7-0.4 3.8-0.9 4.8 0.4 7.6 1.7 5.7-0.6 5.7-1.5 10.4-1 8.5 0.8 4.8-0.2 0.9-0.4 7.6 1 9.5 0.3 4.8 1.3 5.6 0.8 7.6-0.3 3.8-1.2 15.2-2.4 11.4 1.4 2.9-0.3 14.2 1.3 10.4 0.2 1.9 0.5 4.8-0.6 5.7 0.7 11.3 0.2" class="bl" stroke-opacity="0.5"/>
<path d="M655 835.6l3.5-20.3 3.2-9.7 2.4-4.9 4.4-6.3 2.9-3 1.2-0.5 1.8-2.6 13.4-7.7 10.4-1.8 5.7-0.3 3.8-0.9 4.8 0.7 7.6 2.1 6.6-0.7 4.8-1.4 10.4-0.6 9.5 0.6 4.7-0.5 11.4 1.4 3.8-0.2 12.3 2.4 7.6-0.3 12.4-2.6 6.6-0.7 11.4 1.2 2.9-0.3 16.1 1.4 8.5 0.1 1.9 0.4 5.7-0.6 5.7 1 10.4 0.1" class="bl" stroke-opacity="0.5"/>
<path d="M655 830.9l2.7-18.3 1.5-4.8 2.6-4.6 2.3-2.9 3.3-2.9 5.2-3.4 1.8-1.9 13.4-7 10.4-2 5.7-0.3 4.8-1.1 11.4 2.2 5.7-0.7 7.6-2 8.5-0.8 11.4 0.5 2.8-0.6 8.6 0.8 7.6 0.1 11.3 2.2 7.6-0.5 9.5-2.2 9.5-1.3 11.4 1.1 1.9-0.4 15.2 1.3 10.4 0 1.9 0.7 2.9-0.1 1.9-0.7 5.7 0.9 11.3 0.1" class="bl" stroke-opacity="0.5"/>
<path d="M655 815.8l3.5-12 5.6-8.6 7.3-6.3 1.2-0.2 1.8-2 8.1-4 5.3-2.2 1.9-0.3 9.5-0.9 4.7 0.3 4.8-0.9 11.4 3 5.7-0.5 5.7-1.4 10.4-0.8 4.7 0.6 9.5-0.2 17.1 1.2 4.8 1.4 5.6 0.7 7.6-0.2 3.8-1.3 15.2-2.3 4.8 0.6 1.9-0.2 4.7 0.8 4.8-0.3 3.7 0.7 19 0.7 1.9 0.5 5.7-0.6 5.7 0.8 10.4 0.1" class="bl" stroke-opacity="0.55"/>
<path d="M655 814.2l2-9.6 1.5-4.4 3.2-4.6 2-2 7.7-5.5 1.2-0.3 1.8-1.7 4.8-1.9 4.8-2.7 6.6-1.8 7.6-0.9 5.7-0.1 4.8-0.8 11.4 2.7 1.9-0.1 9.5-1.9 10.4-0.9 4.7 0.8 9.5-0.5 9.5 1 7.6 0.2 4.8 1.4 5.6 0.8 7.6-0.3 14.3-2.9 7.6-0.5 8.5 1.2 4.8-0.3 1.8 0.6 20.9 0.9 1.9 0.5 2.9 0 1.9-0.6 5.7 0.9 11.3 0.1" class="bl" stroke-opacity="0.6"/>
<path d="M655 809.5l2.2-7.2 1.3-2.8 5.6-6.1 7.3-5.4 1.2-0.1 1.8-2 5.5-2.1 1.9-1.4 1.5-0.2 4.5-2.3 10.4-1.2 5.7 0 3.8-0.7 7.6 1.3 4.8 1.3 6.6-0.5 4.8-1.4 10.4-0.7 8.5 0.7 5.7-0.4 8.6 0.9 6.6 0 12.3 2.6 2.9-0.5 3.8 0.2 10.4-2.2 9.5-1.3 6.7 0.4 4.7 0.9 4.8-0.3 3.7 0.8 11.4 0.3 4.8 0.5 2.8-0.3 4.8 0.5 1.9-0.5 5.7 0.8 11.3 0.2" class="bl" stroke-opacity="0.75"/>
<path d="M655 797.6l1.1-0.6 1.1-2 2-2.3 0.8 0.2 4.1-3.4 7-3.5 1.5-0.4 1.8-1.6 4.1-1 3.3-1.6 6-1.9 10.4-0.8 4.8 0.4 5.7-0.7 4.7 1.3 2.9 0.3 3.8 1.3 5.7-0.4 5.7-1.5 3.7-0.4 6.7-0.4 11.4 0.8 2.8-0.5 8.6 1 8.5 0.3 3.8 1.1 6.6 1.2 2.9-0.6 3.8 0.4 13.3-3 6.6-0.7 28.5 2.2 10.4 0.1 1.9 0.5 2.9-0.1 1.9-0.6 5.7 1 6.6-0.3 4.7 0.4" class="bl" stroke-opacity="0.75"/>
<path d="M655 797.2l1.1-0.7 2.4-3.4 1.7-0.7 0.7-1.1 3.2-2 8.5-3.7 1.8-1.5 4.1-0.8 9.3-3.6 10.4-0.5 4.8 0.2 5.7-0.7 11.4 2.9 6.6-0.5 7.6-1.6 7.6-0.5 4.7 0.6 13.3-0.1 5.7 0.9 7.6 0.2 4.8 1.4 5.6 0.7 2.9-0.4 4.7 0.1 5.7-1.5 13.3-2 11.4 1.2 4.8-0.4 4.7 0.8 18 0.7 1.9 0.6 4.8-0.8 5.7 0.8 11.3 0.1" class="bl" stroke-opacity="0.6"/>
<path d="M655 785.4l1.1 0.8 3.1-1.7 0.8 0.5 4.1-2.1 8.5-2.6 1.8-1.4 4.1-0.6 9.3-2.7 5.7 0.3 4.7-0.4 4.8 0.6 5.7-0.5 11.4 3.3 5.7-0.2 8.5-1.5 7.6-0.4 4.7 0.7 6.7 0.2 2.8-0.5 9.5 1.2 7.6 0.3 4.8 1.5 5.6 0.8 2.9-0.4 4.7 0.1 5.7-1.5 13.3-1.9 11.4 1.3 2.9-0.6 5.6 1.1 8.6 0.6 12.3 0.5 4.8-0.5 5.7 0.9 6.6-0.2 4.7 0.3" class="bl" stroke-opacity="0.5"/>
<path d="M655 777.9l1.1 2.6 2.4 1.1 1.5 1.3 0.9-0.3 1.3 0.4 1.9-0.7 1.4 0.4 3-1.1 1.5 0 1.4-0.9 1.2 0.3 1.8-1.4 5.5-0.6 2.6-1.2 5.3-1.1 3.8 0.4 6.6-0.3 4.8 0.6 6.6-0.3 10.5 3.3 6.6-0.3 4.8-1.5 10.4-0.4 9.5 0.9 4.7-0.5 8.6 1.1 7.6 0.1 5.7 1.7 5.6 0.6 2.9-0.4 4.7 0.2 9.5-2.2 9.5-1.3 11.4 1.4 4.8-0.5 16.1 1.7 6.6-0.2 1.9 0.5 2.9 0 1.9-0.6 4.7 0.8 12.3 0.1" class="bl" stroke-opacity="0.5"/>
<path d="M655 776l1.1 2.6 3.1 1.6 0.8 1 0.9-0.2 1.3 0.5 1.9-0.3 1.1 0.3 6.2-1.2 1.2 0.2 1.8-1.3 5.5-0.5 2.6-1.1 4.4-0.8 3.7-0.2 12.4 0.6 5.7-0.5 12.3 3.5 5.7-0.5 5.7-1.4 9.5-0.5 9.5 0.8 4.7-0.4 9.5 1.2 7.6 0.2 4.8 1.4 5.6 0.7 2.9-0.4 4.7 0.2 5.7-1.5 13.3-2 11.4 1.3 2.9-0.4 4.7 0.8 19.9 0.7 1.9 0.5 5.7-0.5 4.8 0.9 11.3-0.1" class="bl" stroke-opacity="0.55"/>
<path d="M655 774.4l1.1 2.9 3.1 1.4 0.8 0.8 4.1-0.5 1.4 0.2 3-0.9 0.7 0.2 2.2-0.8 1.2 0.2 1.8-1.2 4.8-0.2 2.6-1 6-1.1 3.8 0.6 6.6-0.1 4.8 0.8 5.7-0.3 11.4 3.5 5.7 0 5.7-1.4 2.8-0.2 7.6-0.1 11.4 1 2.8-0.5 17.1 1.5 4.8 1.5 5.6 0.6 2.9-0.3 4.7 0.1 3.8-1.1 15.2-2.2 11.4 1.3 3.8-0.3 13.3 1.3 10.4 0.1 1.9 0.6 2.9-0.1 1.9-0.6 5.7 0.9 11.3 0.1" class="bl" stroke-opacity="0.75"/>
<path d="M655 773.8l1.8 3.5 3.4 2.4 2.4 0.1 4-0.2 1.9-0.7 1.8 0.4 1.1-0.7 1.2 0.2 1.1-0.4 0.7-0.7 5.5-0.3 2.6-0.9 5.3-1 15.2 1.2 5.7-0.2 11.4 3.5 6.6-0.2 4.8-1.3 10.4-0.5 11.4 1 6.6-0.3 4.8 0.9 6.6 0.1 6.7 1.7 5.6 0.7 2.9-0.5 3.8 0.4 10.4-2.3 9.5-1.3 11.4 1.3 4.8-0.3 12.3 1.3 10.4 0.1 4.8 0.5 2.8-0.5 5.7 0.8 10.4 0" class="bl" stroke-opacity="0.75"/>
<path d="M655 773.6l1.6 4.9 3.6 2.7 3.9-0.6 1.1 0.2 6.6-1.8 0.8 0.2 1.8-1.2 5.5-0.5 1.9-0.9 1.5 0.1 4.5-1.2 7.6 0.7 3.8-0.3 4.7 0.6 4.8-0.4 11.4 3.5 5.7-0.3 5.7-1.2 10.4-0.6 4.7 0.8 13.3 0 4.8 0.8 7.6 0.3 5.7 1.6 5.6 0.7 2.9-0.4 4.7 0.2 5.7-1.6 13.3-1.9 11.4 1.2 4.8-0.1 12.3 1.2 10.4 0.1 1.9 0.6 2.9-0.1 1.9-0.6 5.7 0.8 11.3 0.2" class="bl" stroke-opacity="0.6"/>
<path d="M655 770.1l1.1 3.3 3.9 4 2.6 1.1 2.9 0.4 7.1-0.3 1.8-1 1.8 0.4 3.7-0.5 1.9-0.8 6-1.1 3.8 0.5 6.6-0.1 4.8 0.7 5.7-0.3 11.4 3.3 5.7-0.4 5.7-1.2 9.4-0.6 5.7 0.7 8.6 0.1 0.9-0.4 8.6 1.1 7.6 0.2 5.7 1.6 5.6 0.8 7.6-0.3 3.8-1.2 15.2-2.5 11.4 1.5 4.8-0.3 3.7 0.7 10.5 0.8 8.5 0 4.8 0.5 1.9-0.7 5.7 0.9 11.3 0.2" class="bl" stroke-opacity="0.55"/>
<path d="M655 770.7l1.1 4 3.9 5.5 5.9 2 6.7-0.5 1.8-1 5.5-0.5 1.9-0.8 6-1.2 3.8 0.5 6.6-0.4 5.7 0.5 4.8-0.4 11.4 3.1 5.7 0 7.6-1.8 8.5-0.5 4.7 0.7 13.3-0.1 4.8 0.8 8.5 0.3 4.8 1.4 5.6 0.7 7.6-0.3 3.8-1.3 15.2-2.2 11.4 1.1 4.8-0.2 12.3 1.3 10.4 0 1.9 0.5 2.9-0.1 1.9-0.5 5.7 0.8 11.3 0.1" class="bl" stroke-opacity="0.55"/>
<path d="M655 769.2l1.1 3.2 3.9 4.1 2.6 1.2 1.5-0.1 1.1 0.6 7.4-0.2 1.8-1 5.5-0.1 1.9-0.8 6-0.9 15.2 1.3 5.7-0.2 11.4 3.7 5.7-0.3 7.6-1.6 8.5-0.2 7.6 0.8 10.4-0.2 4.8 0.8 6.6 0.2 12.3 2.4 2.9-0.4 4.7 0.2 12.4-2.8 6.6-0.7 11.4 1.3 4.8-0.4 1.8 0.6 10.5 0.8 10.4 0.1 1.9 0.6 2.9-0.1 1.9-0.6 5.7 0.8 11.3 0.1" class="bl" stroke-opacity="0.6"/>
<path d="M655 766l1.6 6 3.2 4.2 2.8 1.1 1.5-0.3 1.4 0.6 3-0.6 1.5 0.2 1.4-0.6 1.2 0.3 1.8-1 6.3-0.2 1.1-0.5 6-0.9 3.8 0.8 6.6-0.1 4.8 0.9 5.7-0.1 6.6 1.8 4.8 1.9 5.7-0.2 5.7-1.2 6.6-0.5 15.2 1 2.8-0.5 8.6 1.2 8.5 0.4 10.4 2.2 7.6-0.4 5.7-1.4 13.3-2.1 11.4 1.3 2.9-0.3 14.2 1.4 10.4 0.1 1.9 0.6 2.9 0.1 1.9-0.7 5.7 0.8 11.3 0.1" class="bl" stroke-opacity="0.6"/>
<path d="M655 756.2l1.4 7.2 3.6 7.7 2.6 2.2 2.6 1.5 3.3 0.2 1.5 0.6 1.4-0.4 1.2 0.5 1.8-0.9 5.5 0.3 7.9-1.2 6.6 0.8 3.8 0 4.8 0.8 5.7-0.4 11.4 3.6 5.7 0 7.6-1.7 2.8 0.3 5.7-0.5 9.5 0.9 4.7-0.4 17.1 1.4 4.8 1.5 5.6 0.7 2.9-0.3 4.7 0.2 3.8-1.2 15.2-2.3 11.4 1.2 3.8-0.2 13.3 1.5 10.4-0.1 4.8 0.6 2.8-0.6 4.8 0.9 6.6-0.2 4.7 0.3" class="bl" stroke-opacity="0.55"/>
<path d="M655 753l1.6 10.6 3.2 8.2 2.8 2.1 1.5 0.1 1.4 0.8 3-0.3 1.5 0.4 1.4-0.6 1.2 0.4 1.8-0.9 4.1 0.3 9.3-1.4 5.7 1.1 4.7 0 5.7 1.1 4.8-0.2 11.4 4 5.7 0 5.7-1.1 10.4-0.3 4.7 0.9 6.7 0.4 2.8-0.4 16.2 1.3 5.7 1.7 5.6 0.7 2.9-0.5 4.7 0.3 3.8-1.1 15.2-2.4 5.7 1 1-0.2 4.7 0.7 2.9-0.4 14.2 1.4 10.4 0.1 1.9 0.5 2.9-0.1 1.9-0.6 5.7 0.9 11.3 0" class="bl" stroke-opacity="0.6"/>
<path d="M655 748.5l1.6 10.2 3.2 7.9 2.4 2.1 4.4 1.2 3.7 0.3 1.1-0.4 1.2 0.6 1.8-0.9 5.5 0.6 2.6-0.6 2.5 0.2 2.8-0.4 3.8 1.2 6.6 0.5 5.7 1.4 4.8 0 4.7 2 7.6 2.4 4.8 0 5.7-1.1 4.7 0.3 5.7-0.3 4.7 0.8 7.6 0.4 1.9-0.3 8.6 1.2 7.6 0.3 5.7 1.7 5.6 0.9 7.6-0.3 3.8-1.2 15.2-2 11.4 1.3 2.9-0.4 14.2 1.5 10.4 0 1.9 0.6 4.8-0.6 5.7 1 11.3 0.1" class="bl" stroke-opacity="0.55"/>
<path d="M655 747l1.6 11.9 3.4 11.7 2.6 3.7 2.6 2 4 1.2 2.2-0.2 1.2 0.3 1.8-0.7 2.6 0.5 2.9-0.2 7-1.3 6.6 0.8 4.7-0.3 5.7 0.8 3.8-0.4 13.3 3.5 5.7-0.4 8.5-1.5 6.7-0.3 4.7 0.7 13.3 0 4.8 0.7 7.6 0.3 4.7 1.3 6.6 1 2.9-0.4 3.8 0.1 16.1-3.1 6.7-0.3 8.5 1.1 4.8-0.3 2.8 0.7 13.3 0.9 6.6-0.1 1.9 0.5 2.9-0.1 1.9-0.7 5.7 1.1 11.3 0" class="bl" stroke-opacity="0.55"/>
<path d="M655 744.8l1.6 10 3.4 9.9 3 3.5 2.5 1.6 4.5 1.1 1.4-0.3 1.2 0.5 1.8-0.8 4.4 0.6 3.7-0.7 5.3 0 16.1 2.5 5.7 0.2 10.5 3.8 6.6-0.1 4.8-1.1 10.4-0.1 9.5 1.1 4.7-0.4 5.7 1 10.5 0.6 5.7 1.6 5.6 0.8 7.6-0.1 8.6-1.9 10.4-1.4 11.4 1.4 3.8-0.3 13.3 1.5 15.2 0.4 1.9-0.5 5.7 0.8 11.3 0.3" class="bl" stroke-opacity="0.55"/>
<path d="M655 739.9l1.6 10.8 3.4 11.7 2.2 4 3 3 5.1 2.3 1.5-0.2 0.8 0.6 1.8-0.6 1.8 0.7 3.7 0.3 7.9-0.4 3.8 1 7.6 0.8 3.8 1 5.7 0.1 11.4 4 5.7 0.1 4.7-1.1 11.4-0.3 8.5 0.9 5.7-0.3 11.4 1.4 5.7 0.1 4.8 1.6 5.6 0.8 7.6-0.3 12.4-2.7 6.6-0.8 11.4 1.3 3.8-0.2 15.2 1.4 8.5-0.2 4.8 0.5 1.9-0.6 5.7 1 11.3 0.1" class="bl" stroke-opacity="0.55"/>
<path d="M655 788.7l1.1 0.5 2.4-1.8 1.5 0.1 4.1-2 1.4-0.1 5.9-2.4 1.2 0 1.8-1.4 5.5-1 1.9-1 6-1.6 10.4-0.2 5.7 0.4 4.8-0.5 11.4 3.1 5.7-0.3 5.7-1.4 3.7-0.3 6.7-0.4 11.4 0.9 2.8-0.5 8.6 1 8.5 0.3 4.8 1.4 5.6 0.8 2.9-0.5 4.7 0.2 3.8-1.2 15.2-2.3 11.4 1.2 4.8-0.2 12.3 1.2 10.4 0.1 1.9 0.5 2.9 0 1.9-0.6 5.7 0.9 11.3 0.1" class="or"/>
</g>
<rect x="644.4" y="712.9" width="239.5" height="135.6" class="sp"/>
<path d="M655.0 848.5v14M763.9 848.5v14M872.9 848.5v14M644.4 745.9h-15M644.4 800.8h-15" class="tk"/>
<path d="M918.3 712.9V848.5M1027.2 712.9V848.5M1136.2 712.9V848.5M907.7 745.9H1147.2M907.7 800.8H1147.2" class="grid"/>
<clipPath id="cp32"><rect x="907.7" y="712.9" width="239.5" height="135.6"/></clipPath>
<g clip-path="url(#cp32)">
<path d="M918.3 741.6l1.1 13.4 1.7 10.5 1.9 4.8 1.4 1.3 2.3 0.5 14-3 3.7-1.3 1.1 0.2 1.9-0.8 6.6-0.7 4.7 0.6 3.8 1.1 5.7 2.1 3.8 2.2 6.7 2.6 1.9 0 6.6-3.2 2.9-0.5 19.9 1.5 11.4-0.1 3.8 0.5 6.6 1.9 1-0.2 1.9 0.4 5.7 2.6 5.6 1.6 2.9 0.3 9.5-2.7 10.4-5.2 3.8-1.1 7.6 0 5.7 0.9 8.5 3.9 1.9 0.5 16.2-0.9 9.5 1.6 2.8 0.2 4.8-0.6 4.7 1 1.9-0.1" class="bl" stroke-opacity="0.6"/>
<path d="M918.3 842l1.5-15.6 2-11.8 2.5-8.2 3.8-8.7 4.8-7.6 8.5-9.7 6.9-5.7 4.7-2.7 3.8-1.5 2.9-0.3 8.5 0.7 3.8 1.7 6.7 1.8 1.9-0.3 6.6-3.6 2.9-0.9 8.5 0 3.8 0.6 4.7-0.3 2.9 0.4 11.4-0.3 3.8 0.5 6.6 2.1 1.9-0.1 2.9 0.9 0.9 0.9 2.9 1.1 5.6 1.4 2.9 0.3 9.5-2.7 11.4-5.4 2.8-0.8 2.9 0.4 4.7-0.4 6.7 1.5 8.5 3.8 7.6 0.3 1.9-0.6 7.6-0.2 10.4 1.8 6.7-0.7 3.8 1.1 2.8 0" class="bl" stroke-opacity="0.6"/>
<path d="M918.3 842.1l1.5-14.5 2.2-11.5 1.9-5.8 4.2-8.4 5.2-7.2 11.1-11.3 1.1-0.5 1.9-2.1 1.9-1.1 3.7-2.2 3.8-1.5 3.8-0.5 7.6 0.5 3.8 1.4 6.7 1.3 1.9-0.4 6.6-3.9 2.9-1 8.5-0.3 11.4 0.5 11.4-0.7 3.8 0.5 6.6 1.7 2.9 0.1 5.7 2.7 8.5 1.5 9.5-2.8 5.7-3 6.6-2.7 1.9-0.5 2.9 0.3 4.7-0.5 6.7 1.3 3.7 2.1 5.7 2 6.7 0.1 2.8-0.7 5.7-0.4 3.8 0.9 9.5 1.1 4.8-0.6 6.6 0.8" class="bl" stroke-opacity="0.5"/>
<path d="M918.3 836.5l1.5-14.9 2-8.7 2.1-4.9 5-8.7 6.6-8.6 8.9-8.7 7.7-5.1 4.7-1.7 3.8-0.3 7.6 0.7 3.8 1.7 5.7 1.5 1.9 0.1 7.6-4.1 2.9-0.9 14.2 0.1 5.7 0.5 2.8-0.4 8.6-0.1 3.8 0.3 6.6 1.8 2.9 0.1 4.7 2.4 8.5 1.9 10.5-2.8 11.4-5.5 2.8-0.7 6.7-0.2 7.6 1.2 5.6 3.1 3.8 1 6.7 0.1 2.8-0.8 5.7-0.2 10.5 1.6 2.8 0.1 4.8-0.6 4.7 1 1.9-0.1" class="bl" stroke-opacity="0.55"/>
<path d="M918.3 833.4l1.5-12.5 2-7.3 2.5-5.4 4.6-8.2 5.2-7.1 10.3-10.9 1.1-0.4 2.8-2.5 8.5-4.6 3.8-0.4 3.8 0.6 3.8-0.2 3.8 1.8 6.7 1.1 1.9-0.3 6.6-3.9 2.9-0.8 5.7-0.3 6.6 0.4 1.9-0.4 5.7 0.5 1.9-0.4 9.5-0.1 12.3 2.1 2.9 0.8 0.9 0.9 2.9 1.1 8.5 1.6 10.4-3.1 10.5-5.1 2.8-0.7 2.9 0.3 3.8-0.4 7.6 1.3 7.5 3.7 1.9 0.3 6.7 0.1 1.9-0.6 7.6-0.4 9.5 1.9 2.8 0.2 4.8-0.7 6.6 0.8" class="bl" stroke-opacity="0.55"/>
<path d="M918.3 824.8l1.5-8.7 3.5-11.3 4.8-9.6 4.8-6.7 6-6.1 8.5-7.1 5.6-3 3.8-1.3 11.4 0.9 3.8 1.7 6.7 1.7 1.9-0.3 6.6-3.7 2.9-0.6 12.3 0.6 4.7-0.2 2.9 0.4 4.7-0.5 10.5 0.4 6.6 2.2 1-0.2 2.8 0.6 4.8 2.2 7.5 1.8 9.5-2.4 13.3-6.1 9.5-0.4 6.7 1.4 5.6 2.8 3.8 1.2 6.7 0.1 2.8-0.7 6.7-0.2 9.5 1.7 2.8 0.2 4.8-0.7 4.7 1 1.9-0.1" class="bl" stroke-opacity="0.5"/>
<path d="M918.3 825.6l1.5-10.3 2-7.8 2.1-4.4 4.6-6.6 4.8-4.9 11.1-9.1 1.1-0.2 1.9-1.7 5.6-2.9 5.7-1.5 9.5 0.7 3.8 1.7 6.7 1.4 1.9-0.4 6.6-4.1 2.9-0.9 12.3 0 1.9-0.4 5.7 0.3 11.4-0.8 3.8 0.4 6.6 1.7 1-0.3 2.8 0.7 3.8 2 6.6 1.6 2.9 0.2 8.5-2.5 12.4-6 2.8-0.9 2.9 0.3 3.8-0.3 7.6 1.4 8.5 3.7 7.6 0.3 4.7-1 3.8 0 11.4 1.8 6.7-0.6 3.8 0.9 2.8-0.1" class="bl" stroke-opacity="0.6"/>
<path d="M918.3 819.9l1.5-11.7 2-6.7 2.1-3.6 4.2-5.7 4.8-5 11.5-9.2 0.7 0 2.3-1.7 2.8-1.3 6.6-2.3 1.9-0.1 9.5 1.2 3.8 2.1 7.6 1.7 2.9-1 4.7-3 2.9-0.8 12.3 0.6 4.7-0.3 2.9 0.4 11.4-0.3 12.3 2.2 6.7 2.7 5.6 1.4 2.9 0.3 11.4-3.6 9.5-4.9 2.8-0.7 2.9 0.5 4.7-0.4 5.7 1 6.6 3.2 3.8 1 6.7 0 2.8-0.6 5.7-0.2 13.3 1.9 5.7-0.6 5.7 0.7" class="bl" stroke-opacity="0.5"/>
<path d="M918.3 817.7l1.5-6.9 2.2-4.8 6.1-8.5 4.8-5.3 11.5-9.9 1.1-0.3 1.9-1.7 5.6-3.1 3.8-1.3 11.4 0.3 3.8 1.6 7.6 1.5 7.6-4.3 2.9-1 17-0.2 2.9 0.4 11.4-0.7 3.8 0.3 6.6 1.8 1-0.2 2.8 0.5 4.8 2.3 5.6 1.3 2.9 0.2 9.5-2.7 11.4-5.6 2.8-0.6 6.7-0.2 6.6 1 6.6 3.1 3.8 1.2 6.7 0 1.9-0.6 6.6-0.4 13.3 2 4.8-0.7 6.6 0.7" class="bl" stroke-opacity="0.75"/>
<path d="M918.3 812.8l1.5-5.9 2.2-4.2 6.1-7.3 3-2.3 1.8-2.3 1.9-1 4.1-3.6 5.5-4 0.7 0 3.2-2.4 4.7-2.3 3.8-1 11.4 0.5 3.8 1.8 7.6 1.5 7.6-4.2 2.9-1.1 12.3 0.1 1.9-0.4 5.7 0.5 11.4-0.8 3.8 0.2 6.6 1.9 1-0.3 2.8 0.6 4.8 2.2 5.6 1.4 2.9 0.2 8.5-2.5 12.4-6 2.8-0.7 7.6-0.2 6.7 1.2 8.5 3.9 7.6 0.1 4.7-0.8 4.8-0.1 10.4 1.6 7.6-0.4 5.7 1" class="bl" stroke-opacity="0.6"/>
<path d="M918.3 799.4l1.5-3.4 4.1-5.3 9-7.9 1.9-0.8 4.1-3 3.7-1.7 1.8-1.6 1.1 0 1.5-1.1 5.1-2 4.7-1.1 10.5 1.2 4.7 2.4 7.6 1.9 2.9-1.2 4.7-2.8 2.9-0.8 19.9 0.7 11.4-0.6 3.8 0.5 6.6 1.9 1-0.2 2.8 0.5 4.8 2.4 7.5 1.7 9.5-2.5 10.5-5.2 4.7-1.4 2.9 0.3 3.8-0.4 6.6 1 6.6 3.2 3.8 1.1 6.7 0.2 4.7-1 2.9-0.1 14.2 2 4.8-0.6 4.7 0.9 1.9-0.1" class="bl" stroke-opacity="0.55"/>
<path d="M918.3 794.5l1.5-2.7 4.1-4.4 4.6-3.9 4.8-3.3 11.1-6.1 1.1 0 1.9-1.2 4.7-1.6 4.7-0.8 11.4 1.9 3.8 2.2 7.6 1.9 7.6-3.6 2.9-0.8 12.3 0.7 4.7-0.3 2.9 0.5 11.4-0.4 3.8 0.5 6.6 1.8 1-0.2 2.8 0.6 1.9 1.3 2.9 1.2 8.5 1.6 9.5-2.8 11.4-5.4 2.8-0.9 2.9 0.3 4.7-0.4 5.7 1.1 6.6 3.1 3.8 1 6.7 0.3 1.9-0.6 6.6-0.4 3.8 0.9 8.6 0.6 0.9 0.4 4.8-0.6 3.8 0.9 2.8 0" class="bl" stroke-opacity="0.5"/>
<path d="M918.3 793l1.5-2.9 4.1-5.4 4.2-4.3 5.2-4.2 14.1-7.5 5.6-1.8 3.8-0.5 10.5 1.8 4.7 2.3 6.7 2.3 1.9-0.2 6.6-3.4 2.9-0.7 12.3 0.9 4.7-0.2 2.9 0.6 9.5-0.3 5.7 0.5 5.7 1.8 3.8 0.4 5.7 2.6 7.5 1.8 2.9-0.3 7.6-2.4 8.5-4.1 5.7-2 7.6 0.1 6.7 1.3 5.6 2.9 3.8 1.1 6.7 0.1 1.9-0.5 6.6-0.3 11.4 1.8 6.7-0.4 4.7 1 1.9-0.1" class="bl" stroke-opacity="0.55"/>
<path d="M918.3 793l1.5-2.6 4.1-4.2 9-6.5 8.5-4.5 1.2-0.1 1.8-1.5 1.1 0.2 1.9-1.4 5.6-1.6 3.8-0.5 1.9 0 9.5 1.9 3.8 2.2 6.7 2 1.9-0.2 6.6-3.3 2.9-0.9 12.3 0.9 1.9-0.4 5.7 0.5 9.5-0.3 5.7 0.4 6.6 1.9 1-0.3 3.8 1.1 0.9 0.9 2.9 1.1 8.5 1.4 11.4-3.4 9.5-4.7 2.8-0.7 6.7-0.1 6.6 1.1 6.6 3.1 3.8 1.1 6.7 0.2 1.9-0.7 6.6-0.5 10.5 1.9 7.6-0.4 4.7 0.9 1.9-0.1" class="bl" stroke-opacity="0.55"/>
<path d="M918.3 790.3l1.5-1.8 8.7-6.7 1.5-0.4 5.5-3.6 11.9-5.5 5.6-1.7 3.8-0.4 3.8 0.4 3.8 1.3 3.8 0.5 3.8 2.1 7.6 2.1 2.9-1 4.7-2.7 2.9-0.8 12.3 0.9 4.7-0.2 2.9 0.5 11.4-0.5 10.4 2.3 1-0.1 3.8 1.1 2.8 1.6 7.6 1.8 3.8-0.3 1.9-0.9 4.7-1 9.5-4.7 5.7-1.9 7.6-0.1 5.7 1 6.6 3.2 3.8 1 6.7 0.3 3.8-0.9 4.7-0.2 10.5 1.7 2.8 0.2 4.8-0.7 6.6 0.9" class="bl" stroke-opacity="0.55"/>
<path d="M918.3 781.7l1.1 1.4 1.5 0.2 1.1-0.9 1-0.1 5.1-4.2 3-1.2 1.8-1.6 9.7-4 1.8-1.3 1.1 0.2 1.9-1.1 2.8-0.8 6.6-1 3.8 0.5 7.6 2.1 3.8 2.1 6.7 2.3 1.9-0.1 6.6-3.5 2.9-0.5 17 0.7 2.9 0.5 11.4-0.3 5.7 0.9 4.7 1.5 1-0.2 2.8 0.6 4.8 2.4 8.5 1.7 8.5-2.3 9.5-4.5 5.7-2 2.9 0.3 4.7-0.3 6.7 1.1 5.6 3.2 3.8 1 6.7 0.2 1.9-0.6 6.6-0.4 10.5 1.8 1.9-0.2 0.9 0.4 4.8-0.7 4.7 1 1.9-0.1" class="bl" stroke-opacity="0.55"/>
<path d="M918.3 775.7l1.1 2.9 1.1 1.2 2.5 0.1 10.3-5.7 1.5-0.2 4.1-2 3.7-1 1.8-1.2 0.7 0.2 2.3-1.2 5.6-1.2 3.8-0.3 11.4 3 3.8 2.2 7.6 2.5 2.9-0.9 4.7-2.7 2.9-0.6 12.3 1 4.7-0.2 2.9 0.6 11.4-0.4 3.8 0.6 6.6 2.1 1-0.2 2.8 0.7 3.8 1.8 6.6 1.9 2.9 0.2 10.4-3.2 9.5-4.6 3.8-1.2 7.6 0.1 5.7 1 6.6 3.4 3.8 0.9 6.7 0.2 4.7-1.1 3.8 0 11.4 1.9 6.7-0.6 6.6 0.8" class="bl" stroke-opacity="0.75"/>
<path d="M918.3 776.2l1.1 4.6 1.7 2.4 1.9 0 9.9-5.2 0.8 0.1 5.2-2.6 3.7-1.1 1.8-1.2 1.1 0 1.9-1.1 5.6-1.3 4.8-0.2 9.5 2 4.7 2.3 5.7 2 1.9 0.3 2.9-0.9 4.7-2.7 2.9-0.8 12.3 1 1.9-0.3 5.7 0.5 11.4-0.5 5.7 1 4.7 1.4 1-0.2 2.8 0.6 2.9 1.7 8.5 2.2 3.8-0.5 7.6-2.3 11.4-5.5 2.8-0.7 2.9 0.3 4.7-0.4 4.8 0.8 1.9 0.5 3.7 2.1 5.7 1.8 6.7 0.2 1.9-0.7 5.7-0.4 11.4 1.7 8.5-0.4 3.8 0.9 1.9-0.1" class="bl" stroke-opacity="0.55"/>
<path d="M918.3 775.1l1.1 3.2 1.7 1.7 3.7-1.4 8.1-4.4 9.7-3.2 1.8-1.3 0.7 0.3 2.3-1.1 5.6-1.3 3.8 0 3.8 0.5 2.9 1.2 4.7 1 3.8 2.3 6.7 2.2 1.9-0.2 6.6-3.2 2.9-0.5 8.5 0.3 3.8 0.6 4.7-0.2 2.9 0.5 4.7-0.4 6.7 0.2 3.8 0.4 6.6 1.8 1.9 0.1 6.7 2.9 5.6 1.4 2.9 0.2 10.4-3 10.5-5.1 6.6-0.7 3.8-0.1 1.9 0.7 4.8 0.5 5.6 3.1 3.8 0.9 6.7 0.2 1.9-0.6 6.6-0.4 11.4 1.9 6.7-0.5 6.6 0.9" class="bl" stroke-opacity="0.6"/>
<path d="M918.3 773.1l1.1 5.8 1.3 2.1 2.3-0.6 2.4-2 1.3-0.3 6.2-3.9 1.9-0.5 1.8-1.1 4.1-1.3 3.7-1.9 1.1 0 1.9-1.1 9.4-1.5 7.6 2.1 3.8 0.6 3.8 2.3 6.7 2.3 1.9-0.1 6.6-3.5 2.9-0.6 12.3 1 1.9-0.3 5.7 0.8 4.7-0.5 6.7 0.1 3.8 0.4 3.8 1.5 4.7 0.5 6.7 2.9 7.5 1.5 2.9-0.2 7.6-2.2 8.5-4.3 5.7-2 2.9 0.3 4.7-0.3 5.7 1.2 2.9 1 3.7 2.2 3.8 1 6.7 0.1 2.8-0.7 6.7-0.1 9.5 1.7 1.9-0.2 0.9 0.4 5.7-0.8 3.8 1 1.9-0.1" class="bl" stroke-opacity="0.75"/>
<path d="M918.3 771.3l1.1 5.3 0.9 2.1 0.8 0.8 1.9 0.5 4-1.6 1.5-1.3 2.6-0.6 1.8-1.4 5.2-1.5 6.3-2.8 1.1 0.1 1.9-1 5.6-1.3 3.8-0.1 10.5 2.4 4.7 2.6 6.7 2.3 1.9-0.1 6.6-3.5 2.9-0.7 19.9 1.3 11.4-0.3 3.8 0.5 6.6 1.9 1-0.2 2.8 0.7 2.9 1.5 8.5 2.4 3.8-0.4 7.6-2.3 8.5-4.3 5.7-2 7.6 0 5.7 1.1 6.6 3.2 3.8 1 6.7 0.1 1.9-0.6 6.6-0.3 10.5 1.7 7.6-0.4 4.7 0.9 1.9-0.1" class="bl" stroke-opacity="0.5"/>
<path d="M918.3 767.2l1.7 9.9 0.7 1.5 2.3 0.5 9.2-3.9 0.7-0.8 9.7-2.9 1.8-1.1 0.7 0.3 4.2-1.6 4.7-0.7 4.7 0.3 4.8 1.5 4.7 1 3.8 2.2 6.7 2.3 1.9-0.1 6.6-3.3 2.9-0.6 19.9 1.4 9.5-0.5 6.6 0.8 5.7 1.7 1-0.2 2.8 0.6 4.8 2.4 5.6 1.6 4.8-0.3 6.6-2.1 12.4-5.8 2.8-0.7 7.6 0.1 5.7 0.9 6.6 3.2 3.8 1.1 6.7 0 4.7-1.1 2.9 0.1 11.4 1.8 2.8 0.2 4.8-0.6 4.7 1 1.9-0.1" class="bl" stroke-opacity="0.55"/>
<path d="M918.3 766.1l1.1 6.7 1.3 4.5 2.1 2.6 2 0.5 1.9-0.1 5.5-1.9 0.7-0.7 7.8-2.2 3.7-1.9 1.1 0.1 1.9-0.9 5.6-1.4 3.8-0.1 11.4 2.5 3.8 2.2 6.7 2.4 1.9 0 6.6-3.6 2.9-0.8 19.9 1.1 9.5-0.5 5.7 0.4 3.8 1.3 4.7 0.6 6.7 2.8 8.5 1.7 9.5-3 11.4-5.6 2.8-0.7 7.6 0 5.7 0.9 6.6 3.2 3.8 1 6.7 0.1 1.9-0.6 6.6-0.4 13.3 1.8 4.8-0.7 3.8 0.9 2.8 0" class="bl" stroke-opacity="0.6"/>
<path d="M918.3 763.6l2 10.8 1 1.7 1.7 1.1 3.7-1.1 2.2-1.5 3.3-1.1 1.1-1 9.3-3 1.8-1.2 0.7 0.3 7.9-2.1 3.8-0.1 10.5 2.6 4.7 2.7 5.7 2.2 2.9 0.2 6.6-3.3 2.9-0.6 12.3 1.1 4.7-0.2 2.9 0.6 11.4-0.1 3.8 0.3 3.8 1.5 5.7 0.8 3.8 2 9.4 2.5 9.5-2.5 12.4-5.8 2.8-0.7 7.6-0.1 5.7 1.2 6.6 3.1 3.8 1.1 6.7 0.2 2.8-0.7 6.7-0.3 2.8 0.8 9.5 1.3 4.8-0.7 6.6 1" class="bl" stroke-opacity="0.55"/>
<path d="M918.3 761l0.9 5.4 1.1 3.5 0.8 1.2 1.7 0.8 4.2-1.4 6.3-3.1 9.3-2.3 1.8-1 0.7 0.2 2.3-0.7 6.6-0.9 4.7 0.5 8.6 2.8 4.7 2.8 6.7 2.5 1.9-0.1 6.6-3.1 2.9-0.5 12.3 1.4 4.7-0.1 2.9 0.6 11.4-0.1 3.8 0.5 6.6 2 1.9 0.1 6.7 2.9 7.5 1.8 2.9-0.3 7.6-2.4 9.5-4.5 4.7-1.5 7.6 0.1 5.7 1 6.6 3.3 3.8 1.1 6.7 0.1 1.9-0.6 6.6-0.3 10.5 1.8 7.6-0.4 4.7 1 1.9-0.1" class="bl" stroke-opacity="0.6"/>
<path d="M918.3 760.3l2 9.6 2.7 3.1 3.7-0.4 1.4-0.9 3-0.4 1.8-1 1.9 0 4.1-1.4 0.7 0.3 4.8-1.9 1.1 0.3 1.9-0.8 9.4-0.8 11.4 3.4 3.8 2.2 6.7 2.6 1.9 0 6.6-3.3 2.9-0.5 19.9 1.4 4.7-0.2 1.9 0.4 4.8-0.4 3.8 0.5 6.6 1.9 1.9 0.1 6.7 2.8 7.5 1.8 10.5-2.7 10.4-5.2 3.8-1 2.9 0.4 3.8-0.5 6.6 1 6.6 3.3 3.8 1.1 6.7 0.1 2.8-0.7 6.7-0.3 9.5 1.8 2.8 0.2 4.8-0.7 1.9 0.1 2.8 0.9 1.9 0" class="bl" stroke-opacity="0.75"/>
<path d="M918.3 751.1l1.1 11.1 1.3 6.4 2.1 3.4 2 0.6 7.4-0.5 0.7-0.6 0.8 0.2 1.8-0.6 4.8-0.3 4.1-1.4 1.1 0.3 2.8-0.9 8.5-0.3 11.4 3.5 3.8 2.4 6.7 2.5 1.9-0.1 6.6-3.2 2.9-0.6 19.9 1.6 9.5-0.6 5.7 0.6 6.6 1.9 1-0.2 2.8 0.7 3.8 2 8.5 2 2.9-0.5 9.5-3.2 9.5-4.8 2.8-0.7 2.9 0.4 4.7-0.4 5.7 1 6.6 3.2 3.8 1 6.7 0.3 4.7-1.1 4.8 0 9.5 1.5 2.8 0.2 5.7-0.6 3.8 0.9 1.9-0.1" class="bl" stroke-opacity="0.55"/>
<path d="M918.3 742.4l1.1 13.3 1.3 8.8 2.1 5.5 2.2 1.3 2 0.2 1.1-0.8 4.1-0.8 1.1-0.8 1.5 0 4.1-1.5 3.7-0.7 1.8-1.1 1.1 0.4 4.7-1.3 6.6-0.3 11.4 3.5 3.8 2.5 6.7 2.6 1.9 0 6.6-3 2.9-0.6 12.3 1.2 4.7 0.1 2.9 0.6 4.7-0.4 1.9 0.5 4.8-0.1 3.8 0.4 6.6 2 1.9 0.1 2.9 0.9 0.9 1 1.9 0.8 8.5 2 9.5-2.2 11.4-5.4 4.8-1.1 6.6 0 5.7 1 6.6 3.2 3.8 1.2 6.7 0.1 2.8-0.7 6.7-0.4 10.4 2 7.6-0.6 3.8 0.9 1.9 0" class="bl" stroke-opacity="0.6"/>
<path d="M918.3 787.9l2.4-1.4 7.4-6.1 4.1-2.1 0.7-0.8 14.5-6.6 5.6-1.6 3.8-0.3 11.4 2.3 3.8 2.1 6.7 2.2 1.9-0.1 6.6-3.5 2.9-0.7 12.3 0.9 4.7-0.2 2.9 0.5 11.4-0.3 3.8 0.4 6.6 1.9 1.9 0 2.9 0.9 0.9 0.9 2.9 1 7.5 1.7 2.9-0.4 7.6-2.3 11.4-5.5 2.8-0.7 2.9 0.3 4.7-0.3 5.7 1 6.6 3.2 3.8 1 6.7 0.1 4.7-0.8 4.8-0.1 9.5 1.7 2.8 0.2 4.8-0.6 4.7 0.9 1.9-0.1" class="or"/>
</g>
<rect x="907.7" y="712.9" width="239.5" height="135.6" class="sp"/>
<path d="M918.3 848.5v14M1027.2 848.5v14M1136.2 848.5v14M907.7 745.9h-15M907.7 800.8h-15" class="tk"/>
<path d="M1181.7 712.9V848.5M1290.6 712.9V848.5M1399.6 712.9V848.5M1171.1 745.9H1410.6M1171.1 800.8H1410.6" class="grid"/>
<clipPath id="cp33"><rect x="1171.1" y="712.9" width="239.5" height="135.6"/></clipPath>
<g clip-path="url(#cp33)">
<path d="M1181.6 735l1.7 15.3 2.4 8.8 1.5 2.3 1.7 1.4 3.7 2.4 1.9 0.3 1.4 1.3 1.9 0.4 1.1-0.1 1.8-1.4 2.6-2.5 5.9-7.4 2.5-1.5 8.5 1.6 7.6 7 4.7 3.1 3.8 3.3 1.9 0.9 4.8 0.7 1.9-0.9 6.6-6 3.8-0.5 11.4 4.7 4.7-0.7 5.7-1.8 8.6 1.7 16.1 7.6 7.6 2 1.9 0 1.9-1 4.7-6.3 6.7-7.2 5.7-1.3 2.8 0.4 4.8-0.3 7.6 1.2 6.6 3.3 6.6 5.3 5.7 2.6 2.9-1.1 4.7-3.7 2.9-0.8 6.6 1.5 4.8 2.2 6.6 0.8 1.9-0.5 4.8-3.2" class="bl" stroke-opacity="0.5"/>
<path d="M1181.6 839l5.1-22.5 4.1-9.6 3.7-5.7 4.4-5.1 11.4-23.8 1.4-1.4 7.5-3.5 1.9 0 1.9 0.8 4.8 2.9 4.7 1.6 3.8 2.2 2.9 0.4 3.8-0.2 1.9-1.3 4.7-5.4 1.9-1.5 1.9-0.7 2.9-0.3 6.6 2.6 4.7 1.1 8.6-3 1.9-0.2 10.4 2.6 14.3 6.4 6.6 1.8 1.9 0 1.9-1.3 10.4-12.9 1-0.8 2.8-0.9 5.7 0.2 4.8-0.4 7.6 1.2 6.6 3.1 6.6 5.5 5.7 2.5 2.9-1.2 3.8-3 3.8-1.2 6.6 1.5 4.8 1.9 6.6 1 1.9-0.6 4.8-3.2" class="bl" stroke-opacity="0.5"/>
<path d="M1181.6 836.3l5.1-23.3 4.1-9.5 3.7-5.3 3.3-3.2 2.2-3.4 5.5-11.8 5.2-9.4 2.9-1.9 5.6-2.1 1.9 0.1 6.7 3.8 4.7 1.8 3.8 2.3 1.9 0.3 4.8-0.1 0.9-0.5 5.7-6.2 1.9-1.7 1.9-0.8 2.9-0.1 6.6 2.7 3.8 0.9 6.6-1.6 2.9-1.3 1.9 0 7.6 1.3 15.2 6.7 9.4 2.6 1-0.1 1.9-1.2 10.4-12.8 1.9-1.1 2.9-0.7 9.5-0.1 6.6 0.9 7.6 3.5 4.7 4.1 5.7 3.3 1.9 0.6 2.9-1.1 3.8-3.3 3.8-1.2 6.6 1.5 4.8 1.9 6.6 1.1 1.9-0.6 4.8-3.1" class="bl" stroke-opacity="0.5"/>
<path d="M1181.6 837.2l2.5-14.4 2.6-11.7 4.1-10.4 3.3-4.8 3.7-3.2 2.2-3.1 5.5-11.2 4.8-8.4 1.4-1.3 2.8-1.1 5.7-1.4 7.6 4.7 4.7 1.8 3.8 2.5 2.9 0.5 3.8-0.1 1.9-1.3 6.6-6.7 1.9-0.7 3.8 0.1 9.5 3.5 4.7-1.1 3.8-1.7 2.9-0.2 7.6 1.2 15.2 6.9 9.4 2.5 1 0 1.9-1.1 6.6-8.7 4.8-5.3 5.7-1.2 2.8 0.4 4.8-0.3 7.6 1.2 6.6 3.3 6.6 5.3 4.8 2.3 2.8-0.4 4.8-3.6 3.8-1.3 5.7 1 5.7 2.5 6.6 0.9 1.9-0.5 4.8-3.3" class="bl" stroke-opacity="0.55"/>
<path d="M1181.6 832.7l2.5-14.3 2.6-11.4 4.1-10.6 3.3-5.3 4.8-5.3 6.6-13.8 4.8-8.5 1.4-1.3 5.6-2.2 1.9-0.5 1.9 0.3 6.7 4.5 4.7 2 3.8 2.5 2.9 0.7 3.8 0 0.9-0.4 5.7-5.8 1.9-1.5 1.9-0.5 2.9-0.1 1.9 0.6 8.5 3.7 3.8-0.7 5.7-2.1 1.9-0.1 7.6 1.7 16.1 7.6 5.7 1.2 1.9 0.9 1.9 0 1.9-1 10.4-12.7 1.9-1.1 4.8-0.9 2.8 0.4 4.8-0.4 7.6 1.4 6.6 3.3 4.7 4.3 6.7 3.6 2.8-0.4 4.8-3.6 3.8-1.3 6.6 1.5 4.8 2.2 5.7 0.9 2.8-0.5 4.8-3.2" class="bl" stroke-opacity="0.75"/>
<path d="M1181.6 828.7l4-20 2.8-8.3 2.4-4.7 3.7-5.2 4.4-4.6 6.3-12.8 5.1-9.2 1.4-1.3 5.6-1.9 2.9-0.4 0.9 0.4 6.7 4.5 4.7 2.3 3.8 2.7 1.9 0.5 4.8 0.1 1.9-1.1 6.6-6.4 3.8-0.8 11.4 4.5 3.8-0.6 4.7-1.9 1.9-0.3 8.6 1.7 16.1 7.5 7.6 2.2 1.9 0.1 1.9-1.1 10.4-12.8 1.9-1.3 2.9-0.5 4.7 0.3 4.8-0.5 7.6 1.4 5.7 2.6 5.6 4.9 6.7 3.7 2.8-0.5 4.8-3.8 1.9-0.8 3.8 0 4.7 1.2 4.8 2 6.6 1 1.9-0.5 4.8-3.3" class="bl" stroke-opacity="0.75"/>
<path d="M1181.6 818.7l5.1-22.1 4.1-9.3 3.7-4.7 3.3-2.4 1.8-2.4 10-17.8 2.1-2 1.9-0.6 6.6-0.7 7.6 5.6 4.7 2.6 3.8 2.8 2.9 0.8 3.8 0.3 1.9-1.1 6.6-6.1 4.8-0.6 8.5 4.1 1.9 0.4 3.8-0.5 6.6-2.1 8.6 1.9 16.1 7.6 7.6 2.2 1.9 0 1.9-1.1 4.7-6 6.7-7.5 5.7-1.1 2.8 0.5 5.7-0.3 6.7 1.3 6.6 3.4 4.7 4 3.8 2.4 3.8 1.4 1.9-0.4 4.8-3.6 3.8-1.3 6.6 1.4 4.8 2.1 5.7 1 1.9-0.1 5.7-3.6" class="bl" stroke-opacity="0.75"/>
<path d="M1181.6 817.3l2.7-14 2.4-8.9 1.5-3.5 2.6-4.6 3.7-4.1 2.2-1.2 2.2-2.3 10.7-18.4 2.1-2 1.9-0.5 6.6-0.6 7.6 5.7 10.4 6.5 4.8 0.3 3.8-2.7 4.7-4.7 1.9-0.5 2.9 0.1 10.4 4.6 1.9-0.1 7.6-2.4 5.7 0.8 3.8 1 15.2 7.1 9.4 2.6 1 0 1.9-1 10.4-12.8 1.9-1.2 2.9-0.7 10.4 0.1 6.7 1.2 6.6 3.3 4.7 4.1 6.7 3.7 2.8-0.4 4.8-3.7 3.8-1.3 6.6 1.4 4.8 2.2 5.7 0.8 2.8-0.5 4.8-3.1" class="bl" stroke-opacity="0.55"/>
<path d="M1181.6 817.4l5.1-17.3 4.1-7.2 3.7-3.8 4.4-3.3 9.6-17.3 2.2-3 1-0.7 5.6-1.6 2.9-0.3 0.9 0.4 6.7 4.9 4.7 2.3 3.8 2.6 1.9 0.6 4.8 0.1 1.9-1.1 6.6-6.3 1.9-0.6 2.9-0.2 6.6 3 3.8 1.2 10.4-2.8 8.6 1.5 17.1 7.8 6.6 1.7 1.9 0 1.9-1 10.4-13 1-0.8 3.8-1.1 2.8-0.2 3.8 0.5 2.9-0.4 7.6 1.2 6.6 3.3 5.7 4.8 5.7 3 1.9 0 5.7-4.2 3.8-1.3 5.7 1.2 5.7 2.3 6.6 0.9 2.9-1 3.8-2.7" class="bl" stroke-opacity="0.5"/>
<path d="M1181.6 814l3.2-9.7 3.4-7.2 2.6-3.2 8.1-6.1 4.4-7.2 4.8-9.4 2.2-3.2 1.4-1.2 7.5-1.9 1.9 0.3 8.6 5.7 3.8 1.7 2.8 2 1.9 0.6 4.8 0 1.9-1.2 6.6-6.5 1.9-0.7 2.9-0.2 6.6 2.9 3.8 1.1 1.9-0.1 8.5-2.9 8.6 1.5 15.2 6.9 8.5 2.5 1.9-0.1 1.9-1.1 4.7-6.2 6.7-7.5 3.8-1.1 9.5-0.2 7.6 1.1 6.6 3.4 4.7 4.2 6.7 3.5 2.8-0.5 4.8-3.6 3.8-1.4 5.7 1.3 5.7 2.2 5.7 1 1.9-0.1 5.7-3.6" class="bl" stroke-opacity="0.75"/>
<path d="M1181.6 811.1l2.5-7.2 3.9-7.6 2.8-2.9 8.1-5.1 11.4-19.4 1.4-1.3 2.8-0.9 4.7-0.8 1.9 0.4 6.7 4.5 4.7 2.3 3.8 2.5 1.9 0.6 4.8 0 0.9-0.5 2.9-2.3 2.8-3.3 1.9-1.5 1.9-0.6 3.8-0.1 9.5 3.8 1.9-0.2 7.6-2.8 1.9 0 7.6 1.5 15.2 6.6 8.5 2.4 1.9 0 1.9-1 10.4-13 1.9-1.3 2.9-0.6 10.4-0.2 6.7 1.2 6.6 3.1 4.7 4.1 6.7 3.8 2.8-0.5 4.8-3.8 3.8-1.2 5.7 1 5.7 2.4 5.7 0.9 1.9 0 5.7-3.8" class="bl" stroke-opacity="0.6"/>
<path d="M1181.6 808.9l3.2-11.5 1.9-5 1.3-2.2 2.8-3.6 1.8-0.9 1.5-1.5 3.7-1.4 1.1-1 11.1-17.9 1.7-1.5 1.9-0.5 6.6-0.7 7.6 5.6 10.4 5.9 4.8 0.2 1.9-1.2 6.6-6.3 3.8-0.8 2.9 0.7 7.5 3.5 4.8-0.5 5.7-2.1 9.5 1.4 15.2 7.1 8.5 2.4 1.9 0 1.9-1 10.4-13 1.9-1.1 2.9-0.7 9.5-0.1 7.6 1.2 6.6 3.2 6.6 5.5 4.8 2.3 2.8-0.4 4.8-3.6 3.8-1.4 5.7 1.4 5.7 2.2 6.6 1 2.9-1.1 3.8-2.6" class="bl" stroke-opacity="0.55"/>
<path d="M1181.6 796.9l4.3-12.8 2.3-4.7 2.9-3.6 1.5-0.5 1.9-1.8 2.2-0.6 2.2-1.5 10.7-16.1 2.1-1.6 1.9-0.3 6.6 0.1 8.5 6.8 7.6 5.4 1.9 0.7 4.8 0.5 1.9-1 6.6-6 3.8-0.4 2.9 0.8 4.7 2.5 3.8 1.3 4.7-0.7 5.7-1.8 8.6 1.9 16.1 7.7 7.6 2.1 1.9 0 1.9-0.9 5.7-7.3 5.7-6.2 5.7-1.1 2.8 0.4 4.8-0.3 7.6 1.4 6.6 3.4 6.6 5.4 5.7 2.5 2.9-0.9 3.8-3.1 3.8-1.3 3.8 0.6 7.6 2.9 5.7 1 1.9 0 5.7-3.6" class="bl" stroke-opacity="0.5"/>
<path d="M1181.6 795.5l4.3-10.7 2.1-3.4 2.8-2.7 1.8-0.5 1.9-1.4 2.9-0.7 1.5-1.1 4.4-6 1.9-3.6 4.8-6.9 1.7-1.4 1.9-0.2 6.6-0.3 7.6 6.3 5.7 3.2 2.8 2.3 1.9 0.8 4.8 0.4 1.9-1.1 6.6-6.1 1.9-0.6 2.9 0.2 10.4 4.4 6.6-1.3 3.8-1.5 8.6 1.9 16.1 7.6 7.6 2.1 1.9 0 1.9-1 6.6-8.5 4.8-5.1 5.7-1.2 2.8 0.4 4.8-0.2 7.6 1.4 5.7 2.6 5.6 4.7 6.7 3.7 2.8-0.5 4.8-3.4 3.8-1.4 6.6 1.5 5.7 2.3 5.7 0.8 2.9-1 3.8-2.9" class="bl" stroke-opacity="0.75"/>
<path d="M1181.6 792.3l5.1-9.5 4.1-3.6 1.8-0.2 1.5-1.3 3.7-0.5 1.1-0.8 4.4-5.9 4.8-7.9 2.6-3.2 1-0.5 8.5-0.3 7.6 6 8.5 5.8 1.9 0.8 4.8 0.4 1.9-1.1 6.6-6.2 1.9-0.5 3.8 0.3 9.5 4.2 3.8-0.7 6.6-2.2 8.6 1.9 15.2 7 9.4 2.5 2.9-1.1 9.5-11.8 1.9-1.8 5.7-1.2 2.8 0.5 4.8-0.4 7.6 1.3 5.7 2.6 5.6 4.6 6.7 3.9 2.8-0.5 4.8-3.6 3.8-1.4 6.6 1.5 4.8 2 5.7 0.9 2.8-0.5 4.8-3" class="bl" stroke-opacity="0.6"/>
<path d="M1181.6 786.9l1.4-0.3 3.7-3.4 1.5-0.8 2.6-1 1.8 0.2 1.9-0.9 2.2 0.3 2.2-1 4-5 7.1-10.7 1.7-1.3 1.9-0.2 6.6-0.2 7.6 6 4.7 2.6 3.8 2.9 1.9 0.7 3.8 0.2 1.9-0.6 2.9-2.1 4.7-4.9 1.9-0.5 3.8 0.3 9.5 4.2 10.4-3.4 8.6 1.8 11.4 4.8 3.8 2.1 8.5 2.3 1.9 0 1.9-1.1 4.7-6.3 5.7-6.4 1.9-1.4 2.9-0.8 9.5 0.1 7.6 1.2 6.6 3.1 6.6 5.4 5.7 2.5 2.9-1.2 3.8-3.1 3.8-1.4 5.7 1.2 6.6 2.6 4.8 0.7 2.8-0.5 4.8-3.1" class="bl" stroke-opacity="0.75"/>
<path d="M1181.6 782.5l1.4-0.8 3.7-4.5 0.7-0.1 1-1.1 0.5 0.1 1.9-1.2 1.8 0.3 1.5-0.8 3.7 0 1.1-0.6 4.4-5.3 4.8-7.5 2.6-3.1 1-0.5 8.5 0.1 7.6 6.4 4.7 2.8 3.8 3.1 1.9 0.8 4.8 0.4 0.9-0.4 7.6-6.7 3.8-0.7 1.9 0.4 5.7 3 3.8 1.2 4.7-0.9 5.7-1.9 8.6 1.8 17.1 8 8.5 1.7 1.9-1.1 10.4-12.8 1.9-1.2 2.9-0.6 9.5-0.1 7.6 1.2 5.7 2.8 5.6 4.6 5.7 3.4 1.9 0.5 1.9-0.6 4.8-3.7 3.8-1.2 5.7 1 5.7 2.5 6.6 0.9 2.9-1 3.8-2.7" class="bl" stroke-opacity="0.5"/>
<path d="M1181.6 781.4l1.4-0.3 3.7-3.6 1.7-0.7 2.4-0.8 1.8 0.5 1.9-0.8 3.3 0.2 1.1-0.6 4.4-5.2 5.2-7.7 2.2-2.6 1-0.5 8.5 0.3 7.6 6.5 4.7 2.6 3.8 3.2 2.9 0.9 2.8 0.3 1.9-0.5 7.6-6.7 3.8-0.7 2.9 0.9 6.6 3.3 1.9 0.4 1.9-0.1 8.5-2.5 4.8 0.8 6.6 2 12.4 5.7 9.4 2.7 1 0 1.9-1.1 5.7-7.5 5.7-6.2 5.7-1.2 2.8 0.3 6.7-0.3 5.7 1.3 6.6 3.1 6.6 5.4 4.8 2.4 2.8-0.6 4.8-3.7 3.8-1.2 6.6 1.6 4.8 1.9 5.7 1 2.8-0.6 4.8-3.2" class="bl" stroke-opacity="0.55"/>
<path d="M1181.6 777.2l1.4-0.7 3.7-4.8 1.5-1.2 0.7 0 1.9-1.4 1.8 0.1 1.9-1 1.4 0.4 3-0.8 4.4-5.4 4.8-7.2 1.9-2.1 1.7-1.2 8.5 0.6 7.6 6.8 9.5 6.7 5.7 0.9 1.9-0.8 6.6-6 1.9-0.5 2.9 0.1 6.6 3.4 3.8 1.4 1.9-0.1 8.5-2.3 4.8 0.9 5.7 1.9 14.2 6.8 7.6 2.3 1.9 0.1 1.9-1.1 4.7-6.2 6.7-7.4 5.7-1 7.6 0.2 7.6 1.3 5.7 2.6 6.6 5.5 5.7 3 2.8-0.5 4.8-3.5 3.8-1.3 6.6 1.5 4.8 2 6.6 1.1 1.9-0.6 4.8-3.1" class="bl" stroke-opacity="0.5"/>
<path d="M1181.6 776.6l1.4 0.2 3.7-3.3 0.5 0.1 0.8-0.7 2.8-1.1 1.8 0.3 1.9-0.7 2.9 0.4 1.5-0.6 4-4.7 2.3-3.7 4.8-6.4 1.7-1.1 1.9-0.2 6.6 0.4 7.6 6.3 8.5 6.2 1.9 0.7 4.8 0.4 1.9-0.9 6.6-6.1 1.9-0.5 2.9 0 10.4 4.6 1.9-0.1 7.6-2.5 5.7 0.8 3.8 1 16.1 7.6 7.6 2.1 1.9 0 1.9-1.1 6.6-8.4 4.8-5.1 3.8-1 9.5 0 7.6 1.4 6.6 3.2 6.6 5.3 5.7 2.5 1.9-0.5 4.8-3.6 3.8-1.2 6.6 1.5 4.8 2 6.6 1.1 1.9-0.5 4.8-3.4" class="bl" stroke-opacity="0.6"/>
<path d="M1181.6 767.2l1.4 2.6 2.2 1.4 5.6 0.8 1.8 0.9 1.9-0.1 1.4 0.8 2.6-0.2 1.5-1 3.3-3.8 7.4-9.9 1-0.3 7.5 0.5 1 0.1 1.9 1.4 5.7 5.3 7.6 5.3 2.8 1.5 4.8 0.4 0.9-0.4 5.7-5.2 1.9-1.4 1.9-0.6 3.8 0.2 5.7 2.9 3.8 1.3 1.9-0.1 4.7-1.3 2.9-1.3 1.9-0.2 7.6 1.7 17.1 7.9 7.5 1.6 1 0 1.9-1.1 11.4-13.7 5.7-1.2 7.6 0.1 7.6 1.3 4.7 2.1 6.6 5.2 6.7 3.5 2.8-0.5 4.8-3.4 3.8-1.3 3.8 0.5 7.6 2.8 5.7 0.9 2.8-0.6 4.8-3.1" class="bl" stroke-opacity="0.75"/>
<path d="M1181.6 764.3l1.4 2.9 1.4 1.5 6.4 1 1.8 1.1 1.9-0.4 1.4 0.7 1.9 0.2 1.8-0.9 1.1-1 10-12.9 1-0.4 7.5 0.5 1 0.1 2.8 2 6.7 6 2.8 1.5 3.8 3 1.9 0.7 4.8 0.7 3.8-2.7 4.7-4.6 3.8-0.5 1.9 0.5 5.7 3 3.8 1.2 3.8-0.6 5.7-2 7.6 1.2 12.3 5.1 5.7 3 8.5 2 1 0 1.9-1.1 4.7-6.1 6.7-7.5 2.8-0.9 2.9-0.3 7.6 0.1 7.6 1.4 4.7 2.2 8.5 6.4 4.8 2.4 2.8-0.4 4.8-3.7 3.8-1.3 6.6 1.3 4.8 2.2 6.6 1.1 1.9-0.6 4.8-3.2" class="bl" stroke-opacity="0.6"/>
<path d="M1181.6 758.6l1.4 4.2 2 2.9 1.7 0.4 0.7 0.8 3.4 0.5 1.8 1.1 1.9 0 2.2 0.8 1.1 0.1 2.2-1.1 10-12.6 1.7-0.9 1.9 0 6.6 0.8 7.6 6.5 8.5 6.3 1.9 0.7 4.8 0.7 1.9-1.1 4.7-4.5 1.9-1.4 1.9-0.5 2.9 0.1 1.9 0.6 4.7 2.6 3.8 1.2 6.6-1.4 3.8-1.3 8.6 1.9 15.2 7.2 8.5 2.6 1.9 0.1 1.9-1.2 10.4-12.8 1.9-1.2 2.9-0.5 9.5 0 7.6 1.1 6.6 3.2 6.6 5.5 5.7 2.5 2.9-1.1 3.8-3.1 3.8-1.4 6.6 1.6 4.8 2.1 5.7 0.9 1.9 0 5.7-3.6" class="bl" stroke-opacity="0.5"/>
<path d="M1181.6 758.3l1.4 4.5 2.2 3.3 4.1 2.6 1.5 0.3 1.8 1.5 1.5-0.1 1.8 1.1 1.9 0.3 2.2-0.9 9.6-12 1.1-1 1-0.2 8.5 0.7 7.6 6.9 4.7 2.6 3.8 3.2 1.9 0.8 4.8 0.5 2.8-1.7 5.7-5.4 1.9-0.5 2.9-0.1 6.6 3.4 3.8 1.2 1.9-0.1 8.5-2.6 8.6 1.6 15.2 7 8.5 2.6 1.9 0.1 1.9-1.1 7.6-9.7 3.8-4 5.7-1.3 2.8 0.5 4.8-0.5 7.6 1.4 6.6 3.3 6.6 5.2 5.7 2.5 1.9-0.5 4.8-3.6 3.8-1.4 6.6 1.5 4.8 2.1 6.6 0.8 1.9-0.5 4.8-3.2" class="bl" stroke-opacity="0.55"/>
<path d="M1181.6 753.2l1.4 4.5 2 3.2 2.4 2.1 3.4 1.5 1.8 1.4 1.9 0.1 1.4 1.1 2.6 0.2 1.5-0.6 3.3-3.4 4.8-6.5 1.9-1.9 1.7-0.8 8.5 1.4 7.6 7.1 8.5 6.5 2.9 1.2 3.8 0.5 1.9-1.1 6.6-5.6 1.9-0.6 1.9 0.1 2.9 0.8 4.7 2.6 3.8 1.3 3.8-0.4 6.6-2.1 8.6 1.7 16.1 7.7 7.6 2.2 1.9 0 1.9-1.1 5.7-7.4 5.7-6.3 3.8-1 10.4 0 6.7 1.3 6.6 3.2 6.6 5.4 4.8 2.3 2.8-0.6 4.8-3.5 1.9-1 1.9-0.3 3.8 0.6 7.6 2.9 6.6 0.9 1.9-0.5 4.8-3.2" class="bl" stroke-opacity="0.5"/>
<path d="M1181.6 746.4l1.4 6.4 1.6 4.1 2.8 2.3 0.6-0.2 0.9 0.8 1.9 0.3 1.8 1.2 1.5-0.2 1.8 0.9 2.2 0.3 1.2-0.4 4-3.9 1.5-2.4 5.2-5.9 1.7-0.9 8.5 1.8 7.6 7.3 4.7 3.4 3.8 3.5 1.9 0.8 4.8 0.9 1.9-1.1 6.6-5.5 3.8-0.4 11.4 5 2.8-0.2 7.6-2 8.6 1.9 15.2 7.4 8.5 2.6 1.9 0.1 1.9-1 6.6-8.5 4.8-5 5.7-1.2 7.6 0.2 7.6 1.4 6.6 3.2 5.7 4.8 5.7 3 1.9 0.1 5.7-4 3.8-1.2 6.6 1.4 4.8 2 5.7 1.1 1.9-0.1 5.7-3.6" class="bl" stroke-opacity="0.6"/>
<path d="M1181.6 747.3l1.4 5.1 1.4 3.4 3 3.7 5.2 4.2 5.2 2.2 2.9-1.3 2.6-2.7 4.8-6.4 3.6-2.7 8.5 1.4 7.6 7.4 4.7 3.2 3.8 3.3 1.9 0.9 4.8 0.6 3.8-2.4 4.7-4.1 3.8-0.5 11.4 4.8 4.7-0.6 4.8-1.7 9.5 1.8 16.1 7.7 7.6 2.1 1.9 0.1 1.9-1.1 4.7-6.3 6.7-7.3 5.7-1.3 4.7 0.5 2.9-0.2 7.6 1.1 6.6 3.2 5.7 4.8 6.6 3.2 1.9-0.6 4.8-3.6 3.8-1.4 6.6 1.6 4.8 1.9 3.8 0.9 3.8-0.1 5.7-3.5" class="bl" stroke-opacity="0.75"/>
<path d="M1181.6 746.2l1.4 10.2 1.4 5.9 1.3 2.9 3.2 3.5 3.7 2.8 1.5 0.2 1.8 1.4 1.9 0.7 2.2-0.7 3.3-3.1 1.9-2.8 4-4.6 2.5-1.6 8.5 1.1 7.6 6.8 4.7 2.9 3.8 3.2 1.9 0.8 4.8 0.3 0.9-0.3 2.9-2.2 2.8-3.1 1.9-1.4 1.9-0.5 3.8 0.2 5.7 2.8 3.8 1.3 4.7-1 4.8-1.8 1.9-0.1 7.6 1.7 16.1 7.2 9.5 2 1.9-1.1 4.7-6.3 6.7-7.6 5.7-1.2 9.5 0.2 5.7 1 6.6 3 6.6 5.3 4.8 2.5 2.8-0.6 4.8-3.6 3.8-1.3 6.6 1.3 4.8 2.1 6.6 0.9 1.9-0.6 4.8-3.2" class="bl" stroke-opacity="0.5"/>
<path d="M1181.6 786.7l5.1-7.3 1.5-1.4 2.6-1.7 1.8-0.1 1.5-0.9 2.6-0.2 2.2-0.9 4.4-5.6 5.2-8.2 2.2-2.6 1-0.5 8.5 0 7.6 6.3 4.7 2.7 3.8 3 1.9 0.8 4.8 0.4 1.9-1 6.6-6.1 3.8-0.6 2.9 0.8 4.7 2.5 3.8 1.3 1.9-0.1 8.5-2.6 8.6 1.8 15.2 7.1 8.5 2.5 1.9 0.1 1.9-1.1 7.6-9.6 3.8-4 5.7-1.2 2.8 0.4 4.8-0.3 7.6 1.3 6.6 3.2 4.7 4.2 6.7 3.7 2.8-0.5 4.8-3.6 3.8-1.3 6.6 1.5 4.8 2 6.6 1 1.9-0.6 4.8-3.1" class="or"/>
</g>
<rect x="1171.1" y="712.9" width="239.5" height="135.6" class="sp"/>
<path d="M1181.7 848.5v14M1290.6 848.5v14M1399.6 848.5v14M1171.1 745.9h-15M1171.1 800.8h-15" class="tk"/>
<text transform="translate(266.4,943.7) rotate(-90)" text-anchor="middle" class="lab">Profile 60</text>
<text transform="translate(295.5,943.7) rotate(-90)" text-anchor="middle" class="lab">Temp. /°C</text>
<text x="357" y="913.2" text-anchor="end" class="lab">100</text>
<text x="357" y="977.0" text-anchor="end" class="lab">0</text>
<path d="M391.6 875.9V1011.5M446.1 875.9V1011.5M500.6 875.9V1011.5M555.0 875.9V1011.5M609.5 875.9V1011.5M381.0 903.9H620.5M381.0 967.7H620.5" class="grid"/>
<clipPath id="cp40"><rect x="381.0" y="875.9" width="239.5" height="135.6"/></clipPath>
<g clip-path="url(#cp40)">
<path d="M391.6 881.9l2 5 4.2 6.6 0.9 2.4 1.5 1.3 2.8 4.1 1.3 0.9 1.6 2.1 6.4 4.4 15.3 8.3 2 0.6 11.3 5.6 3 0.3 5.1 1.5 11.3 0.9 10.2-1.2 5.1-1.6 6.2-0.7 4 0.3 11.3-0.4 6.1-1.2 2.1-0.9 5.1-4.2 5.1-0.8 5.1-0.1 4.1 0.5 7.1-0.1 20.5-4 6.1 0.8 11.2 0.3 17.4 2.6 4.1 1.4 18.4 2.4" class="bl" stroke-opacity="0.55"/>
<path d="M391.6 884.4l2 3.5 4.2 4.8 0.9 2.2 1.7 1.3 4.8 5.6 0.9 0.3 3.1 2.6 16.3 8.7 15.4 7.4 3 0.4 5.1 1.5 11.3 1 7.1-0.5 11.3-2.3 18.4 0 7.1-1.7 6.2-4.6 6.1-0.8 15.3 0.7 11.3-1.9 1-0.6 8.2-1.5 10.2 1 5.1-0.1 19.4 2.8 4.1 1.5 18.4 2.6" class="bl" stroke-opacity="0.55"/>
<path d="M391.6 887.3l2 3.6 0.4-0.1 2.2 3.3 1.6 1.3 0.9 2 3.4 2.9 0.9 1.5 5.2 3.6 7.1 3.7 7.2 3 5.1 2.9 2 0.4 4.1 2.5 4.1 1.3 4.1 2 2 0 5.1 1.6 11.3 1 10.2-0.9 5.1-1.5 5.1-0.5 8.2 0.5 8.2-0.1 3-0.9 3.1-0.2 2.1-1.1 5.1-4.1 5.1-0.7 10.2 0.4 4.1-0.2 2 0.4 20.5-3.8 3 0.4 13.3 0.4 18.4 2.8 5.1 1.9 6.2 0.4 7.1 1.4 4.1 0.2" class="bl" stroke-opacity="0.55"/>
<path d="M391.6 889.9l0.8 2.4 0.8 0.3 1.5 2.9 3.1 3.5 0.9 2 1.3 0.6 3 3.9 0.9 0.2 1.5 1.6 0.5 0.3 0.2-0.3 5.1 3.4 11.3 4.7 11.2 5.4 8.2 3.1 2-0.1 5.1 1.6 12.3 0.5 7.2-0.6 7.1-2 2.1 0.1 4.1-0.8 15.3 0.1 7.1-1.6 6.2-4.7 8.1-1 15.4 0.4 4.1-1.2 5.1-0.4 9.2-2.2 19.4 1.3 14.3 2.2 6.1 1.9 10.2 1.2 2.1 0.8 5.1 0.2" class="bl" stroke-opacity="0.55"/>
<path d="M391.6 892.9l2 4.8 2.6 4.1 1.6 1.9 0.9 2.1 3.4 3.4 0.9 1.6 1.3 0.6 1.1 1.4 0.7 0.1 6.2 3.8 10.2 3.7 5.1 2.4 2 0.4 12.3 4.4 2-0.3 5.1 1.1 3.1-0.3 8.2 0.4 10.2-1.9 5.1-1.6 6.2-0.9 15.3-0.5 6.1-1.3 2.1-1 4-3.8 1.1-0.5 5.1-0.9 7.1-0.2 2.1 0.4 7.1 0.1 11.3-2 9.2-2.1 3 0.6 12.3 0.2 13.3 1.7 6.1 1 5.1 1.9 9.2 0.8 8.2 1.2" class="bl" stroke-opacity="0.75"/>
<path d="M391.6 895.8l0.8 2 0.8 0.1 0.4 1.4 0.4-0.1 2.2 2.8 1.6 1 0.9 1.9 1.3 0.4 0.8 1 1.3 0.6 0.9 1.4 1.3 0.2 0.9 1 6 2.5 11.3 3.4 18.4 7.4 3 0.2 5.1 1.5 3.1-0.2 2.1 0.5 6.1 0.3 7.1-0.5 14.4-2.6 15.3 0.2 3-0.9 3.1-0.2 2.1-1.1 5.1-4.2 5.1-0.7 16.3 0.7 20.5-4 19.4 1.4 15.3 2.3 5.1 1.8 3.1 0 9.2 1.8 5.1 0.4" class="bl" stroke-opacity="0.5"/>
<path d="M391.6 898.6l0.8 1.5 0.8 0.2 1.5 2.1 3.1 2.2 0.9 1.7 1.5 0.5 0.8 0.9 1.1 0.4 0.9 1.4 2.6 1.4 0.5-0.3 5.1 2.5 11.3 3 18.4 7.1 8.1 1.4 11.3 0.8 10.2-1.3 5.1-1.6 3.1-0.3 10.2 0.2 4.1-0.6 4.1 0.2 4.1-1.2 2 0 2.1-1 5.1-4.1 8.1-0.8 13.3 0.5 7.2-1.3 4.1-0.3 2-1 7.2-1.3 11.2 1.1 4.1-0.3 10.2 1.9 3.1 0 5.1 0.9 6.1 1.8 9.2 1 4.1 1.1 4.1 0.2" class="bl" stroke-opacity="0.5"/>
<path d="M391.6 902.7l0.8 1.6 0.8 0.1 3 3.4 1.6 0.5 0.9 1.8 1-0.1 3.3 2.8 1.3 0.1 1.1 1.2 0.7-0.4 3.1 1.3 8.2 1.7 12.2 3.4 4.1 1.9 7.2 2.2 4.1 0.2 4 1.1 13.3 0 8.2-1.1 5.1-1.5 5.1-0.7 16.4-0.2 7.1-1.7 6.2-4.6 11.2-1 3.1 0.6 5.1-0.2 2 0.4 7.2-1.6 4.1-0.4 5.1-1.6 4.1-0.4 22.5 1.6 12.2 2 4.1 1.5 4.1 0.1 10.2 2.2 4.1 0.1" class="bl" stroke-opacity="0.5"/>
<path d="M391.6 906.4l0.8 1.7 0.8 0.3 3 3.6 1.6 1 0.9 1.7 1.5 0.6 0.8 1.1 1.1 0.3 0.9 1.3 1.3 0.4 1.1 1 0.7-0.3 5.1 1.9 11.3 2.1 5.1 1.8 2 0 11.3 3 3-0.2 5.1 0.9 3.1-0.6 8.2 0.2 10.2-2 5.1-1.9 5.1-1.1 16.4-0.5 3-1.1 3.1-0.3 2.1-1 4-3.8 6.2-1.5 6.1-0.1 10.2 0.5 6.2-1.4 5.1-0.5 9.2-2.4 3 0.5 14.3 0.6 17.4 2.5 5.1 1.7 9.2 1.1 3.1 0.9 5.1 0.2" class="bl" stroke-opacity="0.75"/>
<path d="M391.6 910.3l0.8 1.1 0.8-0.3 1.5 1.5 0.3-0.4 2.3 1.4 0.5-0.3 0.9 1.6 1.5-0.3 3.2 1.9 0.5-0.3 1.5 0.7 12 0.9 5.1 0.9 5.1 1.6 3.1 0.3 10.2 3.3 3 0 4.1 0.8 4.1-0.3 8.2 0.6 10.2-1.4 5.1-1.5 5.1-0.8 16.4 0 7.1-1.7 6.2-4.5 8.1-0.9 13.3 0.7 6.2-1.4 5.1-0.5 9.2-2 15.3 0.9 13.3 1.8 12.2 2.8 16.4 2.2" class="bl" stroke-opacity="0.6"/>
<path d="M391.6 914.3l0.8 1.3 0.8-0.4 0.4 1.2 0.4-0.4 0.7 0.9 0.5-0.2 1 0.9 1.8 0.3 0.7 1.2 3.4 0.4 0.9 0.9 1.3-0.2 1.1 0.7 0.7-0.5 2.1 0.6 14.3 0.4 5.1 1.4 3.1 0 10.2 2.9 3-0.2 5.1 0.8 11.3 0 10.2-1.6 5.1-1.7 1 0.2 5.2-1.1 4 0.3 11.3-0.6 6.1-1.3 2.1-0.9 4-3.7 1.1-0.5 6.1-0.9 5.1-0.1 3.1 0.5 7.1 0 11.3-1.6 9.2-2.3 5.1 0.8 10.2 0.2 9.2 1.1 10.2 1.7 4.1 1.4 18.4 2.5" class="bl" stroke-opacity="0.75"/>
<path d="M391.6 918.1l0.8 1 0.8-0.2 0.4 0.6 0.4-0.3 0.7 0.9 0.3-0.4 1.2 0.9 1.4 0.2 0.2-0.4 0.9 1.3 1.3-0.4 1 0.8 1.1-0.4 0.9 0.9 1.3-0.4 0.9 0.7 0.9-0.4 5.1 0.4 6.2-0.7 5.1 0.4 7.1 1.1 11.3 2.7 3-0.2 5.1 0.8 3.1-0.5 8.2 0.2 10.2-1.7 5.1-1.8 3.1-0.5 18.4-0.7 6.1-1.2 2.1-1 5.1-4.1 8.1-1 13.3 0.7 20.5-3.9 3 0.4 14.3 0.5 16.4 2.4 5.1 1.6 10.2 1.3 4.1 1.1 4.1 0.1" class="bl" stroke-opacity="0.55"/>
<path d="M391.6 921.9l0.8 1 0.8-0.3 1.5 1.3 0.3-0.3 2.3 1 0.5-0.4 0.9 1.3 1.7-0.1 0.7 0.6 1-0.3 0.9 1 1.3-0.5 1.1 0.6 0.7-0.5 2.1 0.4 5.1-0.6 9.2-0.1 5.1 0.9 2-0.1 4.1 1.1 8.2 1.3 2-0.4 4.1 0.7 12.3-0.5 20.4-4.7 16.4-0.4 3-1.2 3.1-0.3 7.2-5.2 5.1-0.9 6.1-0.2 10.2 0.5 20.5-4 3 0.6 14.3 0.4 17.4 2.7 5.1 1.5 9.2 0.9 4.1 1.2 4.1 0.3" class="bl" stroke-opacity="0.5"/>
<path d="M391.6 926.5l0.8 1.2 0.8-0.3 1.5 1.4 0.3-0.3 0.8 0.6 0.7-0.2 0.9 0.6 0.4-0.4 0.9 1.2 1.7-0.3 0.6 0.6 1.1-0.3 0.9 0.8 1.3-0.5 1.6 0.4 0.2-0.3 3.1 0 5.1-0.9 7.2-0.5 6.1 0.6 2-0.4 4.1 0.8 4.1 0.1 4.1 1.1 2-0.7 4.1 0.3 5.1-0.6 7.2 0 9.2-2.2 6.1-2.4 3.1-0.5 8.2-0.8 10.2-0.3 6.1-1.6 2.1-1 4-3.6 5.2-1.4 8.1-0.4 9.2 0.5 6.2-1.5 5.1-0.4 6.1-1.9 3.1-0.5 3 0.6 14.3 0.4 17.4 2.6 5.1 1.7 6.2 0.5 7.1 1.4 4.1 0.1" class="bl" stroke-opacity="0.5"/>
<path d="M391.6 948.3l0.5-0.4 0.3 0.5 0.8-1.2 0.4 0.3 0.4-0.8 2.9-1.3 0.9-1 0.9 0.5 1.5-1.5 0.8 0.2 1.1-0.8 0.9 0.2 1.3-1.1 1.1-0.2 0.7-0.9 7.2-3.8 4.1-1.9 5.1-1.6 7.1-1.2 6.2-0.3 6.1 0.4 2-0.8 4.1 0 4.1-1.1 8.2-0.8 15.3-4.8 6.2-1.4 15.3-1 6.1-1.3 2.1-1.2 5.1-4.2 5.1-1 7.1-0.3 9.2 0.5 11.3-2.1 9.2-2.3 9.2 1 8.1 0.2 17.4 2.7 5.1 1.5 6.2 0.5 6.1 1.5 5.1 0.3" class="bl" stroke-opacity="0.55"/>
<path d="M391.6 953.9l0.5-0.2 0.3 0.4 0.8-1 1.5 0 0.3-0.7 1.2-0.2 1.6-1.7 0.9 0.5 1-1.3 1.3-0.4 1.1-1 0.9 0 3.1-2.5 8.2-5.2 3.1-1.7 5.1-1.9 7.1-1.9 4.1-0.1 3.1-0.6 5.1 0.1 1-0.5 5.1-0.4 4.1-1.1 8.2-1.1 10.2-3 5.1-2.2 5.1-1.2 8.2-0.5 4.1-0.8 4.1 0.1 6.1-1.6 2.1-1 4-4 6.2-1.4 16.3 0.3 20.5-4.6 3 0.7 16.4 0.8 15.3 2.2 5.1 1.7 9.2 1 4.1 0.9 4.1 0.1" class="bl" stroke-opacity="0.6"/>
<path d="M391.6 958.1l0.5-0.3 0.3 0.3 0.8-1 0.4 0.1 1.4-1.3 1.2-0.2 1.6-1.8 0.9 0.5 1.5-1.6 0.9-0.2 1-0.9 1.3-0.2 0.9-1 0.9-0.2 0.9-1 11.3-7.3 5.1-2.2 5.1-1.1 2-0.9 12.3-1 2-0.8 5.1-0.4 7.2-2 4.1-0.3 10.2-3.3 8.2-3.2 18.4-1.8 7.1-2.2 6.2-5 3-0.5 9.2-0.8 6.2 0.5 3-0.2 5.1-1.3 6.2-0.7 1-0.5 8.2-1.8 3 0.5 16.4 0.8 10.2 1.7 5.1 0.4 4.1 1.6 7.2 0.7 6.1 1.3 5.1 0.3" class="bl" stroke-opacity="0.5"/>
<path d="M391.6 962.7l0.4-0.5 0.4 0.2 0.8-1.4 0.4 0.3 0.4-1.2 2.2-1.5 1.6-2.3 0.9 0.3 3-3.6 1.3-0.3 1.3-1.6 1.1-0.4 0.7-1.2 3.1-2 4.1-3.6 4.1-2.9 5.1-2.5 5.1-1.3 2-1.1 12.3-1 2-1 4.1 0 4.1-1.4 8.2-1.1 10.2-3 5.1-2.4 3.1-0.8 17.4-1.5 5.1-1.5 2-0.1 2.1-0.9 3-3.2 2.1-1.3 5.1-0.9 6.1-0.4 10.2 0.4 11.3-2 9.2-2.3 6.1 0.7 9.2 0.1 8.2 1 11.2 1.9 5.1 1.6 17.4 2.2" class="bl" stroke-opacity="0.55"/>
<path d="M391.6 967.7l0.5-0.4 0.3 0.4 0.8-1.6 0.4 0.2 1.1-1 3.1-3.7 0.9 0 1.3-1.9 2.1-1.8 0.9 0 3.1-3.5 7.2-6.2 9.2-6 7.1-2.9 8.2-1.6 4.1-0.3 2-0.9 4.1-0.6 5.1-1.6 7.2-1.2 3.1-1.4 7.1-2 5.1-2.6 6.2-1.4 15.3-1.4 6.1-1.5 2.1-1.2 5.1-4.4 5.1-1 6.1-0.3 10.2 0.4 11.3-2.1 2-0.9 7.2-1.4 3 0.6 16.4 0.6 15.3 2.3 5.1 1.7 6.2 0.5 7.1 1.5 4.1 0.1" class="bl" stroke-opacity="0.75"/>
<path d="M391.6 973.1l0.5-0.8 0.3 0.3 0.8-1.8 0.4 0.1 1.1-1.3 3.1-5.1 0.9 0 1.3-2.3 1-0.5 1.1-1.8 0.9-0.2 1.3-1.9 5.9-6.4 7.2-6.7 5.1-3.1 8.2-3.2 11.2-1.7 2-0.8 5.1-0.6 4.1-1.4 7.2-1.2 18.4-6.5 13.3-1.6 3 0 8.2-1.8 2.1-1.1 5.1-4.4 6.1-1 5.1-0.2 3.1 0.4 7.1-0.1 11.3-2 9.2-2.2 9.2 1 10.2 0.1 15.3 2.4 4.1 1.5 18.4 2.5" class="bl" stroke-opacity="0.75"/>
<path d="M391.6 976.9l6.2-8.7 0.9-0.2 1.5-2.5 2.8-2.1 3.1-3.9 11.3-10.8 5.1-3.3 8.2-4 11.2-2.4 2-1.1 16.4-4.2 9.2-3.3 6.1-2.9 3.1-1 13.3-2 3-0.1 8.2-2 7.2-5.6 6.1-1.1 15.3 0 6.2-1.4 5.1-0.6 9.2-2.5 5.1 0.7 12.2 0.4 17.4 2.5 5.1 1.7 9.2 0.9 4.1 1 4.1 0.2" class="bl" stroke-opacity="0.55"/>
<path d="M391.6 982.1l0.4-0.5 0.4 0.2 0.8-1.6 0.4 0 1.1-1.1 3.1-4.6 0.9-0.3 1.5-2.5 1.9-2.2 0.9-0.2 1.3-2.2 1.1-0.8 4.8-6.1 7.2-7.3 5.1-3.8 7.1-4.1 6.2-2.1 6.1-1.2 2-1.2 5.1-1.1 3.1-1.5 8.2-2.3 9.2-3.4 9.2-4.1 18.4-2.5 3-1.2 3.1-0.5 2.1-1.1 5.1-4.6 9.2-1.4 12.2 0.1 11.3-2.1 2-0.8 7.2-1.6 17.3 1 13.3 1.8 5.1 0.9 4.1 1.4 9.2 0.9 3.1 1 5.1 0.3" class="bl" stroke-opacity="0.6"/>
<path d="M391.6 985.6l8.6-15.6 1.9-2.7 0.9-0.6 4.1-6.5 7.2-9 3.1-3.1 5.1-3.9 7.1-4 7.2-2.3 5.1-0.7 2-1.2 16.4-4 18.4-6.5 18.4-2.1 6.1-1.5 2.1-1.1 5.1-4.3 6.1-1.2 15.3 0.1 5.1-1.3 6.2-0.7 9.2-2.2 20.4 1.3 14.3 2.1 5.1 1.8 6.2 0.4 5.1 1.3 6.1 0.5" class="bl" stroke-opacity="0.75"/>
<path d="M391.6 989.1l6.2-11.4 0.9-0.5 1.3-2.6 2.1-3 0.9-0.5 3.1-5 11.3-13.4 5.1-4.4 8.2-4.7 5.1-1.8 6.1-1.4 2-1.2 5.1-1.2 3.1-1.5 8.2-1.9 10.2-3.9 5.1-2.6 6.2-1.7 13.2-1.2 8.2-2.1 2.1-1.1 5.1-4.4 11.2-1.5 7.2 0.3 5.1-0.4 9.2-1.6 1-0.6 8.2-1.7 19.4 1.3 15.3 2.3 4.1 1.3 10.2 1.2 4.1 1.2 4.1 0.1" class="bl" stroke-opacity="0.75"/>
<path d="M391.6 993.1l4.6-6.8 1.6-3.2 0.9-0.3 1.3-2.6 1-0.7 1.1-2 0.9-0.5 3.1-4.8 11.3-13.4 5.1-4.3 7.1-4.7 7.2-2.9 5.1-1.5 2-1.4 5.1-1.5 7.2-3.2 4.1-1 18.4-8.4 13.3-2.7 5.1-0.3 3-1.4 3.1-0.6 2.1-1.1 5.1-4.6 8.1-1.5 15.4-0.5 5.1-1.3 4.1-0.5 9.2-2.5 3 0.5 12.3 0.1 8.2 1.3 5.1 0.3 11.2 2.8 17.4 2.1" class="bl" stroke-opacity="0.6"/>
<path d="M391.6 995.8l6.2-13.4 0.9-0.8 1.5-3.4 6.9-11.5 7.2-10 3.1-3.6 5.1-4.7 7.1-4.6 6.2-2.4 6.1-1.4 2-1.2 5.1-1.2 7.2-2.6 4.1-0.7 3.1-1.4 7.1-2.3 5.1-2.4 5.1-1.5 12.3-1.4 2 0.1 8.2-2.1 2.1-1.1 5.1-4.5 5.1-0.8 7.1-0.4 3.1 0.4 6.1 0 6.2-1.5 5.1-0.6 9.2-2.3 3 0.6 5.1-0.2 4.1 0.6 5.1 0 14.4 1.9 8.1 2.3 9.2 0.9 4.1 1.1 4.1 0.2" class="bl" stroke-opacity="0.75"/>
<path d="M391.6 998.4l0.8-0.8 0.8-2 1.5-1.8 3.1-5.8 0.9-0.7 1.5-3 2.8-3.5 4.1-7 10.3-13.2 5.1-5 7.1-4.9 6.2-2.9 5.1-1.5 3-2.1 5.1-1.3 3.1-1.7 8.2-2.9 18.4-8.3 3.1-1 4-0.3 6.2-1.3 4.1-0.2 7.1-2.2 2.1-1.2 4-3.9 6.2-1.8 6.1-0.5 10.2 0.3 20.5-4.8 15.3 0.7 19.4 2.6 5.1 1.7 9.2 0.8 4.1 1.2 4.1 0.2" class="bl" stroke-opacity="0.5"/>
<path d="M391.6 992.1l0.4-0.8 0.4-0.1 0.8-2 1.5-2 3.1-6.1 0.9-0.4 3-5.4 1.3-1.1 3.1-5.2 11.3-14.2 5.1-4.3 7.1-4.5 6.2-2.5 5.1-1.2 3-1.5 5.1-1.2 4.1-2 7.2-1.8 18.4-7.5 14.3-2.3 4.1-0.1 3-1.2 3.1-0.6 2.1-1.1 4-3.9 6.2-1.7 7.1-0.3 9.2 0.4 20.5-4.6 3 0.7 5.1-0.1 11.3 0.7 15.3 2.3 5.1 1.6 9.2 0.9 4.1 1.2 4.1 0.1" class="bl" stroke-opacity="0.6"/>
<path d="M391.6 944.4l0.4-0.3 0.4 0.7 0.8-0.8 0.4 0.5 0.4-0.5 0.7 0.3 0.3-0.5 2.6-0.6 0.2-0.4 0.9 0.7 1.5-1 0.8 0.2 1.1-0.7 0.9 0.4 1.3-0.9 1.1 0 0.7-0.8 11.3-4.5 5.1-1.3 5.1-0.2 2-0.6 12.3 0.4 2-0.7 5.1 0 3.1-0.9 8.2-0.7 10.2-2.8 8.2-2.7 16.3-1.3 8.2-1.7 2.1-1.1 5.1-4.3 5.1-0.9 6.1-0.3 10.2 0.4 11.3-2 9.2-2.2 3 0.5 14.3 0.5 17.4 2.6 5.1 1.6 17.4 2.2" class="or"/>
</g>
<rect x="381.0" y="875.9" width="239.5" height="135.6" class="sp"/>
<path d="M391.6 1011.5v14M446.1 1011.5v14M500.6 1011.5v14M555.0 1011.5v14M609.5 1011.5v14M381.0 903.9h-15M381.0 967.7h-15" class="tk"/>
<text x="391.6" y="1054.2" text-anchor="middle" class="lab">0</text>
<text x="446.1" y="1054.2" text-anchor="middle" class="lab">15</text>
<text x="500.6" y="1054.2" text-anchor="middle" class="lab">30</text>
<text x="555.0" y="1054.2" text-anchor="middle" class="lab">45</text>
<text x="609.5" y="1054.2" text-anchor="middle" class="lab">60</text>
<text x="500.6" y="1090.5" text-anchor="middle" class="lab">Time in minutes</text>
<path d="M655.0 875.9V1011.5M763.9 875.9V1011.5M872.9 875.9V1011.5M644.4 903.9H883.9M644.4 967.7H883.9" class="grid"/>
<clipPath id="cp41"><rect x="644.4" y="875.9" width="239.5" height="135.6"/></clipPath>
<g clip-path="url(#cp41)">
<path d="M655 886.4l2.4 16.5 3.3 13 2.6 5.3 3.3 4.6 3.7 2.4 2.6 0.3 2.2 1.5 1.1-0.3 1.9 0.6 0.7-0.4 3 0.7 1.8-0.3 25.1 2.2 4.7-0.7 1.9 0.4 2.9-0.5 13.3 0.1 4.7-0.7 5.7 0.6 6.6-0.7 4.8 1.1 5.7 0.4 16.1 2.8 2.9-0.3 2.8 0.8 2.8 0.1 8.6-2.8 4.7-0.9 5.7-3 6.7-2.4 2.8-0.5 1-0.8 0.9 0 1.9-1.2 1.9-0.3 3.8-1.9 6.6-0.5 4.8-1.4 10.4-1.1 10.5-3.5 2.8-0.4 6.7-0.3 9.4 1.2" class="bl" stroke-opacity="0.5"/>
<path d="M655 1001.4l1.8-11.3 1.9-8.1 2.8-8.8 2.6-5.1 5.5-7.4 0.7-0.3 3-3.5 1.8-0.6 3.7-3.5 3-1.4 5.1-3.6 9.4-3 2.9-1.5 9.5-2.1 2.8-1.4 3.8-0.5 2.9-1.1 3.8-0.5 4.7-1.4 4.8-0.5 4.7-1.5 5.7 0 3.8-0.9 4.7-0.3 2.9 0.6 9.5 0.3 3.8 1.1 10.4 0.2 3.8 0.8 2.8-0.2 8.6-2.9 4.7-0.9 6.7-3.6 5.7-2.3 2.8-0.5 9.5-4 6.6-0.7 1-0.6 5.7-1.2 10.4-1.1 5.7-2.3 5.7-1.4 8.6-0.3 2.8 0.7 4.7 0.5" class="bl" stroke-opacity="0.55"/>
<path d="M655 986.6l2.2-13 2-6.3 2.5-4.1 3.5-2.7 2.6-0.9 1.8-1.5 0.7 0 3-2.5 1.8 0 3.7-2.9 3.4-1.2 4.7-2.7 9.4-2.7 1.9-1 9.5-1.8 2.9-1.3 4.7-0.8 3.8-1.4 3.8-0.2 3.8-1.3 6.7-0.7 3.7-1.2 4.8 0 4.7-1 9.5 0.3 10.5 1.4 17 0.9 8.6-3 4.7-1.2 12.4-5.6 2.8-0.6 10.5-4.2 3.8-0.2 6.6-1.7 10.4-1.3 13.3-4.1 8.6-0.4 2.8 0.9 4.7 0.4" class="bl" stroke-opacity="0.75"/>
<path d="M655 983.4l2.2-10.6 2-5.1 1.5-1.5 0.8-1.7 3.7-2.4 2.6-0.9 1.8-1.6 1.5-0.3 1.8-1.7 2.2-0.3 3.7-2.7 8.1-4 9.4-2.8 1.9-1 9.5-2.2 2.9-1.4 4.7-1 3.8-1.3 3.8-0.4 13.3-3.3 5.7-0.3 6.6-1.5 4.8 0.6 2.8-0.3 5.7 0.5 4.8 0.9 13.3 0.2 0.9 0.4 3.8-0.3 12.3-3.9 6.7-3.6 19-7.1 5.6-0.6 6.7-1.8 8.5-0.9 13.3-4.3 8.6-0.3 2.8 0.9 4.7 0.5" class="bl" stroke-opacity="0.6"/>
<path d="M655 981.3l2.2-9.8 2-5.4 2.6-4.6 3.4-2.9 2.6-1.4 1.8-1.7 1.5-0.5 1.1-1.1 2.9-0.8 1.1-1 1.5-0.3 1.5-1.4 2.6-0.5 0.7-0.9 4.4-2 9.4-2.3 2.9-1.2 9.5-1.7 2.8-1.4 3.8-0.4 2.9-1.2 4.7-0.4 13.3-3 5.7-0.1 3.8-1 2.8-0.3 4.8 0.6 5.7-0.1 7.6 1.4 11.4 0.3 2.8 0.5 2.8-0.2 8.6-3 4.7-0.9 4.8-2.7 2.8-0.8 4.8-2.4 2.8-0.5 10.5-4.2 5.6-0.6 1-0.5 3.8-0.8 12.3-1.5 8.6-3.3 2.8-0.7 8.6-0.1 7.5 1.2" class="bl" stroke-opacity="0.75"/>
<path d="M655 969.8l3.9-8.8 1.1-1 1.7-2.9 3.5-2.6 1.4-0.5 3-2.4 0.7 0.1 3-2.5 1.8-0.1 3.7-2.5 1.9-0.3 2.9-1.7 3.3-1.1 9.4-2.2 2.9-1.1 9.5-1.2 2.8-1.2 3.8-0.5 2.9-1.1 4.7-0.3 6.7-1.4 3.8-0.2 2.8-0.9 5.7-0.1 6.6-0.9 14.3 1.1 3.8 1 17 1 13.3-3.8 4.8-2.6 7.6-3.2 1.9-0.1 1.9-1.1 9.5-3.5 5.6-0.5 4.8-1.3 12.3-1.6 11.4-3.6 8.6-0.3 7.5 1.2" class="bl" stroke-opacity="0.6"/>
<path d="M655 962.4l1.6-4.4 2.1-2.9 1.7-1.2 1.4-2 6-1.5 1.8-1.2 0.7 0.1 1.1-0.6 1.5-1.3 2.2 0.1 3.7-2.2 3-0.7 0.7-0.7 4.4-1.4 9.4-2 1.9-0.9 9.5-0.9 3.8-1.4 3.8-0.3 3.8-1.1 3.8-0.2 4.8-1.1 3.8-0.1 4.7-1.3 5.7-0.1 4.7-0.7 15.2 1.2 4.8 1.1 4.7 0.1 3.8 0.6 2.9-0.3 2.8 0.7 2.8-0.1 9.5-3.1 3.8-0.7 4.8-2.8 3.8-1.2 3.8-1.9 2.8-0.4 3.8-2 1.9-0.3 3.8-1.8 5.7-0.4 5.7-1.7 12.3-1.4 5.7-2.3 5.7-1.4 8.6-0.2 7.5 1.2" class="bl" stroke-opacity="0.75"/>
<path d="M655 958.5l2.2-4.1 2-2 1.7-0.3 0.8-1.1 1.6 0.1 0.8-0.4 3.7-0.4 1.8-1.1 1.8-0.2 1.9-1.1 1.8 0.2 1.1-0.9 1.9-0.4 0.7-0.8 3-0.4 5.1-2.2 3.7-0.4 5.7-1.2 1.9-0.9 9.5-1 3.8-1.4 3.8-0.2 2.9-1 4.7-0.3 3.8-1 4.8-0.2 4.7-1.3 5.7-0.1 3.8-0.8 16.1 0.8 4.8 1.1 17 1.3 8.6-3.1 4.7-1 12.4-5.8 2.8-0.4 3.8-2 6.7-2.3 5.6-0.4 1-0.6 4.7-1 9.5-0.9 10.5-3.7 2.8-0.5 3.8-0.5 4.8 0.2 0.9 0.5 6.6 0.7" class="bl" stroke-opacity="0.5"/>
<path d="M655 957.7l1.6-4 2.1-3 2-1.3 0.8-1.4 0.5 0.1 3.2-1.3 1.4 0 3-1.4 0.7 0.2 3-1.9 1.8 0.4 3.7-2 4.1-0.7 4-1.7 9.4-1.2 2.9-0.8 8.5-0.6 3.8-1.2 3.8-0.3 3.8-1 12.4-1.1 4.7-1.1 5.7 0.2 5.7-1 14.2 1.4 4.8 1.1 13.3 0.7 0.9 0.5 2.8 0.1 9.5-3.3 3.8-0.5 6.7-3.6 5.7-2.2 2.8-0.4 1-0.8 2.8-1.2 1.9-0.3 3.8-1.8 6.6-0.7 3.8-1.2 8.6-1.2 2.8 0 10.5-3.5 6.6-1.1 12.3 1.5" class="bl" stroke-opacity="0.75"/>
<path d="M655 955.5l1.8-3.4 2.4-2.7 1.5-0.6 0.8-1.4 6.3-1.8 1.8-1.3 0.7 0.3 2.6-1.7 2.2-0.2 1.1-0.8 1.9-0.4 0.7-0.9 1.5 0.1 2.2-1.1 4.4-1.4 9.4-1.4 1.9-0.7 9.5-0.6 3.8-1.4 3.8-0.1 4.8-1.2 1.9 0.3 4.7-1.2 6.7-0.1 3.7-1.2 4.8 0.4 3.8-0.9 4.7 0.1 2.9 0.7 8.5 0.4 4.8 1.3 7.6 0.3 9.4 1 13.3-3.8 4.8-2.6 20.9-7.7 3.8 0 6.6-1.7 10.4-1 3.8-1 6.7-2.7 2.8-0.6 8.6 0 2.8 0.8 4.7 0.4" class="bl" stroke-opacity="0.75"/>
<path d="M655 950.6l3.7-2.3 1.1-0.2 0.6 0.4 1.1-1.1 5.5-0.1 2.6-1 1.5 0 2.2-1.3 1.8 0.3 3.7-1.9 3-0.3 0.7-0.6 4.4-1.3 9.4-1.1 2.9-0.8 8.5-0.9 11.4-2.4 12.4-1.3 4.7-1.1 2.8 0.4 9.5-1.2 4.8 0.8 9.5 0.5 3.8 0.9 8.5 0.7 2.9-0.2 5.6 0.7 13.3-3.9 6.7-3.5 10.4-3.6 8.6-3.5 5.6-0.3 4.8-1.4 12.3-1.7 11.4-3.7 8.6-0.1 2.8 0.9 4.7 0.4" class="bl" stroke-opacity="0.5"/>
<path d="M655 949.5l1.6-2 2.6-1.4 1.3 0.1 1-1.1 0.5 0.4 3.2-0.5 0.7 0.4 1.9-0.2 1.8-1 1.8 0 1.5-1.1 2.2 0.2 1.1-0.7 10.7-2.9 11.3-1.7 9.5-0.6 10.5-2.4 13.3-1.2 3.7-0.9 6.7 0 6.6-1.1 4.8 0.9 8.5 0.4 4.8 1.1 11.4 0.8 2.8 0.6 2.8-0.1 8.6-2.9 4.7-1 5.7-3 19-7.1 6.6-0.7 4.8-1.5 12.3-1.5 11.4-3.7 8.6-0.1 2.8 0.9 4.7 0.3" class="bl" stroke-opacity="0.55"/>
<path d="M655 947l3.9-1.8 1.5 0.4 1.1-1.1 0.5 0.3 5.8 0.1 1.8-0.9 0.7 0.5 3-1.6 1.8 0.3 0.8-0.6 1.8-0.2 1.1-0.8 1.9 0 6.2-2.1 9.4-0.9 2.9-0.7 8.5-0.5 11.4-2.5 3.8 0.1 3.8-1 4.8 0 4.7-1.1 5.7 0.2 6.6-1.2 13.3 1.4 4.8 1.1 17 1.2 6.7-1.8 2.8-1.4 3.8-0.6 6.7-3.5 5.7-2.3 2.8-0.5 10.5-4.2 3.8 0 6.6-1.8 9.5-1 14.2-4.2 8.6-0.2 7.5 1.3" class="bl" stroke-opacity="0.55"/>
<path d="M655 939.4l1.8 0 0.9 0.5 1-0.5 1.7 0.8 1.1-0.6 1.8 0.7 1.9-0.2 2.6 0.5 5.5-1.3 1.8 0.3 0.8-0.6 1.8 0.1 1.5-0.9 2.6 0.1 5.1-1.5 9.4-0.5 2.9-0.6 9.5-0.1 2.8-0.9 3.8-0.2 3.8-1 3.8 0.2 3.8-0.9 4.8 0 5.6-0.9 4.8 0.1 3.8-0.7 4.7 0.1 11.4 1.2 4.8 1.1 11.4 0.7 2.8 0.7 2.8 0 13.3-3.8 12.4-5.8 2.8-0.5 9.5-3.8 6.6-0.6 4.8-1.5 13.3-1.6 7.6-3.1 2.8-0.4 8.6-0.3 2.8 0.9 4.7 0.5" class="bl" stroke-opacity="0.6"/>
<path d="M655 937.4l2.7 0.7 1.5-0.2 1.2 0.9 1.1-0.7 4.4 1.1 2.2 0.1 1.5-0.5 0.7 0.4 1.9-0.9 2.9 0.3 1.1-0.8 1.9 0.1 0.7-0.6 1.5 0.2 2.2-0.9 4.4-0.7 9.4-0.5 1.9-0.5 9.5-0.2 10.5-1.9 3.8 0.2 4.7-1 6.7 0 2.8-0.9 5.7 0.2 4.7-0.9 3.8 0.2 2.9 0.8 8.5 0.4 4.8 1.3 17 1.3 13.3-3.7 4.8-2.5 7.6-3.3 2.8-0.5 3.8-1.8 1.9-0.1 4.8-2.1 4.7-0.2 5.7-1.7 12.3-1.3 8.6-3.1 2.8-0.6 8.6-0.2 7.5 1.4" class="bl" stroke-opacity="0.75"/>
<path d="M655 930.7l2.4 4.1 3 2.9 1.1-0.3 1.1 1.1 5.2 1.9 1.8-0.6 1.5 0.6 1.8-0.9 2.2 0.8 0.8-0.6 2.2 0.1 1.1-0.7 3 0 4.7-1.2 9.4-0.2 1.9-0.6 6.7-0.3 2.8 0.3 3.8-1.1 3.8-0.1 3.8-0.9 3.8 0.1 12.3-1.8 6.7 0.1 4.7-0.8 15.2 1.2 4.8 1.3 13.3 0.8 0.9 0.5 2.8-0.1 9.5-3.1 3.8-0.7 5.7-3.4 2.9-0.7 3.8-1.8 2.8-0.5 3.8-2 1.9-0.2 4.8-2 3.8-0.1 8.5-2.1 9.5-0.9 12.3-3.8 8.6-0.5 2.8 0.9 4.7 0.5" class="bl" stroke-opacity="0.55"/>
<path d="M655 929.9l2.9 4.5 1.3 0.7 1 1.2 1.3-0.2 1.1 1 1.5 0.1 3.7 1.4 1.8-0.5 1.5 0.4 2.2-1 1.8 0.8 3.7-1.4 3 0.3 1.8-0.9 3.3-0.4 9.4-0.1 8.6-0.8 2.8 0.3 9.5-1.6 5.7-0.1 3.8-0.7 6.7-0.4 2.8-0.6 5.7 0.4 6.6-0.8 13.3 1.5 4.8 1.2 17 1.3 9.5-3 3.8-0.6 5.7-3.1 20-7.2 5.6-0.6 3.8-1.2 13.3-1.6 5.7-2.2 5.7-1.4 8.6-0.5 7.5 1.5" class="bl" stroke-opacity="0.6"/>
<path d="M655 929.1l2.4 2.9 1.3 0.6 1.7 1.9 1.1-0.2 1.8 1.5 4.5 1.7 1.4-0.5 2.2 0.5 1.9-0.7 1.8 0.8 1.1-0.6 1.5 0.3 1.1-0.9 1.9 0.5 6.2-1.2 3.7 0.2 7.6-0.7 3.8 0.3 2.9-0.4 2.8 0.3 3.8-0.9 3.8-0.2 3.8-1 3.8 0.3 3.8-0.9 4.8 0.1 5.6-0.9 4.8 0.3 6.6-0.8 4.8 0.8 9.5 0.8 4.7 1.2 12.4 0.7 0.9 0.5 2.8-0.2 6.7-1.7 1.9-1 4.7-0.9 2.9-1.7 9.5-4 2.8-0.5 3.8-1.9 1.9-0.4 3.8-1.6 6.6-0.7 4.8-1.5 10.4-1 9.5-3.2 3.8-0.9 8.6-0.2 2.8 0.8 4.7 0.5" class="bl" stroke-opacity="0.6"/>
<path d="M655 924.5l2.7 4.6 2.7 2.7 1.1 0 1.8 1.5 3.3 1.6 3 0 0.7 0.5 3-0.6 1.8 0.7 3.7-1.1 3 0.4 0.7-0.4 4.4-0.5 9.4 0.1 2.9-0.4 8.5 0.3 3.8-0.7 3.8 0 2.9-0.7 4.7 0.3 3.8-0.9 6.7 0.1 3.7-0.9 4.8 0.6 1.9-0.6 4.7-0.2 6.7 1.3 0.9-0.3 6.7 0.9 3.8 1.1 17 1.5 13.3-3.8 6.7-3.3 18-6.6 6.6-0.6 3.8-1.1 13.3-1.7 8.6-3.2 5.7-0.8 5.7 0.2 7.5 1.2" class="bl" stroke-opacity="0.55"/>
<path d="M655 923.1l2.4 4.8 3 3.9 1.1 0.2 1.8 2 4.5 2.4 1.8-0.2 0.7 0.4 1.9-0.5 2.9 0.7 1.1-0.4 1.5 0.3 1.1-0.7 4.5 0 3.6-0.8 9.4 0.3 1.9-0.5 6.7-0.1 3.8 0.4 2.8-1 3.8-0.1 1.9-0.6 14.3-0.5 4.7-1 5.7 0.4 6.6-0.7 4.8 0.9 8.5 0.5 4.8 1.3 13.3 1.1 0.9 0.4 2.8-0.1 13.3-3.6 12.4-5.8 1.9-0.1 11.4-4.2 5.6-0.6 4.8-1.5 12.3-1.3 5.7-2.3 5.7-1.5 8.6-0.3 2.8 0.9 4.7 0.4" class="bl" stroke-opacity="0.6"/>
<path d="M655 914.9l2.7 9.6 3 5.8 0.8 0.2 1.8 2.5 4.5 2.9 1.4-0.2 2.6 1 1.5-0.4 1.8 0.9 1.1-0.6 1.9 0.3 0.7-0.5 3 0.5 0.7-0.4 4.4-0.4 3.7 0.4 7.6-0.3 9.5 0.4 2.9-0.8 4.7-0.1 2.9-0.6 4.7 0.1 3.8-0.7 4.8 0 4.7-0.8 5.7 0.2 6.6-0.7 14.3 1.5 3.8 1.2 17 1.2 9.5-3.1 3.8-0.7 2.9-1.7 9.5-4.1 2.8-0.6 10.5-4 5.6-0.4 4.8-1.6 12.3-1.5 5.7-2.3 5.7-1.4 8.6-0.3 7.5 1.3" class="bl" stroke-opacity="0.75"/>
<path d="M655 912.5l2.7 11.7 3.2 7 2.1 2.6 4 3.6 4.1 1 1.8-0.3 2.2 0.7 1.1-0.4 1.5 0.2 1.1-0.7 3 0.3 5.1-0.9 9.4 0 2.9-0.5 8.5 0.3 3.8-1.1 3.8 0.1 2.9-0.7 4.7 0 3.8-0.7 3.8 0 5.7-1.1 5.7 0.2 5.7-0.7 15.2 1.6 3.8 1 10.4 0.6 3.8 0.9 2.8-0.3 3.8-0.9 4.8-2 4.7-1 12.4-5.6 2.8-0.5 1-0.7 9.5-3.4 5.6-0.4 3.8-1.5 11.4-1.3 13.3-4.1 8.6-0.2 2.8 0.9 4.7 0.3" class="bl" stroke-opacity="0.5"/>
<path d="M655 907.8l2.7 11.1 3.2 6.8 0.6 0.1 1.8 2.6 4.5 3.1 1.4-0.2 1.9 0.7 2.2-0.3 1.8 0.8 1.1-0.6 5.2 0.2 5.5-0.7 8.5 0.4 3.8-0.4 8.5 0.6 2.9-0.7 4.7 0.1 2.9-0.7 3.8 0.4 4.7-0.7 6.7 0 2.8-0.5 5.7 0.5 4.7-0.7 15.2 1.7 4.8 1.3 8.5 1.1 2.9-0.1 2.8 0.7 2.8-0.2 13.3-3.6 6.7-3.2 5.7-2.1 1.9-0.2 4.7-2.2 6.7-2.1 5.6-0.6 4.8-1.4 10.4-1.1 13.3-3.9 8.6-0.1 7.5 1.3" class="bl" stroke-opacity="0.5"/>
<path d="M655 904.1l2.7 15.8 2.8 8.2 2.8 4.2 3.3 3.1 1.2 0.7 1.8 0.1 0.7 0.6 3-0.2 1.8 1 1.1-0.5 1.9 0.2 0.7-0.5 4.1 0.2 4-0.5 3.7 0.4 14.3-0.4 2.8 0.4 3.8-1 3.8 0 3.8-0.7 3.8 0.3 3.8-0.8 4.8 0 4.7-0.9 5.7 0.4 4.7-0.9 6.7 1 8.5 0.5 4.8 1 13.3 1 0.9 0.5 2.8-0.2 1.9-0.9 11.4-2.9 6.7-3.5 5.7-2.2 1.9-0.2 4.7-2.1 1.9-0.3 3.8-1.8 2.9-0.6 3.7-0.1 4.8-1.5 10.4-1 10.5-3.7 2.8-0.5 8.6-0.3 7.5 1.3" class="bl" stroke-opacity="0.75"/>
<path d="M655 902.6l2.4 9.6 3 7.8 5.5 8.3 4.4 3.2 1.9 0 2.9 1.7 1.1-0.3 1.5 0.5 1.1-0.4 4.1 0.9 4-0.5 9.4 1 1.9-0.3 9.5 0.6 3.8-0.7 3.8 0.1 12.4-1.4 3.8 0.1 4.7-0.9 5.7 0.4 5.7-0.8 14.2 1.5 4.8 1 17 1.5 9.5-3.2 3.8-0.7 4.8-2.5 7.6-3.1 2.8-0.6 9.5-3.8 6.6-0.6 4.8-1.5 11.4-1.4 12.3-3.8 8.6-0.2 2.8 0.8 4.7 0.5" class="bl" stroke-opacity="0.55"/>
<path d="M655 897.5l2.4 9.7 2.6 6.7 3 4.1 4.8 4.5 1.8 0.4 0.7 0.8 2.6 0 2.2 1.3 1.1-0.2 1.5 0.6 1.1-0.5 3 0.8 0.7-0.3 4.4 0.4 3.7 0.9 9.5 0.9 7.6 1.3 3.8-0.6 3.8 0.5 3.8-0.5 3.8 0.6 3.8-0.4 4.8 0.5 4.7-0.5 5.7 0.6 6.6-0.3 13.3 2.2 4.8 1.3 17 2 13.3-3.6 5.7-2.7 19-6.7 6.6-0.7 4.8-1.3 12.3-1.4 5.7-2.1 5.7-1.5 8.6-0.2 7.5 1.3" class="bl" stroke-opacity="0.75"/>
<path d="M655 896l2.4 11.9 2.6 6.7 3.7 4.8 4.1 3.5 4 1.4 1.5-0.1 1.8 1.4 1.1-0.3 1.5 0.5 1.1-0.3 3 1 1.8-0.2 24.1 3.8 3.8-0.5 3.8 0.4 2.9-0.5 3.8 0.6 4.7-0.4 4.8 0.5 4.7-0.8 5.7 0.6 6.6-0.4 4.8 1.3 2.8 0 10.5 2.1 17 1.7 13.3-3.4 6.7-3.4 5.7-2 2.8-0.5 3.8-2 6.7-2 5.6-0.6 4.8-1.4 12.3-1.3 8.6-3.2 2.8-0.5 8.6-0.3 2.8 0.9 4.7 0.4" class="bl" stroke-opacity="0.75"/>
<path d="M655 895l2.7 12.7 1.9 5.7 1.1 2.8 3 5 4.1 4.5 1.8 0.7 0.7 0.7 3 0.5 1.8 1.2 1.1-0.3 1.5 0.6 1.1-0.5 1.9 0.7 6.2-0.2 20.8 1.9 5.7-0.7 9.5 0.2 3.8-0.5 4.8 0.3 4.7-0.7 5.7 0.5 6.6-0.4 4.8 1.2 2.8 0 6.7 1 3.8 1.2 17 1.7 8.6-2.6 4.7-0.9 2.9-1.7 9.5-3.9 2.8-0.4 9.5-3.6 6.6-0.8 4.8-1.5 10.4-0.9 13.3-4.1 8.6-0.1 2.8 0.9 4.7 0.4" class="bl" stroke-opacity="0.6"/>
<path d="M655 943.2l4.2-0.2 1.2 0.6 1.1-0.8 6.3 0.9 1.8-0.7 1.5 0.1 2.2-1 1.8 0.4 3.7-1.6 3-0.1 5.1-1.6 9.4-0.8 2.9-0.7 8.5-0.3 3.8-1.1 3.8-0.2 2.9-0.9 13.3-1.1 4.7-1 5.7 0.1 6.6-0.9 4.8 0.8 8.5 0.5 4.8 1.1 17 1.3 13.3-3.9 5.7-3 6.7-2.7 2.8-0.6 3.8-1.8 6.7-2.2 5.6-0.5 4.8-1.5 12.3-1.5 8.6-3.1 2.8-0.6 8.6-0.2 7.5 1.3" class="or"/>
</g>
<rect x="644.4" y="875.9" width="239.5" height="135.6" class="sp"/>
<path d="M655.0 1011.5v14M763.9 1011.5v14M872.9 1011.5v14M644.4 903.9h-15M644.4 967.7h-15" class="tk"/>
<text x="655.0" y="1054.2" text-anchor="middle" class="lab">0</text>
<text x="763.9" y="1054.2" text-anchor="middle" class="lab">15</text>
<text x="872.9" y="1054.2" text-anchor="middle" class="lab">30</text>
<text x="763.9" y="1090.5" text-anchor="middle" class="lab">Time in minutes</text>
<path d="M918.3 875.9V1011.5M1027.2 875.9V1011.5M1136.2 875.9V1011.5M907.7 903.9H1147.2M907.7 967.7H1147.2" class="grid"/>
<clipPath id="cp42"><rect x="907.7" y="875.9" width="239.5" height="135.6"/></clipPath>
<g clip-path="url(#cp42)">
<path d="M918.3 882.3l0.9 15.4 1.3 12.3 2.5 10.3 1.3 2.5 3.8 4.1 2.6 1.6 1.5 0 3.3 1.3 5.6-1.3 1.8 0.4 1.5-0.8 2.2 0.1 0.8-0.5 6.6 0.2 1.9 0.4 4.7-0.4 27.6 0 4.7 0.9 3.8-0.3 2.8-0.8 4.8-2.6 3.8-0.2 4.7 0.3 16.2 3.5 13.3 1.4 4.7 1 6.6-0.3 3.8 0.4 2.9-1.2 5.7-4.5 8.5-5.3 8.6-4 7.5-1 1.9-0.6 9.5-0.5 11.4-3.9 2.9-1.5 6.6-1.8 3.8 0.5 9.5 3.8" class="bl" stroke-opacity="0.5"/>
<path d="M918.3 1004.9l1.9-26.9 1.1-8.2 2-7.5 3.4-5.5 4-3.6 1.9-2.4 2.9-1.9 4.1-4.7 3.3-2.1 1.1-1.4 2.2-1.1 1.2-1.2 6.6-2.6 1.9-0.2 7.6-2.5 17.1-2 7.6-0.3 4.7 0.5 3.8-0.3 2.8-0.8 4.8-2.9 1.9-0.2 6.6 0.1 10.5 2.6 19 2.1 6.6 1.3 3.8-0.6 4.7 0.3 2.9-1.3 5.7-4.6 7.6-4.8 3.8-2 8.5-3.3 1.9 0.2 4.7-1.2 10.5-0.8 15.2-5.6 4.7-1.3 3.8 0.4 9.5 3.9" class="bl" stroke-opacity="0.6"/>
<path d="M918.3 1002l1.9-32.2 1.1-7.8 2-6.3 3.4-4.1 4-2.6 1.9-2.1 2.9-1.7 4.8-5 2.6-1.4 0.8-1 1.8-0.8 1.5-1.4 4.1-1.9 15.2-3.9 3.8-0.1 3.8-0.9 10.5-0.3 3.8-0.6 4.7 0.7 3.8-0.3 2.8-0.8 4.8-3 3.8-0.2 3.8 0.1 17.1 3.8 3.8-0.1 7.6 1.4 3.7 0.1 4.8 1.1 4.7-0.5 3.8 0.6 2.9-1.4 5.7-4.5 7.6-4.7 3.8-2.2 5.7-2.4 12.3-2.1 6.6 0 11.4-3.8 2.9-1.6 6.6-1.9 3.8 0.4 9.5 4.1" class="bl" stroke-opacity="0.5"/>
<path d="M918.3 998.3l1.7-27.3 1.3-7.1 1.3-2.9 4.1-5.2 4-3.1 3-2.9 1.8-0.9 4.8-5.5 2.6-1.4 4.1-3.4 4.1-1.8 9.5-3 13.3-2.4 13.3-0.9 5.7 0.4 3.8-0.2 8.5-4.1 6.7 0.3 6.6 1.1 4.8 1.4 19 2 6.6 1.3 4.7-0.4 3.8 0.4 2.9-1.5 8.5-6.3 8.6-5.2 6.6-2.5 3.8-0.4 4.7-1.2 9.5-0.4 11.4-3.9 4.8-2.4 4.7-0.9 3.8 0.2 9.5 3.9" class="bl" stroke-opacity="0.6"/>
<path d="M918.3 997.8l1.9-25.6 1.1-6.9 2-6.1 3.4-4.6 1.4-0.7 4.8-4.1 1.9-0.8 4.8-5.3 7.8-5.4 6.6-2.5 13.3-3.4 6.6-1 10.5-0.3 3.8-0.7 4.7 0.8 4.7-0.5 6.7-3.6 3.8-0.3 4.7 0.1 13.3 3.1 8.6 0.6 5.7 1 1.9-0.1 4.7 1.2 10.4-0.1 2.9-1.3 5.7-4.5 7.6-4.8 9.5-4.4 9.4-1.8 10.5-0.7 13.3-5.3 6.6-1.9 3.8 0.5 3.8 1.2 5.7 2.7" class="bl" stroke-opacity="0.6"/>
<path d="M918.3 995l1.9-22.1 1.3-6.2 1.8-4.2 3.4-3.9 4-3 1.5-1.8 3.3-2 4.1-5 3.3-2.1 1.1-1.4 3-2.2 7-3.1 1.9-0.2 1.9-0.9 8.5-2.3 8.6-1.4 13.3-1.3 4.7 0.6 3.8-0.5 2.8-0.9 4.8-3 3.8-0.3 4.7 0.3 16.2 3.3 13.3 1.1 6.6 1.3 4.7-0.7 3.8 0.5 2.9-1.3 5.7-4.8 8.5-5.2 8.6-3.9 12.3-2.2 7.6-0.5 10.4-3.7 2.9-1.4 6.6-1.8 3.8 0.3 9.5 3.8" class="bl" stroke-opacity="0.5"/>
<path d="M918.3 992l1.7-16.8 1.3-7.5 2-6.5 2.3-4.3 7-7.1 2.9-1.9 4.5-5 2.2-1.4 1.5-1.7 3.7-2.6 6.6-2.8 1.9-0.1 10.4-3.2 4.8-0.3 9.5-1.6 7.6-0.3 4.7 0.6 3.8-0.3 1.9-0.4 5.7-3.3 3.8-0.3 3.8 0 11.4 2.8 5.7 0.8 6.6 0.4 4.8 0.9 1.9-0.1 6.6 1.4 3.8-0.5 4.7 0.3 2.9-1.2 7.6-5.8 9.5-5.4 3.8-1.8 4.7-1.6 4.7-0.2 4.8-1.2 3.8 0.3 2.8-0.4 6.7-2 7.6-3.3 6.6-1.8 3.8 0.4 9.5 4" class="bl" stroke-opacity="0.55"/>
<path d="M918.3 992.2l1.5-15.1 1.5-8.4 2-5.6 2.3-3.7 7-6.4 2.2-1.1 5.5-6.1 5.9-4.2 1.2-1.4 6.6-2.7 1.9-0.2 8.5-3 10.5-2.1 12.3-1 5.7 0.4 2.9-0.4 3.7-1 1.9-1.5 2.9-1.4 3.8-0.4 6.6 0.6 14.3 3 3.8-0.1 3.8 1 5.7 0.2 6.6 1.3 2.8-0.5 5.7 0.3 2.9-1.3 5.7-4.6 7.6-4.7 3.8-2.2 6.6-2.7 3.8-0.2 4.7-1.4 10.5-0.6 5.7-1.9 9.5-4 4.7-1 3.8 0.2 7.6 3.5 1.9 0.4" class="bl" stroke-opacity="0.55"/>
<path d="M918.3 986.7l1.9-21 1.1-4.9 2-3.8 3.4-3.6 4-2.8 2.6-2.5 2.2-0.9 4.8-5.4 2.6-1.4 4.5-3.7 6.6-2.7 1.9-0.2 11.4-3.4 6.6-1 12.4-1.2 10.4-0.1 2.8-0.9 4.8-2.8 3.8-0.5 7.6 0.9 10.4 2.5 6.7 0.4 4.7 1 4.8 0.1 4.7 1.2 6.6-0.4 3.8 0.4 2.9-1.2 7.6-5.8 5.7-3.4 5.7-3.1 3.8-1.4 7.5-1 4.8-1.1 3.8 0.3 3.8-0.6 10.4-3.6 2.9-1.5 6.6-1.8 6.7 1.3 4.7 2.7 1.9 0.5" class="bl" stroke-opacity="0.55"/>
<path d="M918.3 983.8l1.7-14.6 1.3-6.2 2-4.8 1.5-2.3 1.9-1.6 4-2.1 2.2-1.9 2.6-1 4.1-3.9 3.3-1.9 1.9-1.7 1.4-0.4 1.2-1.2 6.6-2.5 12.3-3.3 5.7-0.7 2.9-0.8 13.3-1.4 4.7 0.7 3.8-0.7 2.8-0.9 4.8-3.2 3.8-0.3 7.6 0.8 13.3 2.6 6.6 0.2 13.3 2.1 3.8-0.6 4.7 0.4 2.9-1.3 5.7-4.5 11.4-7.1 8.5-3.2 4.7-0.2 4.8-1.2 7.6-0.3 10.4-3.7 2.9-1.6 6.6-1.8 3.8 0.4 9.5 4" class="bl" stroke-opacity="0.75"/>
<path d="M918.3 981.9l1.5-15.4 2-6 0.6-0.1 0.9-1.5 1-0.3 0.5-0.8 10.4-5.9 4.4-4.6 3.3-1.7 1.1-1.5 3.4-2.3 3.7-1.7 2.9-1 1.9-0.2 4.7-2 6.7-1.7 13.3-2.4 7.6-0.7 3.8 0.3 4.7-0.4 2.8-1.1 4.8-3 3.8-0.3 4.7 0 6.7 1.6 2.8 0.1 6.7 1.5 3.8-0.2 5.7 0.6 8.5 1.7 1.9 0.1 3.8-0.7 4.7 0.4 2.9-1.5 5.7-4.5 5.7-3.7 5.7-3.2 6.6-2.7 1.9-0.4 1.9 0.2 7.6-1.7 6.6-0.1 6.7-2.2 7.6-3.4 6.6-1.7 3.8 0.3 9.5 3.9" class="bl" stroke-opacity="0.55"/>
<path d="M918.3 981.6l1.5-19.8 0.9-4.9 1.1-3.1 1.5-2.2 2.3-1.7 2.5-1 5.2-3.3 2.2-0.7 4.8-4.5 1.5-0.4 5.6-4 6.6-2 13.3-2.8 13.3-1.4 16.1 0 2.8-1 2.9-1.9 2.8-1.1 6.7 0.1 9.5 1.8 1.9 0.8 19 2.1 6.6 1.5 3.8-0.8 4.7 0.5 2.9-1.3 5.7-4.6 7.6-4.7 6.6-3.4 5.7-1.8 1.9 0.1 7.6-1.6 6.6-0.1 6.7-2.1 11.4-4.6 2.8-0.4 3.8 0.2 9.5 4" class="bl" stroke-opacity="0.5"/>
<path d="M918.3 980l2.4-18.3 1.1-3.8 2.1-3.8 2.8-2.7 1.4-0.4 5.2-3.9 2.2-0.8 4.1-4 4.1-2.9 3.7-2.2 6.6-2.5 1.9-0.1 4.7-1.7 6.7-1.5 5.7-0.4 7.6-1.4 3.8 0.3 3.8-0.6 8.5 0.1 2.8-0.9 4.8-3.2 3.8-0.2 4.7 0.2 13.3 3 2.9 0.4 3.8-0.2 3.8 0.9 2.8 0.1 7.6 1.4 6.6-0.2 3.8 0.4 2.9-1.3 5.7-4.7 7.6-4.7 5.7-3.1 6.6-2.2 1.9 0.2 7.6-1.6 6.6-0.2 6.7-1.8 7.6-3.4 6.6-1.8 3.8 0.5 9.5 3.8" class="bl" stroke-opacity="0.55"/>
<path d="M918.3 978.8l1.7-17.1 1.8-6 3.8-3 2.5-0.9 5.2-2.9 2.2-0.8 4.1-3.8 3.3-1.5 1.1-1.5 2.2-0.7 1.2-1.1 6.6-2.5 1.9 0 11.4-3.2 3.8-0.1 8.5-1.5 8.6-0.6 4.7 0.6 3.8-0.5 2.8-1 4.8-3.1 3.8-0.4 13.3 1.9 1.9 0.7 5.7 1 6.6 0.1 1.9 0.6 4.8 0.3 6.6 1.2 4.7-0.8 3.8 0.6 2.9-1.3 7.6-6.1 9.5-5.6 5.7-2.4 2.8-0.7 4.7-0.3 4.8-1.3 3.8 0.3 3.8-0.4 13.3-5.3 6.6-1.8 3.8 0.2 9.5 4" class="bl" stroke-opacity="0.55"/>
<path d="M918.3 977.1l1.7-20.1 1.3-5.4 2-3.2 3.4-2.2 1.4 0 2.6-1.1 1.5-1.2 3.3-1.1 4.1-3.5 3.3-1.5 1.1-1.1 1.5-0.3 1.9-1.4 3.7-1.2 13.3-2.8 9.5-1.2 14.3-0.8 4.7 0.6 3.8-0.3 2.8-0.8 4.8-3.1 3.8-0.3 4.7 0.4 16.2 3.4 6.6 0.4 1.9 0.7 4.8 0.2 6.6 1.2 2.8-0.4 5.7 0.4 2.9-1.2 5.7-4.8 11.4-6.8 8.5-3 4.7-0.3 4.8-1.2 6.6-0.1 9.5-3.1 4.8-2.2 6.6-1.9 3.8 0.3 9.5 4.1" class="bl" stroke-opacity="0.6"/>
<path d="M918.3 961.2l1.9-10.8 1.1-3 2.8-2.8 2.6-1.4 1.4-0.1 2.6-1.2 1.9-1.2 2.9-0.8 4.5-3.6 2.9-1.1 1.9-1.5 9.2-2.9 1.9 0.2 10.4-2 11.4-0.8 10.5-0.2 4.7 0.6 4.7-0.4 6.7-3.4 3.8-0.3 6.6 0.7 14.3 3.3 13.3 1.1 6.6 1.4 4.7-0.4 3.8 0.3 2.9-1.4 5.7-4.3 11.4-7 8.5-2.9 1.9 0.1 7.6-1.6 6.6-0.2 6.7-1.9 9.5-3.8 5.7-1.3 2.8 0.3 9.5 3.9" class="bl" stroke-opacity="0.5"/>
<path d="M918.3 960.4l1.7-7.7 1.3-3.1 2-2.2 2.3-1.2 2.5-0.5 5.2-2.3 2.2-0.4 4.1-3.2 3.3-1.3 1.1-1.1 2.2-0.7 1.2-0.8 6.6-1.9 1.9 0.1 8.5-2 16.2-1.6 4.7 0.3 2.9-0.5 4.7 0.7 2.9-0.2 2.8-0.6 5.7-3.3 3.8-0.2 3.8 0 17.1 3.6 6.6 0.3 4.8 1 3.7 0.1 2.9 0.8 4.7-0.3 5.7 0.3 2.9-1.3 5.7-4.6 11.4-6.9 7.6-2.8 2.8 0.1 7.6-1.7 6.6-0.2 11.4-3.9 4.8-2.1 4.7-1.2 3.8 0.4 9.5 3.7" class="bl" stroke-opacity="0.75"/>
<path d="M918.3 951l1.7-4.3 1.3-1.8 1.1 0 0.9-1.1 3.4-1.1 1.4 0.3 1.2-0.7 1.4 0 2.6-1.6 2.2-0.1 4.1-3.3 3.3-0.9 1.9-1.5 9.2-2.5 1.9 0.1 4.7-1.3 8.6-1.1 18-0.8 5.7 0.6 3.8-0.2 2.8-1 1.9-1.5 2.9-1.2 3.8-0.3 4.7 0.2 5.7 1 4.8 1.7 5.7 0.9 10.4 0.7 9.5 1.7 4.7-0.5 3.8 0.4 2.9-1.3 7.6-5.9 9.5-5.4 8.5-3.1 4.7-0.4 4.8-1.2 6.6 0.1 11.4-4 2.9-1.5 6.6-1.8 3.8 0.4 9.5 3.8" class="bl" stroke-opacity="0.5"/>
<path d="M918.3 943.4l2.6-1 0.6-0.8 0.9 0.3 3.2-1.4 5.1-0.3 1.9-1.3 2.9-0.3 4.1-3 3.3-1 0.8-0.7 1.8-0.5 1.9-1.2 6.6-1.3 1.9 0.1 1.9-0.6 3.8-0.2 4.7-0.9 21.9-0.8 4.7 0.8 2.9-0.3 2.8-0.6 3.8-2.3 2.8-1 7.6 0.3 16.2 3.6 6.6 0.3 13.3 2.4 2.8-0.6 5.7 0.4 2.9-1.3 5.7-4.6 7.6-4.7 5.7-2.9 6.6-2.5 4.7-0.1 1.9-0.7 2.9-0.4 7.6-0.1 10.4-3.9 2.9-1.5 6.6-1.7 3.8 0.3 9.5 4" class="bl" stroke-opacity="0.5"/>
<path d="M918.3 930.9l0.9 4.8 1.3 2.3 1.7 1.5 0.4-0.4 1.7 0.5 1.1-0.5 2.7 0.3 2.6-0.4 3-1.2 1.8 0.2 4.1-2.8 2.2-0.5 2.2-1.4 7.1-2.1 2.9-0.3 1.9 0.3 8.5-1.5 5.7 0 4.8-0.7 3.8 0.2 8.5-0.5 5.7 0.9 3.8-0.3 1.9-0.3 5.7-3.2 3.8-0.4 4.7 0.4 16.2 3.6 3.8 0 16.1 2.6 4.7-0.7 3.8 0.5 2.9-1.4 5.7-4.4 7.6-4.7 5.7-3.1 4.7-1.7 6.6-0.8 4.8-1.2 3.8 0.2 3.8-0.4 11.4-4 1.9-1.1 6.6-1.9 3.8 0.3 9.5 4.1" class="bl" stroke-opacity="0.55"/>
<path d="M918.3 930.2l0.9 4.4 1.3 3.1 1.9 2.7 2.8 1.6 4.8 1.1 3.3-0.8 1.9 0.4 4.4-2.7 3.7-1 0.7-0.8 1.5 0 1.9-1.1 1.9-0.1 4.7-1.2 1.9 0.4 11.4-2 5.7 0.1 4.7-0.6 7.6-0.1 1.9-0.4 4.8 0.7 4.7-0.1 1.9-0.5 3.8-2.6 2.8-1 6.7 0 14.2 3 9.5 0.7 1.9 0.7 4.8 0 6.6 1.4 3.8-0.7 4.7 0.4 2.9-1.2 5.7-4.8 11.4-6.9 2.8-1.4 5.7-1.8 4.7-0.4 1.9-0.8 2.9-0.3 7.6-0.4 10.4-3.7 2.9-1.6 6.6-1.8 3.8 0.3 9.5 3.7" class="bl" stroke-opacity="0.55"/>
<path d="M918.3 911.6l1.1 14.2 1.5 6.1 1.5 2.4 1.3 0.6 1.9-0.1 2.2 1.1 1.5-0.3 1.4 0.5 2.6-0.7 2.2 0.4 4.1-2.3 2.6-0.3 1.5-1 2.5-0.4 0.8-0.7 7-0.6 1.9 0.4 8.5-1.1 16.2-0.5 3.8 0.4 3.8-0.3 4.7 0.8 5.7-0.7 6.6-3.3 7.6 0.4 16.2 3.5 13.3 1.2 6.6 1.2 4.7-0.5 3.8 0.5 2.9-1.2 5.7-4.6 5.7-3.7 5.7-3.3 5.7-2.4 7.5-1 4.8-1.2 3.8 0.2 2.8-0.3 6.7-2 7.6-3.2 6.6-2 3.8 0.4 2.9 0.9 4.7 2.4 1.9 0.5" class="bl" stroke-opacity="0.6"/>
<path d="M918.3 910.9l1.3 15.1 0.9 5 1.7 4.3 2.1 1.4 6.1 0.6 2.2-0.8 2.9 0.2 4.1-2.5 2.6-0.5 5.2-2.3 6.6-0.9 1.9 0.2 11.4-1.2 3.8 0.3 2.8-0.5 10.5 0.4 3.8-0.5 4.7 0.9 1.9-0.1 4.7-0.9 2.9-1.9 2.8-1 6.7 0 9.5 2 1.9 0.8 9.5 1.1 4.7 1 4.8 0.1 4.7 1.2 4.7-0.3 5.7 0.5 2.9-1.2 5.7-5 7.6-4.6 5.7-3.1 6.6-2.2 4.7-0.1 4.8-1.3 6.6 0 11.4-4 2.9-1.4 6.6-1.8 3.8 0.4 9.5 3.8" class="bl" stroke-opacity="0.6"/>
<path d="M918.3 905.6l1.5 15.3 2.4 9.9 2.1 2.7 3.8 1.6 2.6 0.3 1.9-0.4 2.9 0 4.1-2.2 3.3-0.6 0.8-0.7 2.5-0.4 1.2-0.9 6.6-0.5 1.9 0.5 8.5-1.1 16.2-0.6 4.7 0.6 2.9-0.4 4.7 0.8 2.9-0.1 3.7-0.9 2.9-1.8 2.8-1.1 6.7 0.2 8.5 1.7 2.9 1 14.2 2 4.8 0.1 4.7 1.4 2.8 0.1 3.8-0.5 3.8 0.4 2.9-1.3 7.6-5.8 10.4-6 7.6-2.5 4.7-0.5 1.9-0.8 2.9-0.3 6.6-0.2 5.7-1.7 8.6-3.6 6.6-1.8 3.8 0.3 9.5 4" class="bl" stroke-opacity="0.75"/>
<path d="M918.3 895.7l1.3 19 0.9 6.5 1.7 5.5 2.1 2.3 3.8 1.8 2.6 0.7 3-0.3 1.8 0.7 2.3-1.3 3.3-1 1.8 0.1 0.8-0.7 2.5-0.2 0.8-0.6 39.3-0.1 3.8 0.3 2.8 0.7 3.8 0 1.9-0.3 2.8-2.1 2.9-1.3 3.8-0.1 4.7 0.4 16.2 3.8 3.8-0.1 16.1 2.7 4.7-0.6 3.8 0.5 2.9-1.3 5.7-4.7 7.6-4.6 5.7-3 5.7-2 2.8 0 4.7-1.4 2.9-0.3 6.6 0 6.7-2.2 7.6-3.3 7.6-1.9 2.8 0.4 9.5 4.1" class="bl" stroke-opacity="0.55"/>
<path d="M918.3 894.3l1.5 22.3 1.1 7.8 1.5 5.8 1.9 2.7 3.8 2.5 2.6 0.4 1.9-0.3 2.9 0.5 4.5-2.1 2.9-0.4 1.1-0.9 1.5 0.2 1.9-1 6.6-0.7 1.9 0.3 10.4-1.1 7.6-0.3 10.5 0.2 3.8-0.5 4.7 0.9 4.7-0.4 1.9-0.6 4.8-2.8 3.8-0.4 4.7 0.5 16.2 3.5 3.8-0.1 3.8 0.9 8.5 0.8 1.9 0.7 6.6-0.4 3.8 0.4 2.9-1.3 5.7-4.6 11.4-6.9 8.5-3 4.7-0.4 4.8-1.2 6.6-0.1 12.4-4.3 1.9-1.1 6.6-1.8 3.8 0.4 9.5 3.7" class="bl" stroke-opacity="0.55"/>
<path d="M918.3 892.2l1.5 21.8 1.1 7.4 1.3 4.5 2.1 2.6 3.1 1.6 3.3 0.7 2.6-0.6 2.2 0.5 4.1-1.9 2.6-0.1 1.5-0.9 7.4-0.9 7.6 0.3 8.6-0.5 3.8 0.5 3.8-0.3 13.3 0.7 4.7 0.8 3.8-0.1 2.8-0.7 4.8-2.6 3.8-0.2 10.4 1.7 6.7 1.9 7.6 0.9 3.8 0.9 5.7 0.3 6.6 1.3 4.7-0.4 3.8 0.6 2.9-1.4 5.7-4.7 7.6-4.5 9.5-4.6 7.5-0.8 4.8-1.3 6.6-0.1 9.5-3.1 4.8-2.3 6.6-1.7 3.8 0.3 9.5 4" class="bl" stroke-opacity="0.75"/>
<path d="M918.3 892.3l1.3 24.1 0.9 7 1.2 4.7 0.7 1.6 1.9 1.7 3.8 1.6 2.6 0.3 2.6-0.3 2.2 0.5 4.1-2 3.3-0.3 0.8-0.6 2.5-0.3 0.8-0.6 4.1-0.3 4.8 0.3 1.9-0.4 12.3 0 3.8-0.5 4.8 0.6 9.5-0.3 3.8 0.9 4.7-0.1 2.8-0.7 4.8-2.9 3.8-0.2 10.4 1.6 6.7 1.9 17.1 1.8 4.7 1.2 1.9 0.2 4.7-0.6 3.8 0.6 2.9-1.5 11.4-8.3 7.6-3.9 6.6-2.2 4.7-0.4 4.8-1.2 6.6 0 11.4-3.9 2.9-1.6 6.6-1.7 3.8 0.4 9.5 3.8" class="bl" stroke-opacity="0.5"/>
<path d="M918.3 943l0.9 0.4 0.8-0.5 0.9 0.2 0.4-0.5 0.9 0.5 3.4-1 2.5 0.2 2.6-0.5 2.6-1.1 2.2-0.1 4.1-3 3.3-1.1 1.1-1 2.2-0.5 0.8-0.7 7-1.5 1.9 0.2 8.5-1.7 10.5-0.8 13.3-0.5 4.7 0.7 3.8-0.3 1.9-0.4 3.8-2.4 2.8-1 6.7 0.1 17.1 3.5 3.8 0 4.7 1 4.8 0.2 6.6 1.3 4.7-0.6 3.8 0.5 2.9-1.3 5.7-4.6 7.6-4.7 5.7-3.1 5.7-1.9 5.6-0.7 4.8-1.1 6.6-0.1 11.4-3.9 2.9-1.5 6.6-1.8 3.8 0.3 9.5 3.9" class="or"/>
</g>
<rect x="907.7" y="875.9" width="239.5" height="135.6" class="sp"/>
<path d="M918.3 1011.5v14M1027.2 1011.5v14M1136.2 1011.5v14M907.7 903.9h-15M907.7 967.7h-15" class="tk"/>
<text x="918.3" y="1054.2" text-anchor="middle" class="lab">0</text>
<text x="1027.2" y="1054.2" text-anchor="middle" class="lab">15</text>
<text x="1136.2" y="1054.2" text-anchor="middle" class="lab">30</text>
<text x="1027.2" y="1090.5" text-anchor="middle" class="lab">Time in minutes</text>
<path d="M1181.7 875.9V1011.5M1290.6 875.9V1011.5M1399.6 875.9V1011.5M1171.1 903.9H1410.6M1171.1 967.7H1410.6" class="grid"/>
<clipPath id="cp43"><rect x="1171.1" y="875.9" width="239.5" height="135.6"/></clipPath>
<g clip-path="url(#cp43)">
<path d="M1181.6 883.2l2.5 13 2.4 8.1 3.2 6.2 2.5 3.2 1.1 1.1 1.2 0.1 1.8 1.2 1.1-0.1 3-2.4 2.2-0.5 1.5-1.2 2.9-0.6 7.5 4.6 3.8-1.9 0.9 0.4 3.8 4.4 2.9-0.5 3.8-2.9 1.9-0.6 6.6 3 1.9-0.1 3.8-1.8 3.8 1.7 4.8 4 0.9 0.3 2.9-1.2 5.6-6.6 1.9-1.7 1.9-0.8 3.8 2 7.6 8.1 3.8 2.8 4.8 1.7 3.8 0.5 0.9-0.1 1.9-1.4 1-0.1 3.8 1.1 4.7 3 5.7 1.2 5.7 0.2 5.7 1 1.9-0.2 2.8-8 1-1.5 4.7-0.3 1.9-1.2 2.9-3.4 0.9-0.5 3.8-0.2 1.9-0.6 4.8-6.5 4.7 1.4 1-0.2 3.7-3.5 1 0.1 1.9 0.7 6.6 4 2.9-0.1 4.7-3.6 4.8-0.8 1.9-2.8 2.8-6.1 1-1.5 0.9-0.4 4.8-0.4 0.9 0.5 2.9 3.6 7.6 7" class="bl" stroke-opacity="0.6"/>
<path d="M1181.6 1004.1l2.1-7.7 4.1-10.5 6.7-12.7 1.8-2.6 5.2-12.3 4.8-8.5 1.4-1.7 6.8-3.1 3.8-5.1 1.9-0.3 2.8 1.2 1-0.7 1.9-1.8 3.8-5.4 1.9-1.7 5.7-0.2 1.9-0.5 4.7-4.1 2.9 0.1 6.6 2.8 1-0.3 2.8-2.7 5.7-8.2 2.8-2.2 1.9 0.4 2.9 1.7 6.6 6.3 3.8 2.3 4.8 1.2 3.8 0.2 2.8-1.9 1-0.1 3.8 0.8 6.6 3.2 6.6 0 4.8 0.9 4.7 0 1-0.2 0.9-2 1.9-6 1-1.5 1.9-0.7 2.8 0.2 1-0.4 3.8-4.2 6.6-1.7 4.8-6.3 4.7 1.3 1.9-0.8 2.8-3 1.9 0.2 7.6 4.6 2.9-0.1 4.7-3.8 4.8-0.4 1.9-2.9 2.8-6.1 1-1.5 0.9-0.6 4.8-0.3 0.9 0.4 2.9 3.5 7.6 7" class="bl" stroke-opacity="0.6"/>
<path d="M1181.6 1003l2.8-13.4 4.3-12.7 5.8-10.5 1.8-2.5 5.2-11.6 3.7-6.3 2.5-3.2 6.8-1.8 3.8-4.9 1.9 0 2.8 1.4 1-0.5 1.9-1.8 3.8-5 1.9-1.6 5.7 0.2 1.9-0.4 4.7-3.6 2.9 0.4 5.7 2.8 1.9 0 2.8-2.7 5.7-7.9 2.8-2.1 3.8 1.6 9.5 8.6 3.8 1.5 6.7 1 2.8-1.8 1.9 0 2.9 0.7 6.6 3.6 6.6-0.3 4.8 1 4.7 0.3 1-0.2 2.8-8.2 1-1.5 1.9-0.6 2.8 0.2 1.9-1.3 2.9-3.5 6.6-1.5 4.8-6.4 4.7 1.5 1.9-0.9 2.8-3.1 1.9 0.2 7.6 4.7 2.9-0.1 4.7-3.9 2.9-0.6 1.9 0.2 1.9-2.8 2.8-6 1.9-2 4.8-0.6 0.9 0.6 2.9 3.5 7.6 6.9" class="bl" stroke-opacity="0.75"/>
<path d="M1181.6 1003.3l2.1-8.7 4.7-10.9 7.9-11.2 5.5-11.5 2.3-3.9 3.3-4.5 7.1-2.4 3.8-5.2 1.9-0.3 2.8 1.2 1-0.5 5.7-7.1 1.9-1.8 6.6-0.5 1.9-1 3.8-3.4 2.9 0.2 5.7 2.2 1.9-0.3 2.8-2.8 6.6-9.5 1.9-1.2 3.8 1.2 9.5 8.3 3.8 1.2 6.7 0.8 2.8-2.1 1.9 0 2.9 0.5 4.7 2.7 1.9 0.4 6.6-0.1 8.6 0.8 1.9-0.4 2.8-8.1 1-1.4 1.9-0.6 2.8 0 1.9-1.3 2.9-3.5 6.6-1.7 4.8-6.5 4.7 1.3 1-0.3 3.7-3.6 2.9 0.7 6.6 4 2.9-0.1 4.7-3.9 1-0.4 3.8 0 1.9-2.8 3.8-7.8 0.9-0.7 4.8-0.4 0.9 0.4 4.8 5.7 5.7 4.9" class="bl" stroke-opacity="0.5"/>
<path d="M1181.6 1002l2.1-11 3.7-9.3 4.1-5.8 1.8-1.9 1.9-3.3 1.1-1 7.4-14.7 3.7-5.3 7.1-2.4 3.8-5.1 1.9-0.2 2.8 1.4 1-0.5 1.9-1.7 3.8-5.4 1.9-1.6 6.6-0.5 1.9-0.8 3.8-3.2 3.8 0.3 4.8 2.3 1.9-0.2 2.8-2.6 4.7-7 1.9-2.2 1.9-1.2 3.8 1.4 2.9 2.2 4.7 4.8 1.9 1.5 1.9 0.7 8.6 1.4 2.8-2 1-0.2 3.8 0.9 6.6 2.9 6.6 0 4.8 0.8 3.8 0.1 1.9-0.3 2.8-7.9 1-1.6 1.9-0.7 2.8 0.1 1.9-1.3 2.9-3.4 6.6-1.6 4.8-6.4 1.9 0.1 2.8 1.1 1.9-0.9 2.8-2.8 2.9 0.7 6.6 4 2.9-0.2 4.7-3.7 4.8-0.8 0.9-1.1 3.8-7.6 1.9-2.2 4.8-0.4 0.9 0.3 4.8 5.5 5.7 5.1" class="bl" stroke-opacity="0.55"/>
<path d="M1181.6 994.2l1.9-10.3 3.4-8.9 2-3.7 7.4-9.8 5.2-10.6 5.1-8 1.1-1.1 1.5 0.1 5.3-1.6 3.8-4.8 1.9 0 2.8 1.6 1-0.4 1.9-1.7 3.8-4.9 1.9-1.6 5.7 0.2 1.9-0.4 4.7-3.4 3.8 0.6 5.7 2.6 1-0.3 2.8-2.4 5.7-8 0.9-1 1.9-0.9 3.8 1.3 7.6 7.2 1.9 1.6 1.9 0.9 8.6 1.7 2.8-2.1 1 0 3.8 0.8 4.7 2.8 1.9 0.6 6.6 0.1 4.8 0.8 4.7 0 1-0.1 3.8-9.4 5.7-1 3.8-4.1 6.6-1.7 4.8-6.4 2.8 0.5 1.9 1 1-0.2 3.7-3.7 1.9 0.2 7.6 4.7 2.9-0.2 4.7-3.7 4.8-0.6 1.9-2.9 2.8-6.1 1-1.4 0.9-0.5 4.8-0.5 0.9 0.3 4.8 5.7 5.7 5.1" class="bl" stroke-opacity="0.75"/>
<path d="M1181.6 987.6l2.1-9.5 3.7-9.8 7.1-10.4 1.8-1.8 5.2-10.3 2.6-4 3.3-4 7.1-1.2 3.8-4.3 0.9-0.2 3.8 1.9 1-0.5 7.6-7.7 6.6 0.7 2.9-1.3 1.9-1.9 1.9-0.5 3.8 1.2 3.8 2.3 1.9-0.1 2.8-2.3 6.6-8.9 1.9-1.1 3.8 1.7 9.5 8.8 4.8 1.8 2.8 0.9 2.9 0 2.8-1.9 1-0.1 3.8 1 4.7 2.8 1.9 0.6 6.6 0 8.6 1.3 1.9-0.4 2.8-8 1-1.5 4.7-0.5 1.9-1.2 2.9-3.5 1.9-0.6 2.8 0 1.9-0.8 4.8-6.4 4.7 1.4 1.9-0.8 2.8-3.1 1.9 0.4 7.6 4.6 2.9-0.3 4.7-3.7 4.8-0.5 1.9-2.7 2.8-6.2 1-1.5 0.9-0.4 4.8-0.5 0.9 0.4 4.8 5.5 5.7 5.1" class="bl" stroke-opacity="0.5"/>
<path d="M1181.6 985.5l1.5-3.9 4.1-7.3 9.1-12 4.1-8.5 3.7-6 3.3-4.2 7.1-1.5 3.8-4.6 0.9-0.3 3.8 1.8 2.9-2.1 3.8-4.7 1.9-1.7 1.9-0.2 3.8 0.6 1.9-0.5 0.9-0.3 3.8-3.2 3.8 0.7 4.8 2.5 1.9-0.1 2.8-2.7 5.7-7.8 2.8-2 3.8 1.4 2.9 2.3 4.7 5.1 1.9 1.5 1.9 0.6 5.7 1.4 2.9 0.1 2.8-1.9 1-0.1 3.8 0.8 3.8 2.4 2.8 1 3.8 0.3 2.8-0.4 4.8 0.9 3.8 0 1.9-0.2 2.8-8 1-1.5 1.9-0.6 2.8 0.2 1-0.4 3.8-4.4 1.9-0.7 2.8-0.1 1.9-0.7 4.8-6.4 4.7 1.3 1.9-0.8 2.8-3.2 1.9 0.2 7.6 4.7 2.9-0.1 4.7-3.9 4.8-0.5 1.9-2.8 2.8-6.2 1-1.5 0.9-0.6 4.8-0.4 0.9 0.5 4.8 5.7 5.7 5" class="bl" stroke-opacity="0.75"/>
<path d="M1181.6 978.7l1.5-2.8 4.3-4.4 4.5-3.6 1.4-0.7 0.8-1.3 2.2-1.9 3.7-6.9 4.1-6.1 3.3-3.7 7.1-1 3.8-4.5 0.9-0.2 3.8 2 1-0.4 1.9-1.6 4.7-5.7 1.9-0.7 4.8 0.5 1.9-0.6 4.7-3.4 3.8 0.5 4.8 2.5 1.9-0.2 2.8-2.7 5.7-7.9 2.8-2 2.9 0.9 1.9 1.3 8.5 7.8 6.7 1.9 3.8 0.2 2.8-1.8 1.9 0 2.9 0.5 4.7 2.6 1.9 0.5 3.8 0.3 2.8-0.4 8.6 1 1.9-0.4 2.8-8.1 1-1.6 5.7-0.8 3.8-4.5 1.9-0.7 2.8 0 1.9-0.8 4.8-6.5 1.9 0.1 2.8 1.2 1.9-0.8 2.8-3.2 1.9 0.1 7.6 4.7 2.9-0.2 5.7-4.3 3.8-0.2 1.9-2.9 2.8-6 1-1.5 0.9-0.5 4.8-0.7 0.9 0.5 4.8 5.6 5.7 4.8" class="bl" stroke-opacity="0.75"/>
<path d="M1181.6 973.4l1.5-3.4 2.6-3.8 3.6-4.2 7-6.4 4.1-7.5 3.7-5.3 3.3-3.6 7.1-0.5 3.8-4.4 0.9-0.2 3.8 2.5 2.9-2 3.8-4.6 1.9-1.4 5.7 0.5 1.9-0.3 4.7-3.3 3.8 0.7 5.7 2.9 1-0.4 2.8-2.3 5.7-8 2.8-2.1 3.8 1.6 2.9 2.2 4.7 5.1 1.9 1.5 1.9 0.7 4.8 1.4 3.8 0.1 0.9-0.2 1.9-1.6 1 0 3.8 0.6 4.7 3 1.9 0.4 6.6 0.1 8.6 1.1 1.9-0.3 2.8-8 1-1.5 5.7-1.1 3.8-4.2 0.9-0.5 3.8-0.4 1.9-0.8 4.8-6.4 1.9 0.3 2.8 1.3 1.9-0.9 2.8-3.1 1.9 0.1 7.6 4.9 2.9-0.1 4.7-4.1 4.8-0.5 1.9-2.8 2.8-6.2 1.9-2.1 4.8-0.3 0.9 0.4 2.9 3.7 7.6 7" class="bl" stroke-opacity="0.5"/>
<path d="M1181.6 972l2.1-3.8 3.7-4.6 8.9-8.5 5.2-9.3 2.6-3.8 3.3-3.6 7.1-0.8 3.8-4.1 1.9 0.2 2.8 1.9 2.9-2 3.8-4.7 1.9-1.4 1.9-0.2 4.7 0.7 1.9-0.5 3.8-3.1 4.8 1 3.8 2.3 1.9 0.1 2.8-2.6 5.7-7.7 2.8-2.1 4.8 2.2 6.6 6.6 3.8 2.4 6.7 1.4 2.8-0.3 1.9-1.4 1 0 2.8 0.5 5.7 3 1.9 0.5 1.9 0.4 4.7-0.3 4.8 0.9 3.8 0.1 1.9-0.2 3.8-9.6 4.7-0.5 1.9-1.1 3.8-3.9 3.8-0.4 1.9-0.6 2.9-4.5 1.9-2.1 4.7 1.5 1.9-0.8 2.8-3.1 1 0 1.9 0.7 6.6 4.3 2.9-0.3 4.7-3.8 4.8-0.5 1.9-2.8 2.8-6 1-1.6 0.9-0.5 4.8-0.5 0.9 0.4 2.9 3.8 7.6 6.9" class="bl" stroke-opacity="0.6"/>
<path d="M1181.6 967.6l2.1-3.6 1.1-0.8 2.6-3.4 2.3-1.5 1.8-2.1 1.8-0.9 1.2-1.7 1.8-1.3 3.7-6.5 4.1-5.6 3.3-3.2 7.1-0.2 3.8-4.1 1.9 0.4 2.8 2 1.9-0.9 4.8-5.3 1.9-1.3 5.7 0.6 1.9-0.2 4.7-3.1 2.9 0.3 5.7 3 1.9 0.1 2.8-2.2 5.7-8 2.8-2.1 2.9 1.3 3.8 2.7 6.6 6.4 3.8 1.6 3.8 0.8 2.9 0.1 2.8-1.9 1-0.1 3.8 1.2 6.6 3 9.5 0.5 5.7 0.7 1.9-0.4 3.8-9.4 5.7-1.1 4.7-4.6 3.8-0.4 1.9-0.7 4.8-6.4 1.9 0.2 2.8 1.3 1.9-0.9 2.8-3.1 1.9 0.2 7.6 4.7 2.9-0.1 5.7-4.3 3.8-0.1 1.9-2.8 2.8-6.1 1-1.5 0.9-0.6 3.8-0.5 1.9 0.5 2.9 3.5 7.6 7" class="bl" stroke-opacity="0.55"/>
<path d="M1181.6 966.4l1.5-2.8 1.7-1.3 2.6-3.4 8.9-7.4 4.1-7 3.7-5 3.3-3.3 7.1-0.1 3.8-4 1.9 0.4 2.8 2 1.9-1 4.8-5.1 1.9-1.3 1.9-0.1 3.8 0.8 1.9-0.2 4.7-3.3 3.8 0.9 4.8 2.7 1.9 0 2.8-2.4 5.7-7.7 2.8-2.2 1.9 0.7 4.8 3.4 6.6 6.6 4.8 1.6 2.8 0.8 2.9 0 2.8-1.7 1.9 0.1 2.9 0.5 4.7 2.9 1.9 0.6 6.6-0.1 8.6 1.1 1.9-0.2 3.8-9.7 4.7-0.5 1.9-1.2 3.8-3.9 3.8-0.2 1.9-0.6 4.8-6.6 4.7 1.3 1.9-0.8 2.8-3 1.9 0.2 7.6 4.6 2.9-0.2 4.7-3.6 4.8-0.8 1.9-2.8 2.8-6.1 1-1.4 0.9-0.6 2.9-0.4 1.9 0 0.9 0.5 4.8 5.5 5.7 5" class="bl" stroke-opacity="0.75"/>
<path d="M1181.6 962.4l1.5-1.7 1.7-0.3 3.7-2.7 1.2 0 1.8-1.5 1.8-0.6 1.2-1.4 1.8-0.9 7.8-11.8 3.3-2.9 7.1 0.1 3.8-4.1 1.9 0.4 2.8 2.1 2.9-1.8 3.8-4.4 1.9-1.4 6.6 0.7 1.9-0.6 3.8-2.9 3.8 0.8 5.7 2.8 1-0.1 1.9-1.3 6.6-9.1 2.8-1.9 3.8 1.6 9.5 8.8 1.9 0.7 6.7 1.6 2.8-0.4 1.9-1.6 1.9 0 2.9 0.7 4.7 2.7 1.9 0.6 2.9 0.3 3.7-0.3 4.8 0.9 3.8 0 1.9-0.3 3.8-9.3 5.7-1.2 4.7-4.7 3.8-0.3 1.9-0.6 4.8-6.6 4.7 1.4 1.9-0.8 2.8-3.1 1.9 0 7.6 4.8 2.9-0.2 4.7-3.9 4.8-0.5 1.9-2.8 2.8-6.2 1.9-2.1 4.8-0.4 0.9 0.4 2.9 3.8 7.6 6.9" class="bl" stroke-opacity="0.55"/>
<path d="M1181.6 957.2l1.5-2.2 4.3-4 5.9-3.6 1.9-1.8 1.1-0.3 5.2-8.2 2.6-3.3 3.3-2.9 7.1 0.8 3.8-3.7 0.9-0.1 3.8 2.6 1.9-0.9 4.8-4.7 1.9-1.2 5.7 1 1.9-0.2 4.7-2.9 2.9 0.4 4.7 3 1.9 0.7 1-0.2 2.8-2.2 5.7-7.7 2.8-1.9 1.9 0.6 2.9 1.9 8.5 8.2 3.8 1.7 6.7 1.1 2.8-1.8 1.9 0.1 2.9 0.7 4.7 2.9 1.9 0.5 3.8 0.4 2.8-0.5 4.8 1.2 3.8 0.2 1.9-0.2 3.8-9.6 4.7-0.4 1.9-1.2 1.9-2.5 1.9-1.5 2.9-0.1 2.8-0.9 2.9-4.3 1.9-2 1.9 0.2 2.8 1.2 1.9-0.9 2.8-3.1 1 0.1 1.9 0.6 3.8 2.9 2.8 1.5 2.9-0.1 4.7-3.8 4.8-0.7 1.9-2.7 2.8-6 1-1.5 0.9-0.7 4.8-0.3 0.9 0.4 2.9 3.6 7.6 6.9" class="bl" stroke-opacity="0.75"/>
<path d="M1181.6 955.5l1.5-2.9 4.3-3.5 5.9-3 1.2-1.4 1.8-0.6 3.7-5.9 4.1-5.3 3.6-2.9 3 0.7 3.8 0.2 3.8-3.6 0.9-0.1 3.8 2.9 2.9-1.6 3.8-4.1 1.9-1.1 5.7 1.2 1.9-0.2 0.9-0.2 3.8-2.5 3.8 0.7 5.7 3.5 1-0.2 2.8-2.3 5.7-7.8 2.8-1.9 3.8 2 9.5 9 1.9 0.9 5.7 1.7 2.9 0.2 2.8-1.8 1-0.1 2.8 0.6 5.7 3.2 1.9 0.5 6.6 0 8.6 1.3 1.9-0.3 2.8-7.9 1-1.5 5.7-0.9 3.8-4.2 0.9-0.5 2.9-0.1 2.8-0.8 4.8-6.4 1.9 0.2 2.8 1.2 1.9-0.9 2.8-2.9 1.9 0.3 1.9 0.9 5.7 3.6 2.9-0.1 4.7-3.8 4.8-0.5 1.9-3 2.8-6.2 1-1.4 0.9-0.5 4.8-0.3 0.9 0.5 5.7 6.4 4.8 4.1" class="bl" stroke-opacity="0.75"/>
<path d="M1181.6 952.3l1.4-1.7 1.8-0.4 2.6-2.2 2.3-0.6 1.8-1.5 1.8-0.4 1.9-1.9 1.1-0.2 2.2-2.9 1.5-2.8 4.1-5.1 3.3-2.6 3.3 0.7 3.8 0.2 3.8-3.4 1.9 0.6 2.8 2.4 1.9-0.9 4.8-4.8 1.9-1 1.9 0 3.8 1.2 1.9-0.1 4.7-3 2.9 0.7 6.6 3.8 1-0.2 2.8-2.2 5.7-7.6 2.8-2 4.8 2.3 6.6 7.1 1.9 1.7 1.9 0.8 5.7 1.6 2.9 0.1 2.8-1.9 1 0 3.8 0.9 3.8 2.5 2.8 1.1 6.6 0.2 4.8 0.9 3.8 0 1.9-0.2 2.8-7.9 1-1.5 1.9-0.5 2.8 0 1.9-1.3 2.9-3.5 4.7-0.7 1.9-0.7 4.8-6.4 4.7 1.5 1.9-0.9 2.8-3.1 1.9 0.3 7.6 4.7 2.9-0.2 4.7-3.7 4.8-0.6 1.9-2.9 2.8-5.8 1.9-2.2 2.9-0.5 1.9 0 0.9 0.5 2.9 3.7 7.6 6.9" class="bl" stroke-opacity="0.55"/>
<path d="M1181.6 933.9l3.2 4.5 3.2 1.1 5.3 0.3 1.2-0.9 1.8-0.2 1.1-1 3-4.2 4-3.9 3-2 1.8 0.9 5.3 1.2 3.8-3.3 1.9 0.9 2.8 2.6 1-0.1 1.9-1.2 4.7-4.5 1.9-0.2 4.8 1.5 1.9 0 1.9-0.9 1.9-1.8 0.9-0.1 3.8 1.1 4.8 3 1.9 0.2 2.8-2.2 5.7-7.2 2.8-2.2 3.8 2 9.5 9.1 3.8 1.7 3.8 1 2.9 0 2.8-1.7 1 0 3.8 1 4.7 2.8 1.9 0.5 6.6 0.1 4.8 0.9 4.7 0.1 1-0.1 2.8-8.1 1-1.5 5.7-0.8 3.8-4.3 1.9-0.7 1.9 0.1 2.8-0.9 4.8-6.5 1.9 0.2 2.8 1.3 1.9-0.8 2.8-3 1.9 0.2 6.7 4.3 0.9 0.3 2.9-0.3 5.7-4 3.8-0.3 1.9-2.9 2.8-6.1 1-1.4 0.9-0.6 2.9-0.4 2.8 0.5 4.8 5.4 5.7 5.1" class="bl" stroke-opacity="0.75"/>
<path d="M1181.6 923.4l3.2 6.9 4.9 1.8 1.8-0.4 1.8 0.2 1.2-0.8 1.8 0 2.2-2 1.5-2.3 4.1-3.7 3.3-2 2.9 1.6 4.2 1 3.8-2.7 0.9 0.1 3.8 3.6 2.9-1.1 3.8-3.7 1.9-1 5.7 1.9 1.9 0.1 4.7-2.7 3.8 1.3 4.8 3.4 1.9 0.2 2.8-2.2 5.7-7.4 2.8-1.7 1.9 0.6 1.9 1.2 2.9 2.6 4.7 5.4 1.9 1.4 3.8 1.7 3.8 1 2.9 0.1 0.9-0.1 1.9-1.4 1-0.1 3.8 0.9 4.7 3.1 1.9 0.5 3.8 0.4 2.8-0.2 4.8 1 5.7 0 2.8-7.9 1-1.5 5.7-0.9 4.7-4.8 3.8-0.2 1.9-0.6 4.8-6.4 4.7 1.4 1.9-0.9 2.8-2.9 1.9 0.1 7.6 4.8 2.9 0.1 4.7-4.1 4.8-0.4 1.9-2.9 2.8-6 1.9-2.1 4.8-0.3 0.9 0.4 2.9 3.7 7.6 6.9" class="bl" stroke-opacity="0.6"/>
<path d="M1181.6 919.9l3.2 5.5 4.9 3.8 3.6 1.2 1.2-0.5 1.8 0.1 1.1-0.7 1.1-0.8 1.5-2.3 2.6-1.7 1.5-1.7 3.6-1.6 1.5 1 5.3 1.7 3.8-2.7 0.9 0.1 3.8 3.4 1 0 1.9-0.9 3.8-3.6 1.9-1 6.6 1.9 1.9-0.4 3.8-2.2 3.8 1.1 4.8 3.2 0.9 0.6 1-0.2 1.9-1.2 6.6-8.4 2.8-1.8 3.8 1.9 9.5 9.3 4.8 2 2.8 0.9 2.9 0.1 2.8-1.8 1-0.1 3.8 1.1 3.8 2.3 2.8 1.1 15.2 1.4 1.9-0.3 2.8-8 1-1.5 1.9-0.4 2.8 0.1 1.9-1.2 2.9-3.4 0.9-0.5 3.8-0.1 1.9-0.8 4.8-6.5 4.7 1.5 1.9-0.8 2.8-3 1.9 0.2 7.6 4.7 2.9-0.2 4.7-3.6 4.8-0.7 1.9-2.8 2.8-6 1.9-2 2.9-0.5 1.9 0.1 0.9 0.5 4.8 5.4 5.7 5.1" class="bl" stroke-opacity="0.55"/>
<path d="M1181.6 920.1l3.2 6.1 1.7 1.7 3.2 2.4 3.6 1.1 1.9-0.7 1.1 0.3 1.1-0.7 2.6-3.3 4.1-3.4 3.3-1.6 7.1 2.7 3.8-3.1 1.9 1 2.8 2.9 1 0 1.9-0.9 3.8-3.5 1.9-1 6.6 1.8 1.9-0.3 3.8-2.2 2.9 0.8 5.7 3.7 1.9 0.3 2.8-2.2 5.7-7.2 2.8-1.8 3.8 1.8 7.6 7.6 3.8 2.8 5.7 1.7 2.9 0.3 2.8-1.8 1 0 3.8 0.8 3.8 2.5 2.8 1.1 3.8 0.4 2.8-0.3 8.6 1.5 1.9-0.4 2.8-8.1 1-1.6 5.7-0.6 4.7-4.8 2.9-0.1 2.8-0.9 4.8-6.3 1.9 0.1 2.8 1.2 1-0.1 3.7-3.8 1 0.1 0.9 0.1 7.6 5 2.9-0.4 4.7-3.6 4.8-0.7 1.9-2.8 2.8-6 1.9-2.2 4.8-0.3 0.9 0.5 4.8 5.5 5.7 5" class="bl" stroke-opacity="0.6"/>
<path d="M1181.6 918.2l2.5 7.3 2.2 3.8 3.7 3.1 3.3 1.3 1.2-0.6 1.8 0.6 2.2-1.6 1.5-2.3 2.6-1.6 1.5-1.7 3.3-1.6 2.9 1.5 4.2 1.1 3.8-2.7 1.9 1 2.8 2.7 1 0 7.6-5.6 1.9 0.2 4.7 1.6 1.9-0.3 3.8-2.5 3.8 1.1 4.8 3.3 1.9 0.3 1.9-1.3 6.6-8.5 2.8-1.8 3.8 1.7 2.9 2.4 4.7 5.3 3.8 2.6 5.7 1.5 2.9 0.2 0.9-0.2 1.9-1.4 1.9 0 2.9 0.6 4.7 3 1.9 0.5 2.9 0.4 3.7-0.2 7.6 1.2 2.9-0.5 2.8-7.8 1-1.5 1.9-0.6 2.8 0.3 1.9-1.4 2.9-3.6 1.9-0.7 2.8 0.1 1.9-0.8 4.8-6.4 1.9 0.2 2.8 1.1 1-0.3 3.7-3.6 2.9 0.8 2.8 2.2 3.8 2 2.9 0 4.7-3.9 4.8-0.5 1.9-2.9 2.8-6.2 1-1.5 0.9-0.4 4.8-0.4 0.9 0.5 4.8 5.5 5.7 4.9" class="bl" stroke-opacity="0.6"/>
<path d="M1181.6 913.8l3.2 6.9 1.5 1.9 3.7 3.6 3.3 1.6 0.8-0.4 2.2 0.6 1.1-0.6 1.1-0.7 2.2-2.7 1.9-1 1.5-1.4 3.3-1.4 2.9 1.8 4.2 1.6 3.8-2.3 0.9 0.2 3.8 3.7 2.9-0.8 3.8-3.3 1.9-0.8 5.7 1.9 2.8 0.1 3.8-2.3 3.8 1.3 4.8 3.5 1.9 0.3 2.8-2.1 5.7-7.2 2.8-1.8 4.8 2.7 8.5 8.7 4.8 2 2.8 0.8 2.9 0 0.9-0.1 1.9-1.5 1.9 0.1 2.9 1 3.8 2.3 2.8 1.1 6.6 0.3 4.8 0.9 4.7 0.1 1-0.2 2.8-8 1-1.5 4.7-0.6 1.9-1.2 2.9-3.3 6.6-1.4 4.8-6.5 1.9 0.3 2.8 1.2 1.9-0.8 2.8-3.1 1.9 0.2 7.6 4.6 2.9 0.1 5.7-4.2 3.8-0.3 1.9-2.8 2.8-6 1.9-2.1 3.8-0.6 1.9 0.5 1.9 2.7 5.7 5.7 2.9 2.2" class="bl" stroke-opacity="0.5"/>
<path d="M1181.6 910.2l2.5 6 2.4 4.1 3.2 3.4 1.8 0.8 1.1 1.2 0.7 0.3 1.2-0.3 1.8 0.8 2.2-1.3 1.9-2.3 2.2-1 1.5-1.4 3.3-1.3 7.1 3.2 3.8-2.5 0.9 0.2 3.8 3.7 2.9-0.9 3.8-3.4 1.9-1 6.6 2 1.9-0.1 1.9-1.5 1.9-0.9 2.9 1 5.7 3.7 1.9 0.4 2.8-2.2 5.7-7.4 2.8-1.8 4.8 2.8 6.6 7 3.8 2.7 5.7 1.6 2.9 0.3 2.8-1.7 1-0.1 3.8 0.9 4.7 2.9 1.9 0.5 6.6 0.3 4.8 1 3.8 0.2 1.9-0.1 3.8-9.4 5.7-1.1 3.8-4.1 0.9-0.4 2.9 0 2.8-1 4.8-6.5 2.8 0.5 1.9 1.1 1.9-0.9 2.8-3.1 1.9 0.3 7.6 4.7 2.9 0 5.7-4.2 3.8-0.1 4.7-9 1-1.4 0.9-0.5 4.8-0.5 0.9 0.4 4.8 5.6 5.7 5" class="bl" stroke-opacity="0.55"/>
<path d="M1181.6 908.6l2.5 7.6 2.4 5 3.2 4.1 3.6 2.6 1.2-0.4 1.8 0.8 1.1-0.4 2.6-2.5 4.1-3 3.3-1.1 7.1 3.3 3.8-2.5 0.9 0.3 3.8 3.9 1.9-0.5 4.8-3.9 1.9-0.8 7.6 2 1.9-0.6 2.8-1.7 2.9 0.8 5.7 3.8 1.9 0.2 1.9-1.1 6.6-8.2 2.8-1.8 3.8 1.8 9.5 9.4 4.8 2 5.7 0.8 2.8-1.7 1 0 3.8 1.1 3.8 2.2 2.8 1.1 14.2 1.2 2.9-0.2 2.8-7.9 1-1.6 1.9-0.5 2.8 0.1 1.9-1.2 2.9-3.3 6.6-1.5 4.8-6.5 1.9 0.2 2.8 1.2 1.9-0.8 2.8-3.1 1.9 0.1 7.6 4.9 2.9-0.2 5.7-4.2 3.8-0.3 0.9-1 3.8-7.9 1-1.5 0.9-0.5 4.8-0.3 0.9 0.4 5.7 6.5 4.8 4" class="bl" stroke-opacity="0.6"/>
<path d="M1181.6 899.8l3.2 10.1 1.7 3.1 3.2 4 3.6 2.8 1.2-0.3 1.8 0.7 2.2-1.2 1.5-1.9 2.6-1.2 1.5-1.4 3.6-1.1 1.9 1.7 4.9 2.4 3.8-2.3 0.9 0.4 3.8 4.1 2.9-0.6 3.8-3.1 1.9-0.8 6.6 2.6 2.9-0.5 2.8-1.5 3.8 1.5 5.7 4.3 2.9-1.1 5.6-6.9 1.9-1.8 1.9-0.8 3.8 2.1 9.5 9.7 4.8 2.2 5.7 1.1 0.9-0.1 1.9-1.4 1.9 0.1 2.9 0.8 6.6 3.6 2.9 0.5 3.7-0.1 7.6 1.3 2.9-0.2 2.8-7.9 1-1.6 1.9-0.5 0.9 0.3 2.9-0.4 3.8-4.1 0.9-0.5 5.7-0.9 4.8-6.4 1.9 0.3 2.8 1.2 1.9-0.9 2.8-3 1.9 0.3 1.9 0.9 5.7 3.7 2.9-0.1 4.7-3.8 1-0.4 3.8-0.2 1.9-2.8 2.8-6 1.9-2.1 4.8-0.4 0.9 0.5 4.8 5.6 5.7 5" class="bl" stroke-opacity="0.75"/>
<path d="M1181.6 889.4l2.5 16.5 2.4 8.7 3.2 5.8 3.6 2.8 1.2-0.2 1.8 0.7 2.2-1.2 1.5-2 4.1-2.6 3.3-1.2 7.1 3.7 3.8-2.2 0.9 0.2 3.8 4 2.9-0.8 4.7-3.8 2.9 0.2 4.7 2.1 1.9-0.2 1.9-1.4 1.9-0.8 2.9 1 6.6 4.6 2.9-1.2 5.6-7.3 1.9-1.8 1.9-0.8 1.9 0.8 2.9 2.1 8.5 8.7 3.8 1.7 3.8 1.1 2.9 0.3 2.8-1.8 1-0.1 3.8 1.2 4.7 2.9 1.9 0.5 6.6 0.5 7.6 1.2 2.9-0.4 2.8-7.9 1-1.5 0.9-0.4 3.8 0.1 1.9-1.2 2.9-3.4 0.9-0.5 2.9-0.2 2.8-0.9 4.8-6.2 4.7 1.3 1.9-0.8 2.8-3 1.9 0.1 7.6 4.8 2.9-0.2 4.7-3.8 4.8-0.5 0.9-1.1 3.8-7.6 1-1.5 0.9-0.5 4.8-0.7 0.9 0.5 3.8 4.7 6.7 5.9" class="bl" stroke-opacity="0.5"/>
<path d="M1181.6 889.7l1.7 14 2.3 10.2 1.5 3.4 2.6 3.8 3.6 2.2 0.8-0.5 2.2 0.4 1.1-0.4 2.6-2.8 4.1-2.8 3.6-0.9 6.8 3.6 3.8-2.5 0.9 0.4 3.8 4 1 0 1.9-0.8 3.8-3.1 1.9-0.7 5.7 2.2 1.9 0.2 4.7-2.2 2.9 1.1 5.7 4.2 1.9 0.2 2.8-2 5.7-6.9 2.8-1.8 1.9 0.8 2.9 2 6.6 7.4 1.9 1.5 3.8 1.7 3.8 1.2 2.9 0.3 2.8-1.8 1 0 3.8 1.1 3.8 2.6 2.8 1 3.8 0.5 2.8-0.2 4.8 1 4.7 0.3 1-0.2 2.8-7.9 1-1.5 1.9-0.5 2.8 0.1 1.9-1.3 2.9-3.4 1.9-0.6 2.8 0 1.9-0.8 4.8-6.4 1.9 0.2 2.8 1.3 1.9-0.7 2.8-3.2 1.9 0.3 2.9 1.5 4.7 3.3 2.9-0.2 4.7-3.9 4.8-0.6 0.9-1 3.8-8 1.9-1.9 4.8-0.3 0.9 0.5 2.9 3.5 7.6 7" class="bl" stroke-opacity="0.55"/>
<path d="M1181.6 942.6l1.4-0.6 1.8 0.5 2.6-1 2.3 0 1.8-0.9 1.8-0.1 1.2-1.1 1.8-0.4 2.2-2.4 1.5-2.7 4.1-4.4 3.6-2.4 2.6 1.1 4.2 0.6 3.8-3.2 0.9 0 3.8 3.2 2.9-1.3 3.8-3.9 1.9-1.1 6.6 1.5 1.9-0.3 3.8-2.6 3.8 1.2 4.8 3 1.9 0.2 2.8-2.2 5.7-7.4 2.8-2 3.8 1.9 2.9 2.4 4.7 5.2 1.9 1.6 1.9 0.8 5.7 1.7 2.9 0.2 2.8-1.7 1-0.1 3.8 0.9 4.7 2.9 1.9 0.5 6.6 0.2 4.8 1 3.8 0.1 1.9-0.2 2.8-7.9 1-1.6 1.9-0.5 2.8 0.1 1.9-1.2 2.9-3.5 0.9-0.5 3.8-0.2 1.9-0.7 4.8-6.4 1.9 0.2 2.8 1.2 1.9-0.9 2.8-3 1.9 0.2 7.6 4.7 2.9-0.1 4.7-3.8 4.8-0.6 1.9-2.9 2.8-6 1-1.5 0.9-0.5 4.8-0.5 0.9 0.5 4.8 5.5 5.7 5.1" class="or"/>
</g>
<rect x="1171.1" y="875.9" width="239.5" height="135.6" class="sp"/>
<path d="M1181.7 1011.5v14M1290.6 1011.5v14M1399.6 1011.5v14M1171.1 903.9h-15M1171.1 967.7h-15" class="tk"/>
<text x="1181.7" y="1054.2" text-anchor="middle" class="lab">0</text>
<text x="1290.6" y="1054.2" text-anchor="middle" class="lab">15</text>
<text x="1399.6" y="1054.2" text-anchor="middle" class="lab">30</text>
<text x="1290.6" y="1090.5" text-anchor="middle" class="lab">Time in minutes</text>
</svg>
<div class="ln j" style="top:1130.02px;left:228.4px;width:1205.6px;"><span>Figure</span><span>7.12:</span><span>Estimation</span><span>(blue)</span><span>recovery</span><span>to</span><span>the</span><span>ground</span><span>truth</span><span>(orange)</span><span>for</span><span>the</span><span>small,</span><span>sparse,</span><span>68-parameter</span><span>TNN</span></div>
<div class="ln" style="top:1167.22px;left:371.2px;">during all profiles of <span class="it">G</span></div>
<div class="hd" style="left:227.5px;top:1263.08px;">7.4  Generalization to neural ordinary differential equations</div>
<div class="ln j" style="top:1362.02px;left:228.4px;width:1205.6px;"><span>NODEs</span><span>(see</span><span>Sec.</span><span>4.4.3)</span><span>were</span><span>motivated</span><span>by</span><span>the</span><span>resemblance</span><span>of</span><span>residual</span><span>neural</span><span>networks</span><span>(6.16)</span><span>with</span><span>explicit-</span></div>
<div class="ln j" style="top:1399.52px;left:228.4px;width:1205.6px;"><span>Euler</span><span>discretized</span><span style="margin-right:5px">ODEs.</span><span>Since</span><span>TNNs</span><span>are</span><span>trained</span><span>with</span><span>TBPTT,</span><span>the</span><span>question</span><span>emerges</span><span>whether</span><span>NODEs</span><span>with</span></div>
<div class="ln j" style="top:1437.12px;left:228.4px;width:1205.6px;"><span>the</span><span>adjoint</span><span>sensitivity</span><span>method</span><span>as</span><span>training</span><span>algorithm</span><span>might</span><span>do</span><span style="margin-right:5px">better.</span><span>Formulating</span><span>a</span><span>TNN</span><span>as</span><span>a</span><span>NODE</span><span>is</span></div>
<div class="ln" style="top:1474.62px;left:228.4px;">straight-forward and just resorts to the continuous-time version of (7.3) with</div>
<div class="ln j" style="top:1657.52px;left:228.4px;width:1205.6px;"><span>This</span><span>is</span><span>an</span><span>extension</span><span>of</span><span>NODEs</span><span>to</span><span>further</span><span>establish</span><span>heat</span><span>transfer</span><span>principles,</span><span>which</span><span>could</span><span>be</span><span>also</span><span>called</span><span>a</span></div>
<div class="ln j" style="top:1694.92px;left:228.4px;width:1205.6px;"><span>universal</span><span>differential</span><span>equation</span><span>[Rac+21]</span><span style="margin-right:5px">accordingly.</span><span>Using</span><span>NODEs</span><span>over</span><span>classic</span><span>TNNs</span><span>could</span><span>be</span><span>beneficial</span></div>
<div class="ln" style="top:1732.32px;left:228.4px;">because</div>
<div class="dot" style="left:279.7px;top:1813.1px"></div>
<div class="ln" style="top:1797.62px;left:304.6px;">training suffers less from the exploding and vanishing gradient problem [PMB13], and</div>
<div class="dot" style="left:279.7px;top:1850.2px"></div>
<div class="ln j" style="top:1835.12px;left:304.6px;width:1129.4px;"><span>the</span><span>free</span><span>choice</span><span>of</span><span>the</span><span>ODE</span><span>solver</span><span>enables</span><span>a</span><span>NODE</span><span>to</span><span>be</span><span>applied</span><span>also</span><span>to</span><span>irregularly</span><span>sampled</span><span>data</span></div>
<div class="ln" style="top:1872.92px;left:304.6px;">[Che+19].</div>
<div class="ln j" style="top:1937.72px;left:228.4px;width:1205.6px;"><span>The</span><span>empirical</span><span>performance</span><span>of</span><span>TNNs</span><span>as</span><span>NODEs</span><span>was</span><span>demonstrated</span><span>in</span><span style="margin-right:5px">[KWB22].</span><span>There,</span><span>it</span><span>was</span><span>shown</span></div>
<div class="ln j" style="top:1975.42px;left:228.4px;width:1205.6px;"><span>that</span><span>NODEs</span><span>would</span><span>achieve</span><span>slightly</span><span>better</span><span>performances</span><span>for</span><span>a</span><span>substantially</span><span>increased</span><span>training</span><span>time,</span><span>see</span><span>an</span></div>
<div class="ln j" style="top:2012.82px;left:228.4px;width:1205.6px;"><span>excerpt</span><span>from</span><span>[KWB22]</span><span>in</span><span>Fig.</span><span style="margin-right:5px">7.13.</span><span>Training</span><span>times</span><span>differ</span><span>depending</span><span>on</span><span>the</span><span>degree</span><span>of</span><span>parallelization</span><span>through</span></div>
<svg class="eq" width="1654" height="120" viewBox="0 1530 1654 120" style="position:absolute;left:0;top:1530px">
<rect x="374.5" y="1587.8" width="32.2" height="1.2" fill="#000"/>
<text x="373.73" y="1573.80" style="font-family:&quot;Liberation Serif&quot;;font-size:27.78px;font-style:normal;font-weight:normal">d</text>
<text x="389.50" y="1573.80" style="font-family:&quot;Liberation Serif&quot;;font-size:27.78px;font-style:italic;font-weight:bold">ϑ</text>
<text x="377.93" y="1616.00" style="font-family:&quot;Liberation Serif&quot;;font-size:27.78px;font-style:normal;font-weight:normal">d</text>
<text x="393.63" y="1616.00" style="font-family:&quot;Liberation Serif&quot;;font-size:27.78px;font-style:italic;font-weight:normal">t</text>
<text transform="translate(418.41 1597.94) scale(1.221 1.071)" style="font-family:&quot;Liberation Serif&quot;;font-size:27.78px;font-style:normal;font-weight:normal">=</text>
<text x="446.97" y="1595.50" style="font-family:&quot;Liberation Serif&quot;;font-size:27.78px;font-style:italic;font-weight:bold">κ</text>
<text transform="translate(463.73 1595.50) scale(1 1.1)" style="font-family:&quot;Liberation Serif&quot;;font-size:27.78px;font-style:normal;font-weight:normal">(</text>
<text x="473.93" y="1595.50" style="font-family:&quot;Liberation Serif&quot;;font-size:27.78px;font-style:italic;font-weight:normal">t</text>
<text transform="translate(484.53 1595.50) scale(1 1.1)" style="font-family:&quot;Liberation Serif&quot;;font-size:27.78px;font-style:normal;font-weight:normal">)</text>
<text transform="translate(502.60 1597.18) scale(0.970 0.975)" style="font-family:&quot;DejaVu Sans&quot;;font-size:27.78px;font-style:normal;font-weight:normal">⊙</text>
<text transform="translate(533.74 1610.53) scale(1.216 3.467)" style="font-family:&quot;Liberation Serif&quot;;font-size:27.78px;font-style:normal;font-weight:normal">(</text>
<text x="546.00" y="1595.50" style="font-family:&quot;Liberation Serif&quot;;font-size:27.78px;font-style:italic;font-weight:bold">π</text>
<text transform="translate(565.73 1595.50) scale(1 1.1)" style="font-family:&quot;Liberation Serif&quot;;font-size:27.78px;font-style:normal;font-weight:normal">(</text>
<text x="575.93" y="1595.50" style="font-family:&quot;Liberation Serif&quot;;font-size:27.78px;font-style:italic;font-weight:normal">t</text>
<text transform="translate(587.13 1595.50) scale(1 1.1)" style="font-family:&quot;Liberation Serif&quot;;font-size:27.78px;font-style:normal;font-weight:normal">)</text>
<text transform="translate(604.39 1598.84) scale(1.160 1.167)" style="font-family:&quot;Liberation Serif&quot;;font-size:27.78px;font-style:normal;font-weight:normal">+</text>
<text transform="translate(631.01 1601.86) scale(1.139 2.097)" style="font-family:&quot;Liberation Serif&quot;;font-size:27.78px;font-style:normal;font-weight:normal">(</text>
<text transform="translate(645.23 1597.01) scale(0.883 1.332)" style="font-family:&quot;Liberation Serif&quot;;font-size:27.78px;font-style:normal;font-weight:normal">(</text>
<text x="654.63" y="1595.80" style="font-family:&quot;Liberation Serif&quot;;font-size:27.78px;font-style:normal;font-weight:bold">1</text>
<text transform="translate(670.83 1601.50) scale(0.939 1.145)" style="font-family:&quot;Liberation Serif&quot;;font-size:20.0px;font-style:normal;font-weight:normal">[</text>
<text x="678.97" y="1601.80" style="font-family:&quot;Liberation Serif&quot;;font-size:22.0px;font-style:italic;font-weight:normal">Q</text>
<text transform="translate(700.21 1601.50) scale(0.939 1.145)" style="font-family:&quot;Liberation Serif&quot;;font-size:20.0px;font-style:normal;font-weight:normal">]</text>
<text transform="translate(715.50 1597.85) scale(0.922 1.037)" style="font-family:&quot;Liberation Serif&quot;;font-size:27.78px;font-style:normal;font-weight:normal">·</text>
<text x="731.30" y="1595.50" style="font-family:&quot;Liberation Serif&quot;;font-size:27.78px;font-style:italic;font-weight:bold">ϑ</text>
<text transform="translate(739.80 1584.27) scale(0.878 0.845)" style="font-family:&quot;Liberation Serif&quot;;font-size:27.78px;font-style:normal;font-weight:bold">ˆ</text>
<text x="749.08" y="1599.60" style="font-family:&quot;Liberation Serif&quot;;font-size:20.0px;font-style:normal;font-weight:normal">ext</text>
<text transform="translate(776.73 1595.50) scale(1 1.1)" style="font-family:&quot;Liberation Serif&quot;;font-size:27.78px;font-style:normal;font-weight:normal">(</text>
<text x="786.33" y="1595.50" style="font-family:&quot;Liberation Serif&quot;;font-size:27.78px;font-style:italic;font-weight:normal">t</text>
<text transform="translate(797.33 1595.50) scale(1 1.1)" style="font-family:&quot;Liberation Serif&quot;;font-size:27.78px;font-style:normal;font-weight:normal">)</text>
<text x="808.32" y="1582.40" style="font-family:&quot;Liberation Sans&quot;;font-size:18.0px;font-style:normal;font-weight:normal">T</text>
<text transform="translate(826.84 1597.45) scale(1.198 1.037)" style="font-family:&quot;Liberation Serif&quot;;font-size:27.78px;font-style:normal;font-weight:normal">−</text>
<text x="855.20" y="1595.50" style="font-family:&quot;Liberation Serif&quot;;font-size:27.78px;font-style:italic;font-weight:bold">ϑ</text>
<text transform="translate(863.70 1584.27) scale(0.878 0.845)" style="font-family:&quot;Liberation Serif&quot;;font-size:27.78px;font-style:normal;font-weight:bold">ˆ</text>
<text transform="translate(872.73 1595.50) scale(1 1.1)" style="font-family:&quot;Liberation Serif&quot;;font-size:27.78px;font-style:normal;font-weight:normal">(</text>
<text x="882.73" y="1595.50" style="font-family:&quot;Liberation Serif&quot;;font-size:27.78px;font-style:italic;font-weight:normal">t</text>
<text transform="translate(894.03 1595.50) scale(1 1.1)" style="font-family:&quot;Liberation Serif&quot;;font-size:27.78px;font-style:normal;font-weight:normal">)</text>
<text transform="translate(913.20 1597.85) scale(0.922 1.037)" style="font-family:&quot;Liberation Serif&quot;;font-size:27.78px;font-style:normal;font-weight:normal">·</text>
<text x="928.13" y="1595.80" style="font-family:&quot;Liberation Serif&quot;;font-size:27.78px;font-style:normal;font-weight:bold">1</text>
<text x="941.32" y="1583.30" style="font-family:&quot;Liberation Sans&quot;;font-size:18.0px;font-style:normal;font-weight:normal">T</text>
<text transform="translate(944.83 1604.00) scale(0.939 1.095)" style="font-family:&quot;Liberation Serif&quot;;font-size:20.0px;font-style:normal;font-weight:normal">[</text>
<text x="952.77" y="1604.40" style="font-family:&quot;Liberation Serif&quot;;font-size:22.0px;font-style:italic;font-weight:normal">Q+</text>
<text x="984.81" y="1604.40" style="font-family:&quot;Liberation Serif&quot;;font-size:22.0px;font-style:italic;font-weight:normal">n</text>
<text transform="translate(999.01 1604.00) scale(0.939 1.095)" style="font-family:&quot;Liberation Serif&quot;;font-size:20.0px;font-style:normal;font-weight:normal">]</text>
<text transform="translate(1008.89 1596.83) scale(0.935 1.312)" style="font-family:&quot;Liberation Serif&quot;;font-size:27.78px;font-style:normal;font-weight:normal">)</text>
<text transform="translate(1026.50 1597.18) scale(0.970 0.975)" style="font-family:&quot;DejaVu Sans&quot;;font-size:27.78px;font-style:normal;font-weight:normal">⊙</text>
<text x="1059.63" y="1595.50" style="font-family:&quot;Liberation Serif&quot;;font-size:27.78px;font-style:italic;font-weight:bold">G</text>
<text transform="translate(1084.63 1595.50) scale(1 1.1)" style="font-family:&quot;Liberation Serif&quot;;font-size:27.78px;font-style:normal;font-weight:normal">(</text>
<text x="1094.53" y="1595.50" style="font-family:&quot;Liberation Serif&quot;;font-size:27.78px;font-style:italic;font-weight:normal">t</text>
<text transform="translate(1106.73 1595.50) scale(1 1.1)" style="font-family:&quot;Liberation Serif&quot;;font-size:27.78px;font-style:normal;font-weight:normal">)</text>
<text transform="translate(1118.30 1594.57) scale(1.152 0.976)" style="font-family:&quot;Liberation Serif&quot;;font-size:27.78px;font-style:normal;font-weight:normal">|</text>
<text x="1125.87" y="1601.80" style="font-family:&quot;Liberation Serif&quot;;font-size:22.0px;font-style:italic;font-weight:normal">Q</text>
<text transform="translate(1151.79 1601.63) scale(1.165 2.085)" style="font-family:&quot;Liberation Serif&quot;;font-size:27.78px;font-style:normal;font-weight:normal">)</text>
<text transform="translate(1172.20 1597.85) scale(0.922 1.037)" style="font-family:&quot;Liberation Serif&quot;;font-size:27.78px;font-style:normal;font-weight:normal">·</text>
<text x="1187.13" y="1595.80" style="font-family:&quot;Liberation Serif&quot;;font-size:27.78px;font-style:normal;font-weight:bold">1</text>
<text transform="translate(1202.83 1601.50) scale(0.939 1.145)" style="font-family:&quot;Liberation Serif&quot;;font-size:20.0px;font-style:normal;font-weight:normal">[</text>
<text x="1210.77" y="1601.80" style="font-family:&quot;Liberation Serif&quot;;font-size:22.0px;font-style:italic;font-weight:normal">Q+</text>
<text x="1242.81" y="1601.80" style="font-family:&quot;Liberation Serif&quot;;font-size:22.0px;font-style:italic;font-weight:normal">n</text>
<text transform="translate(1258.41 1601.50) scale(0.939 1.145)" style="font-family:&quot;Liberation Serif&quot;;font-size:20.0px;font-style:normal;font-weight:normal">]</text>
<text transform="translate(1267.38 1611.14) scale(1.409 3.499)" style="font-family:&quot;Liberation Serif&quot;;font-size:27.78px;font-style:normal;font-weight:normal">)</text>
<text x="1283.06" y="1595.50" style="font-family:&quot;Liberation Serif&quot;;font-size:27.78px;font-style:normal;font-weight:normal">.</text>
<text x="1367.93" y="1595.50" style="font-family:&quot;Liberation Serif&quot;;font-size:27.78px;font-style:normal;font-weight:normal">(7.17)</text>
</svg>
</body></html>
